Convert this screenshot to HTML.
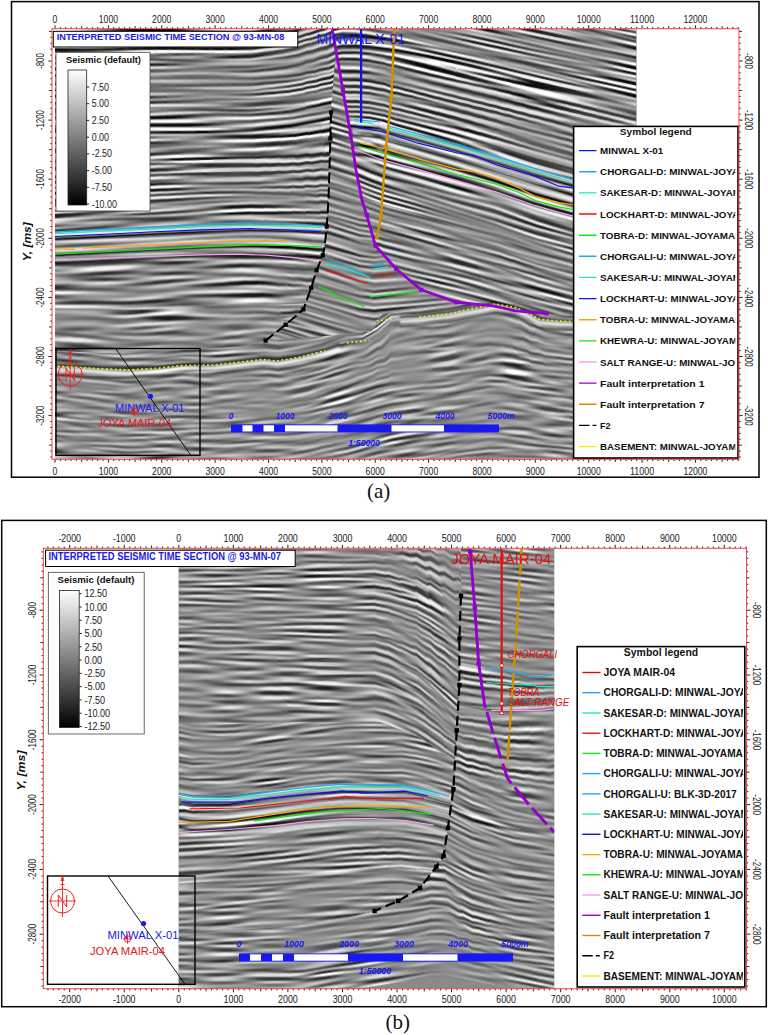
<!DOCTYPE html><html><head><meta charset="utf-8"><title>fig</title><style>html,body{margin:0;padding:0;background:#fff}svg{display:block}text{font-family:"Liberation Sans",sans-serif}</style></head><body><svg width="768" height="1035" viewBox="0 0 768 1035"><defs><filter id="fh" x="-300%" y="-60%" width="700%" height="220%" color-interpolation-filters="sRGB">
<feTurbulence type="fractalNoise" baseFrequency="0.010 0.42" numOctaves="1" seed="11" result="n0"/>
<feColorMatrix in="n0" type="matrix" values="1 0 0 0 0  1 0 0 0 0  1 0 0 0 0  0 0 0 0 1" result="n"/>
<feGaussianBlur in="n" stdDeviation="6 1.0" result="a"/>
<feGaussianBlur in="n" stdDeviation="6 2.5" result="b0"/>
<feColorMatrix in="b0" type="matrix" values="1 0 0 0 0.0588  0 1 0 0 0.0588  0 0 1 0 0.0588  0 0 0 0 1" result="b"/>
<feComposite in="a" in2="b" operator="arithmetic" k1="0" k2="8.5" k3="-8.5" k4="1" result="c"/>
<feTurbulence type="fractalNoise" baseFrequency="0.008 0.02" numOctaves="2" seed="5" result="m0"/>
<feColorMatrix in="m0" type="matrix" values="1.4 0 0 0 0.150  1.4 0 0 0 0.150  1.4 0 0 0 0.150  0 0 0 0 1" result="m"/>
<feComposite in="c" in2="m" operator="arithmetic" k1="1" k2="0" k3="-0.5" k4="0.53" result="e"/>
<feComposite in="e" in2="SourceAlpha" operator="in"/>
</filter><filter id="fm" x="-300%" y="-60%" width="700%" height="220%" color-interpolation-filters="sRGB">
<feTurbulence type="fractalNoise" baseFrequency="0.014 0.40" numOctaves="1" seed="17" result="n0"/>
<feColorMatrix in="n0" type="matrix" values="1 0 0 0 0  1 0 0 0 0  1 0 0 0 0  0 0 0 0 1" result="n"/>
<feGaussianBlur in="n" stdDeviation="4.5 1.0" result="a"/>
<feGaussianBlur in="n" stdDeviation="4.5 2.6" result="b0"/>
<feColorMatrix in="b0" type="matrix" values="1 0 0 0 0.0833  0 1 0 0 0.0833  0 0 1 0 0.0833  0 0 0 0 1" result="b"/>
<feComposite in="a" in2="b" operator="arithmetic" k1="0" k2="6.0" k3="-6.0" k4="1" result="c"/>
<feTurbulence type="fractalNoise" baseFrequency="0.008 0.02" numOctaves="2" seed="5" result="m0"/>
<feColorMatrix in="m0" type="matrix" values="1.4 0 0 0 0.050  1.4 0 0 0 0.050  1.4 0 0 0 0.050  0 0 0 0 1" result="m"/>
<feComposite in="c" in2="m" operator="arithmetic" k1="1" k2="0" k3="-0.5" k4="0.54" result="e"/>
<feComposite in="e" in2="SourceAlpha" operator="in"/>
</filter><filter id="fl" x="-300%" y="-60%" width="700%" height="220%" color-interpolation-filters="sRGB">
<feTurbulence type="fractalNoise" baseFrequency="0.020 0.44" numOctaves="1" seed="29" result="n0"/>
<feColorMatrix in="n0" type="matrix" values="1 0 0 0 0  1 0 0 0 0  1 0 0 0 0  0 0 0 0 1" result="n"/>
<feGaussianBlur in="n" stdDeviation="3.5 1.0" result="a"/>
<feGaussianBlur in="n" stdDeviation="3.5 2.4" result="b0"/>
<feColorMatrix in="b0" type="matrix" values="1 0 0 0 0.0769  0 1 0 0 0.0769  0 0 1 0 0.0769  0 0 0 0 1" result="b"/>
<feComposite in="a" in2="b" operator="arithmetic" k1="0" k2="6.5" k3="-6.5" k4="1" result="c"/>
<feTurbulence type="fractalNoise" baseFrequency="0.012 0.03" numOctaves="2" seed="5" result="m0"/>
<feColorMatrix in="m0" type="matrix" values="1.3 0 0 0 -0.030  1.3 0 0 0 -0.030  1.3 0 0 0 -0.030  0 0 0 0 1" result="m"/>
<feComposite in="c" in2="m" operator="arithmetic" k1="1" k2="0" k3="-0.5" k4="0.55" result="e"/>
<feComposite in="e" in2="SourceAlpha" operator="in"/>
</filter><filter id="fd" x="-300%" y="-60%" width="700%" height="220%" color-interpolation-filters="sRGB">
<feTurbulence type="fractalNoise" baseFrequency="0.028 0.44" numOctaves="1" seed="41" result="n0"/>
<feColorMatrix in="n0" type="matrix" values="1 0 0 0 0  1 0 0 0 0  1 0 0 0 0  0 0 0 0 1" result="n"/>
<feGaussianBlur in="n" stdDeviation="2.6 1.0" result="a"/>
<feGaussianBlur in="n" stdDeviation="2.6 2.4" result="b0"/>
<feColorMatrix in="b0" type="matrix" values="1 0 0 0 0.1000  0 1 0 0 0.1000  0 0 1 0 0.1000  0 0 0 0 1" result="b"/>
<feComposite in="a" in2="b" operator="arithmetic" k1="0" k2="5.0" k3="-5.0" k4="1" result="c"/>
<feTurbulence type="fractalNoise" baseFrequency="0.014 0.03" numOctaves="2" seed="5" result="m0"/>
<feColorMatrix in="m0" type="matrix" values="1.2 0 0 0 0.000  1.2 0 0 0 0.000  1.2 0 0 0 0.000  0 0 0 0 1" result="m"/>
<feComposite in="c" in2="m" operator="arithmetic" k1="1" k2="0" k3="-0.5" k4="0.56" result="e"/>
<feComposite in="e" in2="SourceAlpha" operator="in"/>
</filter><linearGradient id="cb" x1="0" y1="0" x2="0" y2="1"><stop offset="0" stop-color="#fff"/><stop offset="1" stop-color="#000"/></linearGradient><clipPath id="cAL"><polygon points="55.0,29.0 332.2,29.0 336.0,50.0 331.0,112.4 330.4,138.5 328.5,200.0 326.7,226.6 324.6,246.9 322.8,255.2 316.6,270.3 311.2,287.8 303.4,309.4 285.7,324.7 265.6,340.6 245.0,346.0 183.0,350.0 128.0,354.0 55.0,351.0"/></clipPath><clipPath id="cAM"><polygon points="336.0,50.0 342.9,90.3 350.7,134.6 356.0,170.0 361.9,200.0 366.8,215.1 375.4,245.6 396.2,269.0 421.3,289.8 456.2,302.3 420.0,309.0 380.0,314.0 372.0,331.0 347.0,334.0 300.0,338.0 265.6,340.6 285.7,324.7 303.4,309.4 311.2,287.8 316.6,270.3 322.8,255.2 324.6,246.9 326.7,226.6 328.5,200.0 330.4,138.5 331.0,112.4"/></clipPath><clipPath id="cAR"><polygon points="332.2,29.0 342.9,90.3 350.7,134.6 356.0,170.0 361.9,200.0 366.8,215.1 375.4,245.6 396.2,269.0 421.3,289.8 456.2,302.3 491.7,305.7 515.4,310.8 546.6,313.5 590.0,318.0 636.5,322.0 636.5,29.0"/></clipPath><clipPath id="cAD"><polygon points="55.0,351.0 128.0,354.0 183.0,350.0 245.0,346.0 265.6,340.6 300.0,338.0 347.0,334.0 372.0,331.0 380.0,314.0 420.0,309.0 456.2,302.3 491.7,305.7 515.4,310.8 546.6,313.5 590.0,318.0 636.5,322.0 636.5,459.0 55.0,459.0"/></clipPath><clipPath id="cA"><rect x="55" y="29" width="581.5" height="430"/></clipPath><filter id="bl1" x="-5%" y="-50%" width="110%" height="200%"><feGaussianBlur stdDeviation="1.0"/></filter><clipPath id="cLA"><rect x="574" y="127" width="161.3" height="330"/></clipPath><clipPath id="cBL"><polygon points="178.6,549.0 461.0,549.0 461.0,595.8 459.4,638.5 459.4,685.1 456.7,730.4 453.4,789.2 447.9,828.0 443.6,855.9 436.4,866.7 420.0,888.0 398.3,900.9 374.6,911.0 330.0,922.0 250.0,930.0 178.6,934.0"/></clipPath><clipPath id="cBR"><polygon points="461.0,549.0 461.0,595.8 459.4,638.5 459.4,685.1 456.7,730.4 453.4,789.2 447.9,828.0 443.6,855.9 436.4,866.7 420.0,888.0 398.3,900.9 374.6,911.0 330.0,922.0 250.0,930.0 178.6,934.0 178.6,988.5 554.3,988.5 554.3,549.0"/></clipPath><clipPath id="cB"><rect x="178.6" y="549" width="375.7" height="439.5"/></clipPath><clipPath id="cBL1"><polygon points="178.6,540.0 178.6,722.0 230.0,724.0 300.0,722.0 380.0,722.0 420.0,738.0 455.0,762.0 470.0,772.0 470.0,540.0"/></clipPath><clipPath id="cBL2"><polygon points="178.6,722.0 230.0,724.0 300.0,722.0 380.0,722.0 420.0,738.0 455.0,762.0 470.0,772.0 470.0,1000.0 178.6,1000.0"/></clipPath><clipPath id="cLB"><rect x="578" y="647" width="165.1" height="340"/></clipPath></defs><rect x="55" y="29" width="581.5" height="430" fill="#8a8a8a"/><g clip-path="url(#cA)"><g clip-path="url(#cAD)"><polygon points="54.1,324.3 69.7,324.3 69.2,370.2" transform="matrix(1 0.0588 0 1.0200 0 -13.74)" filter="url(#fl)"/><polygon points="54.8,323.9 69.9,369.8 54.3,369.8" transform="matrix(1 0.0588 0 1.0200 0 -13.74)" filter="url(#fl)"/><polygon points="54.1,368.4 69.7,368.4 69.2,417.2" transform="matrix(1 0.0588 0 1.0212 0 -14.18)" filter="url(#fd)"/><polygon points="54.8,368.0 69.9,416.7 54.3,416.8" transform="matrix(1 0.0548 0 1.0224 0 -14.40)" filter="url(#fd)"/><polygon points="54.1,415.4 69.7,415.4 69.2,466.2" transform="matrix(1 0.0548 0 1.0278 0 -16.66)" filter="url(#fd)"/><polygon points="54.8,415.0 69.9,465.8 54.3,465.8" transform="matrix(1 0.0822 0 1.0200 0 -14.91)" filter="url(#fd)"/><polygon points="54.1,464.4 69.7,464.4 69.1,521.1" transform="matrix(1 0.0822 0 1.0200 0 -14.91)" filter="url(#fd)"/><polygon points="54.9,464.0 69.9,520.7 54.3,520.7" transform="matrix(1 0.0822 0 1.0200 0 -14.91)" filter="url(#fd)"/><polygon points="68.1,324.3 83.7,324.3 83.2,370.2" transform="matrix(1 0.0588 0 1.0200 0 -13.74)" filter="url(#fl)"/><polygon points="68.8,323.9 83.9,369.8 68.3,369.8" transform="matrix(1 0.0588 0 1.0200 0 -13.74)" filter="url(#fl)"/><polygon points="68.1,368.4 83.7,368.4 83.2,417.2" transform="matrix(1 0.0588 0 1.0200 0 -13.74)" filter="url(#fd)"/><polygon points="68.8,368.0 83.9,416.7 68.3,416.8" transform="matrix(1 0.0548 0 1.0212 0 -13.90)" filter="url(#fd)"/><polygon points="68.1,415.4 83.7,415.4 83.2,466.2" transform="matrix(1 0.0548 0 1.0356 0 -19.91)" filter="url(#fd)"/><polygon points="68.8,415.0 83.9,465.8 68.3,465.8" transform="matrix(1 0.0822 0 1.0278 0 -18.55)" filter="url(#fd)"/><polygon points="68.1,464.4 83.7,464.4 83.1,521.1" transform="matrix(1 0.0822 0 1.0200 0 -14.91)" filter="url(#fd)"/><polygon points="68.9,464.0 83.9,520.7 68.3,520.7" transform="matrix(1 0.0822 0 1.0200 0 -14.91)" filter="url(#fd)"/><polygon points="82.1,324.3 97.7,324.3 97.2,370.2" transform="matrix(1 0.0545 0 1.0200 0 -13.38)" filter="url(#fl)"/><polygon points="82.8,323.9 97.9,369.8 82.3,369.8" transform="matrix(1 0.0545 0 1.0200 0 -13.38)" filter="url(#fl)"/><polygon points="82.1,368.4 97.7,368.4 97.2,417.2" transform="matrix(1 0.0545 0 1.0201 0 -13.41)" filter="url(#fd)"/><polygon points="82.8,368.0 97.9,416.7 82.3,416.8" transform="matrix(1 0.0548 0 1.0200 0 -13.40)" filter="url(#fd)"/><polygon points="82.1,415.4 97.7,415.4 97.2,466.2" transform="matrix(1 0.0548 0 1.0435 0 -23.17)" filter="url(#fd)"/><polygon points="82.8,415.0 97.9,465.8 82.3,465.8" transform="matrix(1 0.0822 0 1.0356 0 -22.19)" filter="url(#fd)"/><polygon points="82.1,464.4 97.7,464.4 97.1,521.1" transform="matrix(1 0.0822 0 1.0200 0 -14.91)" filter="url(#fd)"/><polygon points="82.9,464.0 97.9,520.7 82.3,520.7" transform="matrix(1 0.0822 0 1.0200 0 -14.91)" filter="url(#fd)"/><polygon points="96.1,324.3 111.7,324.3 111.2,370.2" transform="matrix(1 0.0513 0 1.0200 0 -13.06)" filter="url(#fl)"/><polygon points="96.8,323.9 111.9,369.8 96.3,369.8" transform="matrix(1 0.0513 0 1.0200 0 -13.06)" filter="url(#fl)"/><polygon points="96.1,368.4 111.7,368.4 111.2,417.2" transform="matrix(1 0.0513 0 1.0211 0 -13.48)" filter="url(#fd)"/><polygon points="96.8,368.0 111.9,416.7 96.3,416.8" transform="matrix(1 0.0548 0 1.0201 0 -13.44)" filter="url(#fd)"/><polygon points="96.1,415.4 111.7,415.4 111.2,466.2" transform="matrix(1 0.0548 0 1.0513 0 -26.42)" filter="url(#fd)"/><polygon points="96.8,415.0 111.9,465.8 96.3,465.8" transform="matrix(1 0.0822 0 1.0435 0 -25.83)" filter="url(#fd)"/><polygon points="96.1,464.4 111.7,464.4 111.1,521.1" transform="matrix(1 0.0822 0 1.0200 0 -14.91)" filter="url(#fd)"/><polygon points="96.9,464.0 111.9,520.7 96.3,520.7" transform="matrix(1 0.0822 0 1.0200 0 -14.91)" filter="url(#fd)"/><polygon points="110.1,324.3 125.7,324.3 125.2,370.2" transform="matrix(1 0.0513 0 1.0200 0 -13.06)" filter="url(#fl)"/><polygon points="110.8,323.9 125.9,369.8 110.3,369.8" transform="matrix(1 0.0513 0 1.0200 0 -13.06)" filter="url(#fl)"/><polygon points="110.1,368.4 125.7,368.4 125.2,417.2" transform="matrix(1 0.0513 0 1.0222 0 -13.87)" filter="url(#fd)"/><polygon points="110.8,368.0 125.9,416.7 110.3,416.8" transform="matrix(1 0.0548 0 1.0211 0 -13.87)" filter="url(#fd)"/><polygon points="110.1,415.4 125.7,415.4 125.2,466.2" transform="matrix(1 0.0548 0 1.0591 0 -29.68)" filter="url(#fd)"/><polygon points="110.8,415.0 125.9,465.8 110.3,465.8" transform="matrix(1 0.0822 0 1.0513 0 -29.46)" filter="url(#fd)"/><polygon points="110.1,464.4 125.7,464.4 125.1,521.1" transform="matrix(1 0.0822 0 1.0200 0 -14.91)" filter="url(#fd)"/><polygon points="110.9,464.0 125.9,520.7 110.3,520.7" transform="matrix(1 0.0822 0 1.0200 0 -14.91)" filter="url(#fd)"/><polygon points="124.1,324.3 139.7,324.3 139.2,370.2" transform="matrix(1 -0.0397 0 1.0200 0 -1.69)" filter="url(#fl)"/><polygon points="124.8,323.9 139.9,369.8 124.3,369.8" transform="matrix(1 -0.0397 0 1.0200 0 -1.69)" filter="url(#fl)"/><polygon points="124.1,368.4 139.7,368.4 139.2,417.2" transform="matrix(1 -0.0397 0 1.0293 0 -5.14)" filter="url(#fd)"/><polygon points="124.8,368.0 139.9,416.7 124.3,416.8" transform="matrix(1 -0.0157 0 1.0222 0 -5.50)" filter="url(#fd)"/><polygon points="124.1,415.4 139.7,415.4 139.2,466.2" transform="matrix(1 -0.0157 0 1.0686 0 -24.83)" filter="url(#fd)"/><polygon points="124.8,415.0 139.9,465.8 124.3,465.8" transform="matrix(1 0.0176 0 1.0591 0 -25.03)" filter="url(#fd)"/><polygon points="124.1,464.4 139.7,464.4 139.1,521.1" transform="matrix(1 0.0176 0 1.0200 0 -6.84)" filter="url(#fd)"/><polygon points="124.9,464.0 139.9,520.7 124.3,520.7" transform="matrix(1 0.0176 0 1.0200 0 -6.84)" filter="url(#fd)"/><polygon points="138.1,324.3 153.7,324.3 153.2,370.2" transform="matrix(1 -0.0645 0 1.0200 0 1.76)" filter="url(#fl)"/><polygon points="138.8,323.9 153.9,369.8 138.3,369.8" transform="matrix(1 -0.0645 0 1.0200 0 1.76)" filter="url(#fl)"/><polygon points="138.1,368.4 153.7,368.4 153.2,417.2" transform="matrix(1 -0.0645 0 1.0382 0 -4.95)" filter="url(#fd)"/><polygon points="138.8,368.0 153.9,416.7 138.3,416.8" transform="matrix(1 -0.0349 0 1.0293 0 -5.81)" filter="url(#fd)"/><polygon points="138.1,415.4 153.7,415.4 153.2,466.2" transform="matrix(1 -0.0349 0 1.0786 0 -26.30)" filter="url(#fd)"/><polygon points="138.8,415.0 153.9,465.8 138.3,465.8" transform="matrix(1 0.0000 0 1.0686 0 -27.00)" filter="url(#fd)"/><polygon points="138.1,464.4 153.7,464.4 153.1,521.1" transform="matrix(1 0.0000 0 1.0200 0 -4.39)" filter="url(#fd)"/><polygon points="138.9,464.0 153.9,520.7 138.3,520.7" transform="matrix(1 -0.0000 0 1.0200 0 -4.39)" filter="url(#fd)"/><polygon points="152.1,324.3 167.7,324.3 167.2,370.2" transform="matrix(1 -0.0896 0 1.0200 0 5.59)" filter="url(#fl)"/><polygon points="152.8,323.9 167.9,369.8 152.3,369.8" transform="matrix(1 -0.0896 0 1.0200 0 5.59)" filter="url(#fl)"/><polygon points="152.1,368.4 167.7,368.4 167.2,417.2" transform="matrix(1 -0.0896 0 1.0545 0 -7.14)" filter="url(#fd)"/><polygon points="152.8,368.0 167.9,416.7 152.3,416.8" transform="matrix(1 -0.0349 0 1.0382 0 -9.49)" filter="url(#fd)"/><polygon points="152.1,415.4 167.7,415.4 167.2,466.2" transform="matrix(1 -0.0349 0 1.0886 0 -30.44)" filter="url(#fd)"/><polygon points="152.8,415.0 167.9,465.8 152.3,465.8" transform="matrix(1 -0.0000 0 1.0786 0 -31.64)" filter="url(#fd)"/><polygon points="152.1,464.4 167.7,464.4 167.1,521.1" transform="matrix(1 -0.0000 0 1.0200 0 -4.39)" filter="url(#fd)"/><polygon points="152.9,464.0 167.9,520.7 152.3,520.7" transform="matrix(1 -0.0000 0 1.0200 0 -4.39)" filter="url(#fd)"/><polygon points="166.1,324.3 181.7,324.3 181.2,370.2" transform="matrix(1 -0.1083 0 1.0200 0 8.73)" filter="url(#fl)"/><polygon points="166.8,323.9 181.9,369.8 166.3,369.8" transform="matrix(1 -0.1083 0 1.0200 0 8.72)" filter="url(#fl)"/><polygon points="166.1,368.4 181.7,368.4 181.2,417.2" transform="matrix(1 -0.1083 0 1.0764 0 -12.09)" filter="url(#fd)"/><polygon points="166.8,368.0 181.9,416.7 166.3,416.8" transform="matrix(1 -0.0349 0 1.0545 0 -16.27)" filter="url(#fd)"/><polygon points="166.1,415.4 181.7,415.4 181.2,466.2" transform="matrix(1 -0.0349 0 1.0985 0 -34.59)" filter="url(#fd)"/><polygon points="166.8,415.0 181.9,465.8 166.3,465.8" transform="matrix(1 0.0000 0 1.0886 0 -36.27)" filter="url(#fd)"/><polygon points="166.1,464.4 181.7,464.4 181.1,521.1" transform="matrix(1 0.0000 0 1.0200 0 -4.39)" filter="url(#fd)"/><polygon points="166.9,464.0 181.9,520.7 166.3,520.7" transform="matrix(1 -0.0000 0 1.0200 0 -4.39)" filter="url(#fd)"/><polygon points="180.1,324.3 195.7,324.3 195.2,370.2" transform="matrix(1 -0.0265 0 1.0200 0 -6.08)" filter="url(#fl)"/><polygon points="180.8,323.9 195.9,369.8 180.3,369.8" transform="matrix(1 -0.0265 0 1.0200 0 -6.08)" filter="url(#fl)"/><polygon points="180.1,368.4 195.7,368.4 195.2,417.2" transform="matrix(1 -0.0265 0 1.0739 0 -25.98)" filter="url(#fd)"/><polygon points="180.8,368.0 195.9,416.7 180.3,416.8" transform="matrix(1 -0.0349 0 1.0764 0 -25.38)" filter="url(#fd)"/><polygon points="180.1,415.4 195.7,415.4 195.2,466.2" transform="matrix(1 -0.0349 0 1.1085 0 -38.74)" filter="url(#fd)"/><polygon points="180.8,415.0 195.9,465.8 180.3,465.8" transform="matrix(1 -0.0000 0 1.0985 0 -40.90)" filter="url(#fd)"/><polygon points="180.1,464.4 195.7,464.4 195.1,521.1" transform="matrix(1 -0.0000 0 1.0200 0 -4.39)" filter="url(#fd)"/><polygon points="180.9,464.0 195.9,520.7 180.3,520.7" transform="matrix(1 -0.0000 0 1.0200 0 -4.39)" filter="url(#fd)"/><polygon points="194.1,324.3 209.7,324.3 209.2,370.2" transform="matrix(1 -0.0129 0 1.0200 0 -8.74)" filter="url(#fl)"/><polygon points="194.8,323.9 209.9,369.8 194.3,369.8" transform="matrix(1 -0.0129 0 1.0200 0 -8.74)" filter="url(#fl)"/><polygon points="194.1,368.4 209.7,368.4 209.2,417.2" transform="matrix(1 -0.0129 0 1.0673 0 -26.21)" filter="url(#fd)"/><polygon points="194.8,368.0 209.9,416.7 194.3,416.8" transform="matrix(1 -0.0349 0 1.0739 0 -24.35)" filter="url(#fd)"/><polygon points="194.1,415.4 209.7,415.4 209.2,466.2" transform="matrix(1 -0.0349 0 1.1184 0 -42.88)" filter="url(#fd)"/><polygon points="194.8,415.0 209.9,465.8 194.3,465.8" transform="matrix(1 -0.0000 0 1.1085 0 -45.54)" filter="url(#fd)"/><polygon points="194.1,464.4 209.7,464.4 209.1,521.1" transform="matrix(1 -0.0000 0 1.0200 0 -4.39)" filter="url(#fd)"/><polygon points="194.9,464.0 209.9,520.7 194.3,520.7" transform="matrix(1 0.0000 0 1.0200 0 -4.39)" filter="url(#fd)"/><polygon points="208.1,324.3 223.7,324.3 223.2,370.2" transform="matrix(1 -0.0772 0 1.0200 0 4.70)" filter="url(#fl)"/><polygon points="208.8,323.9 223.9,369.8 208.3,369.8" transform="matrix(1 -0.0772 0 1.0200 0 4.70)" filter="url(#fl)"/><polygon points="208.1,368.4 223.7,368.4 223.2,417.2" transform="matrix(1 -0.0772 0 1.0733 0 -14.97)" filter="url(#fd)"/><polygon points="208.8,368.0 223.9,416.7 208.3,416.8" transform="matrix(1 -0.0573 0 1.0673 0 -16.93)" filter="url(#fd)"/><polygon points="208.1,415.4 223.7,415.4 223.2,466.2" transform="matrix(1 -0.0573 0 1.1263 0 -41.45)" filter="url(#fd)"/><polygon points="208.8,415.0 223.9,465.8 208.3,465.8" transform="matrix(1 -0.0299 0 1.1184 0 -43.92)" filter="url(#fd)"/><polygon points="208.1,464.4 223.7,464.4 223.1,521.1" transform="matrix(1 -0.0299 0 1.0200 0 1.86)" filter="url(#fd)"/><polygon points="208.9,464.0 223.9,520.7 208.3,520.7" transform="matrix(1 -0.0299 0 1.0200 0 1.86)" filter="url(#fd)"/><polygon points="222.1,324.3 237.7,324.3 237.2,370.2" transform="matrix(1 -0.1129 0 1.0200 0 12.66)" filter="url(#fl)"/><polygon points="222.8,323.9 237.9,369.8 222.3,369.8" transform="matrix(1 -0.1129 0 1.0200 0 12.66)" filter="url(#fl)"/><polygon points="222.1,368.4 237.7,368.4 237.2,417.2" transform="matrix(1 -0.1129 0 1.0861 0 -11.75)" filter="url(#fd)"/><polygon points="222.8,368.0 237.9,416.7 222.3,416.8" transform="matrix(1 -0.0698 0 1.0733 0 -16.62)" filter="url(#fd)"/><polygon points="222.1,415.4 237.7,415.4 237.2,466.2" transform="matrix(1 -0.0698 0 1.1329 0 -41.44)" filter="url(#fd)"/><polygon points="222.8,415.0 237.9,465.8 222.3,465.8" transform="matrix(1 -0.0465 0 1.1263 0 -43.86)" filter="url(#fd)"/><polygon points="222.1,464.4 237.7,464.4 237.1,521.1" transform="matrix(1 -0.0465 0 1.0200 0 5.57)" filter="url(#fd)"/><polygon points="222.9,464.0 237.9,520.7 222.3,520.7" transform="matrix(1 -0.0465 0 1.0200 0 5.57)" filter="url(#fd)"/><polygon points="236.1,324.3 251.7,324.3 251.2,370.2" transform="matrix(1 -0.1121 0 1.0200 0 12.48)" filter="url(#fl)"/><polygon points="236.8,323.9 251.9,369.8 236.3,369.8" transform="matrix(1 -0.1121 0 1.0200 0 12.48)" filter="url(#fl)"/><polygon points="236.1,368.4 251.7,368.4 251.2,417.2" transform="matrix(1 -0.1121 0 1.0988 0 -16.60)" filter="url(#fd)"/><polygon points="236.8,368.0 251.9,416.7 236.3,416.8" transform="matrix(1 -0.0698 0 1.0861 0 -21.97)" filter="url(#fd)"/><polygon points="236.1,415.4 251.7,415.4 251.2,466.2" transform="matrix(1 -0.0698 0 1.1396 0 -44.20)" filter="url(#fd)"/><polygon points="236.8,415.0 251.9,465.8 236.3,465.8" transform="matrix(1 -0.0465 0 1.1329 0 -46.95)" filter="url(#fd)"/><polygon points="236.1,464.4 251.7,464.4 251.1,521.1" transform="matrix(1 -0.0465 0 1.0200 0 5.57)" filter="url(#fd)"/><polygon points="236.9,464.0 251.9,520.7 236.3,520.7" transform="matrix(1 -0.0465 0 1.0200 0 5.57)" filter="url(#fd)"/><polygon points="250.1,324.3 265.7,324.3 265.2,370.2" transform="matrix(1 -0.0799 0 1.0200 0 4.40)" filter="url(#fl)"/><polygon points="250.8,323.9 265.9,369.8 250.3,369.8" transform="matrix(1 -0.0799 0 1.0200 0 4.40)" filter="url(#fl)"/><polygon points="250.1,368.4 265.7,368.4 265.2,417.2" transform="matrix(1 -0.0799 0 1.1018 0 -25.80)" filter="url(#fd)"/><polygon points="250.8,368.0 265.9,416.7 250.3,416.8" transform="matrix(1 -0.0698 0 1.0988 0 -27.23)" filter="url(#fd)"/><polygon points="250.1,415.4 265.7,415.4 265.2,466.2" transform="matrix(1 -0.0698 0 1.1462 0 -46.96)" filter="url(#fd)"/><polygon points="250.8,415.0 265.9,465.8 250.3,465.8" transform="matrix(1 -0.0465 0 1.1396 0 -50.04)" filter="url(#fd)"/><polygon points="250.1,464.4 265.7,464.4 265.1,521.1" transform="matrix(1 -0.0465 0 1.0200 0 5.57)" filter="url(#fd)"/><polygon points="250.9,464.0 265.9,520.7 250.3,520.7" transform="matrix(1 -0.0465 0 1.0200 0 5.57)" filter="url(#fd)"/><polygon points="264.1,324.3 279.7,324.3 279.2,370.2" transform="matrix(1 0.0670 0 1.0200 0 -34.54)" filter="url(#fl)"/><polygon points="264.8,323.9 279.9,369.8 264.3,369.8" transform="matrix(1 0.0670 0 1.0200 0 -34.54)" filter="url(#fl)"/><polygon points="264.1,368.4 279.7,368.4 279.2,417.2" transform="matrix(1 0.0670 0 1.0610 0 -49.68)" filter="url(#fd)"/><polygon points="264.8,368.0 279.9,416.7 264.3,416.8" transform="matrix(1 -0.0698 0 1.1018 0 -28.49)" filter="url(#fd)"/><polygon points="264.1,415.4 279.7,415.4 279.2,466.2" transform="matrix(1 -0.0698 0 1.1528 0 -49.73)" filter="url(#fd)"/><polygon points="264.8,415.0 279.9,465.8 264.3,465.8" transform="matrix(1 -0.0465 0 1.1462 0 -53.13)" filter="url(#fd)"/><polygon points="264.1,464.4 279.7,464.4 279.1,521.1" transform="matrix(1 -0.0465 0 1.0200 0 5.57)" filter="url(#fd)"/><polygon points="264.9,464.0 279.9,520.7 264.3,520.7" transform="matrix(1 -0.0465 0 1.0200 0 5.57)" filter="url(#fd)"/><polygon points="278.1,324.3 293.7,324.3 293.2,370.2" transform="matrix(1 -0.1739 0 1.0200 0 32.67)" filter="url(#fl)"/><polygon points="278.8,323.9 293.9,369.8 278.3,369.8" transform="matrix(1 -0.1739 0 1.0200 0 32.67)" filter="url(#fl)"/><polygon points="278.1,368.4 293.7,368.4 293.2,417.2" transform="matrix(1 -0.1739 0 1.0921 0 6.07)" filter="url(#fd)"/><polygon points="278.8,368.0 293.9,416.7 278.3,416.8" transform="matrix(1 -0.0698 0 1.0610 0 -11.52)" filter="url(#fd)"/><polygon points="278.1,415.4 293.7,415.4 293.2,466.2" transform="matrix(1 -0.0698 0 1.1595 0 -52.49)" filter="url(#fd)"/><polygon points="278.8,415.0 293.9,465.8 278.3,465.8" transform="matrix(1 -0.0465 0 1.1528 0 -56.21)" filter="url(#fd)"/><polygon points="278.1,464.4 293.7,464.4 293.1,521.1" transform="matrix(1 -0.0465 0 1.0200 0 5.57)" filter="url(#fd)"/><polygon points="278.9,464.0 293.9,520.7 278.3,520.7" transform="matrix(1 -0.0465 0 1.0200 0 5.57)" filter="url(#fd)"/><polygon points="292.1,324.3 307.7,324.3 307.2,370.2" transform="matrix(1 -0.2170 0 1.0200 0 45.29)" filter="url(#fl)"/><polygon points="292.8,323.9 307.9,369.8 292.3,369.8" transform="matrix(1 -0.2170 0 1.0200 0 45.29)" filter="url(#fl)"/><polygon points="292.1,368.4 307.7,368.4 307.2,417.2" transform="matrix(1 -0.2170 0 1.1051 0 13.86)" filter="url(#fd)"/><polygon points="292.8,368.0 307.9,416.7 292.3,416.8" transform="matrix(1 -0.1732 0 1.0921 0 5.86)" filter="url(#fd)"/><polygon points="292.1,415.4 307.7,415.4 307.2,466.2" transform="matrix(1 -0.1732 0 1.1780 0 -29.89)" filter="url(#fd)"/><polygon points="292.8,415.0 307.9,465.8 292.3,465.8" transform="matrix(1 -0.1084 0 1.1595 0 -41.18)" filter="url(#fd)"/><polygon points="292.1,464.4 307.7,464.4 307.1,521.1" transform="matrix(1 -0.1084 0 1.0200 0 23.69)" filter="url(#fd)"/><polygon points="292.9,464.0 307.9,520.7 292.3,520.7" transform="matrix(1 -0.1084 0 1.0200 0 23.69)" filter="url(#fd)"/><polygon points="306.1,324.3 321.7,324.3 321.2,370.2" transform="matrix(1 -0.2600 0 1.0200 0 58.50)" filter="url(#fl)"/><polygon points="306.8,323.9 321.9,369.8 306.3,369.8" transform="matrix(1 -0.2600 0 1.0200 0 58.50)" filter="url(#fl)"/><polygon points="306.1,368.4 321.7,368.4 321.2,417.2" transform="matrix(1 -0.2600 0 1.1002 0 28.90)" filter="url(#fd)"/><polygon points="306.8,368.0 321.9,416.7 306.3,416.8" transform="matrix(1 -0.2766 0 1.1051 0 32.17)" filter="url(#fd)"/><polygon points="306.1,415.4 321.7,415.4 321.2,466.2" transform="matrix(1 -0.2766 0 1.2084 0 -10.78)" filter="url(#fd)"/><polygon points="306.8,415.0 321.9,465.8 306.3,465.8" transform="matrix(1 -0.1702 0 1.1780 0 -30.80)" filter="url(#fd)"/><polygon points="306.1,464.4 321.7,464.4 321.1,521.1" transform="matrix(1 -0.1702 0 1.0200 0 42.68)" filter="url(#fd)"/><polygon points="306.9,464.0 321.9,520.7 306.3,520.7" transform="matrix(1 -0.1702 0 1.0200 0 42.68)" filter="url(#fd)"/><polygon points="320.1,324.3 335.7,324.3 335.2,370.2" transform="matrix(1 -0.3275 0 1.0200 0 80.18)" filter="url(#fl)"/><polygon points="320.8,323.9 335.9,369.8 320.3,369.8" transform="matrix(1 -0.3275 0 1.0200 0 80.18)" filter="url(#fl)"/><polygon points="320.1,368.4 335.7,368.4 335.2,417.2" transform="matrix(1 -0.3275 0 1.1154 0 44.98)" filter="url(#fd)"/><polygon points="320.8,368.0 335.9,416.7 320.3,416.8" transform="matrix(1 -0.2766 0 1.1002 0 34.23)" filter="url(#fd)"/><polygon points="320.1,415.4 335.7,415.4 335.2,466.2" transform="matrix(1 -0.2766 0 1.2388 0 -23.43)" filter="url(#fd)"/><polygon points="320.8,415.0 335.9,465.8 320.3,465.8" transform="matrix(1 -0.1702 0 1.2084 0 -44.93)" filter="url(#fd)"/><polygon points="320.1,464.4 335.7,464.4 335.1,521.1" transform="matrix(1 -0.1702 0 1.0200 0 42.68)" filter="url(#fd)"/><polygon points="320.9,464.0 335.9,520.7 320.3,520.7" transform="matrix(1 -0.1702 0 1.0200 0 42.68)" filter="url(#fd)"/><polygon points="334.1,324.3 349.7,324.3 349.2,370.2" transform="matrix(1 -0.3269 0 1.0200 0 79.96)" filter="url(#fl)"/><polygon points="334.8,323.9 349.9,369.8 334.3,369.8" transform="matrix(1 -0.3269 0 1.0200 0 79.96)" filter="url(#fl)"/><polygon points="334.1,368.4 349.7,368.4 349.2,417.2" transform="matrix(1 -0.3269 0 1.1287 0 39.84)" filter="url(#fd)"/><polygon points="334.8,368.0 349.9,416.7 334.3,416.8" transform="matrix(1 -0.2822 0 1.1154 0 29.79)" filter="url(#fd)"/><polygon points="334.1,415.4 349.7,415.4 349.2,466.2" transform="matrix(1 -0.2822 0 1.2669 0 -33.28)" filter="url(#fd)"/><polygon points="334.8,415.0 349.9,465.8 334.3,465.8" transform="matrix(1 -0.1835 0 1.2388 0 -54.62)" filter="url(#fd)"/><polygon points="334.1,464.4 349.7,464.4 349.1,521.1" transform="matrix(1 -0.1835 0 1.0200 0 47.12)" filter="url(#fd)"/><polygon points="334.9,464.0 349.9,520.7 334.3,520.7" transform="matrix(1 -0.1835 0 1.0200 0 47.12)" filter="url(#fd)"/><polygon points="348.1,324.3 363.7,324.3 363.2,370.2" transform="matrix(1 -0.1609 0 1.0200 0 22.02)" filter="url(#fl)"/><polygon points="348.8,323.9 363.9,369.8 348.3,369.8" transform="matrix(1 -0.1609 0 1.0200 0 22.02)" filter="url(#fl)"/><polygon points="348.1,368.4 363.7,368.4 363.2,417.2" transform="matrix(1 -0.1609 0 1.0825 0 -1.05)" filter="url(#fd)"/><polygon points="348.8,368.0 363.9,416.7 348.3,416.8" transform="matrix(1 -0.3158 0 1.1287 0 35.97)" filter="url(#fd)"/><polygon points="348.1,415.4 363.7,415.4 363.2,466.2" transform="matrix(1 -0.3158 0 1.2820 0 -27.81)" filter="url(#fd)"/><polygon points="348.8,415.0 363.9,465.8 348.3,465.8" transform="matrix(1 -0.2632 0 1.2669 0 -39.92)" filter="url(#fd)"/><polygon points="348.1,464.4 363.7,464.4 363.1,521.1" transform="matrix(1 -0.2632 0 1.0200 0 74.93)" filter="url(#fd)"/><polygon points="348.9,464.0 363.9,520.7 348.3,520.7" transform="matrix(1 -0.2632 0 1.0200 0 74.93)" filter="url(#fd)"/><polygon points="362.1,324.3 377.7,324.3 377.2,370.2" transform="matrix(1 -0.5804 0 1.0200 0 174.32)" filter="url(#fl)"/><polygon points="362.8,323.9 377.9,369.8 362.3,369.8" transform="matrix(1 -0.5804 0 1.0200 0 174.32)" filter="url(#fl)"/><polygon points="362.1,368.4 377.7,368.4 377.2,417.2" transform="matrix(1 -0.5804 0 1.1614 0 122.13)" filter="url(#fd)"/><polygon points="362.8,368.0 377.9,416.7 362.3,416.8" transform="matrix(1 -0.3158 0 1.0825 0 55.19)" filter="url(#fd)"/><polygon points="362.1,415.4 377.7,415.4 377.2,466.2" transform="matrix(1 -0.3158 0 1.2970 0 -34.06)" filter="url(#fd)"/><polygon points="362.8,415.0 377.9,465.8 362.3,465.8" transform="matrix(1 -0.2632 0 1.2820 0 -46.91)" filter="url(#fd)"/><polygon points="362.1,464.4 377.7,464.4 377.1,521.1" transform="matrix(1 -0.2632 0 1.0200 0 74.93)" filter="url(#fd)"/><polygon points="362.9,464.0 377.9,520.7 362.3,520.7" transform="matrix(1 -0.2632 0 1.0200 0 74.93)" filter="url(#fd)"/><polygon points="376.1,324.3 391.7,324.3 391.2,370.2" transform="matrix(1 -0.8333 0 1.0200 0 269.67)" filter="url(#fl)"/><polygon points="376.8,323.9 391.9,369.8 376.3,369.8" transform="matrix(1 -0.8333 0 1.0200 0 269.67)" filter="url(#fl)"/><polygon points="376.1,368.4 391.7,368.4 391.2,417.2" transform="matrix(1 -0.8333 0 1.3399 0 151.60)" filter="url(#fd)"/><polygon points="376.8,368.0 391.9,416.7 376.3,416.8" transform="matrix(1 -0.2349 0 1.1614 0 -8.15)" filter="url(#fd)"/><polygon points="376.1,415.4 391.7,415.4 391.2,466.2" transform="matrix(1 -0.2349 0 1.3017 0 -66.53)" filter="url(#fd)"/><polygon points="376.8,415.0 391.9,465.8 376.3,465.8" transform="matrix(1 -0.2184 0 1.2970 0 -70.78)" filter="url(#fd)"/><polygon points="376.1,464.4 391.7,464.4 391.1,521.1" transform="matrix(1 -0.2184 0 1.0200 0 58.06)" filter="url(#fd)"/><polygon points="376.9,464.0 391.9,520.7 376.3,520.7" transform="matrix(1 -0.2184 0 1.0200 0 58.06)" filter="url(#fd)"/><polygon points="390.1,324.3 405.7,324.3 405.2,370.2" transform="matrix(1 -0.1718 0 1.0200 0 11.01)" filter="url(#fl)"/><polygon points="390.8,323.9 405.9,369.8 390.3,369.8" transform="matrix(1 -0.1718 0 1.0200 0 11.01)" filter="url(#fl)"/><polygon points="390.1,368.4 405.7,368.4 405.2,417.2" transform="matrix(1 -0.1718 0 1.3532 0 -111.99)" filter="url(#fd)"/><polygon points="390.8,368.0 405.9,416.7 390.3,416.8" transform="matrix(1 -0.1270 0 1.3399 0 -124.59)" filter="url(#fd)"/><polygon points="390.1,415.4 405.7,415.4 405.2,466.2" transform="matrix(1 -0.1270 0 1.2926 0 -104.94)" filter="url(#fd)"/><polygon points="390.8,415.0 405.9,465.8 390.3,465.8" transform="matrix(1 -0.1587 0 1.3017 0 -96.30)" filter="url(#fd)"/><polygon points="390.1,464.4 405.7,464.4 405.1,521.1" transform="matrix(1 -0.1587 0 1.0200 0 34.72)" filter="url(#fd)"/><polygon points="390.9,464.0 405.9,520.7 390.3,520.7" transform="matrix(1 -0.1587 0 1.0200 0 34.72)" filter="url(#fd)"/><polygon points="404.1,324.3 419.7,324.3 419.2,370.2" transform="matrix(1 -0.0520 0 1.0200 0 -37.51)" filter="url(#fl)"/><polygon points="404.8,323.9 419.9,369.8 404.3,369.8" transform="matrix(1 -0.0520 0 1.0200 0 -37.51)" filter="url(#fl)"/><polygon points="404.1,368.4 419.7,368.4 419.2,417.2" transform="matrix(1 -0.0520 0 1.3309 0 -152.26)" filter="url(#fd)"/><polygon points="404.8,368.0 419.9,416.7 404.3,416.8" transform="matrix(1 -0.1270 0 1.3532 0 -130.15)" filter="url(#fd)"/><polygon points="404.1,415.4 419.7,415.4 419.2,466.2" transform="matrix(1 -0.1270 0 1.2836 0 -101.17)" filter="url(#fd)"/><polygon points="404.8,415.0 419.9,465.8 404.3,465.8" transform="matrix(1 -0.1587 0 1.2926 0 -92.08)" filter="url(#fd)"/><polygon points="404.1,464.4 419.7,464.4 419.1,521.1" transform="matrix(1 -0.1587 0 1.0200 0 34.72)" filter="url(#fd)"/><polygon points="404.9,464.0 419.9,520.7 404.3,520.7" transform="matrix(1 -0.1587 0 1.0200 0 34.72)" filter="url(#fd)"/><polygon points="418.1,324.3 433.7,324.3 433.2,370.2" transform="matrix(1 -0.1172 0 1.0200 0 -10.18)" filter="url(#fl)"/><polygon points="418.8,323.9 433.9,369.8 418.3,369.8" transform="matrix(1 -0.1172 0 1.0200 0 -10.18)" filter="url(#fl)"/><polygon points="418.1,368.4 433.7,368.4 433.2,417.2" transform="matrix(1 -0.1172 0 1.3280 0 -123.86)" filter="url(#fd)"/><polygon points="418.8,368.0 433.9,416.7 418.3,416.8" transform="matrix(1 -0.1270 0 1.3309 0 -120.85)" filter="url(#fd)"/><polygon points="418.1,415.4 433.7,415.4 433.2,466.2" transform="matrix(1 -0.1270 0 1.2745 0 -97.39)" filter="url(#fd)"/><polygon points="418.8,415.0 433.9,465.8 418.3,465.8" transform="matrix(1 -0.1587 0 1.2836 0 -87.86)" filter="url(#fd)"/><polygon points="418.1,464.4 433.7,464.4 433.1,521.1" transform="matrix(1 -0.1587 0 1.0200 0 34.72)" filter="url(#fd)"/><polygon points="418.9,464.0 433.9,520.7 418.3,520.7" transform="matrix(1 -0.1587 0 1.0200 0 34.72)" filter="url(#fd)"/><polygon points="432.1,324.3 447.7,324.3 447.2,370.2" transform="matrix(1 -0.1172 0 1.0200 0 -10.18)" filter="url(#fl)"/><polygon points="432.8,323.9 447.9,369.8 432.3,369.8" transform="matrix(1 -0.1172 0 1.0200 0 -10.18)" filter="url(#fl)"/><polygon points="432.1,368.4 447.7,368.4 447.2,417.2" transform="matrix(1 -0.1172 0 1.3251 0 -122.78)" filter="url(#fd)"/><polygon points="432.8,368.0 447.9,416.7 432.3,416.8" transform="matrix(1 -0.1270 0 1.3280 0 -119.64)" filter="url(#fd)"/><polygon points="432.1,415.4 447.7,415.4 447.2,466.2" transform="matrix(1 -0.1270 0 1.2654 0 -93.62)" filter="url(#fd)"/><polygon points="432.8,415.0 447.9,465.8 432.3,465.8" transform="matrix(1 -0.1587 0 1.2745 0 -83.65)" filter="url(#fd)"/><polygon points="432.1,464.4 447.7,464.4 447.1,521.1" transform="matrix(1 -0.1587 0 1.0200 0 34.72)" filter="url(#fd)"/><polygon points="432.9,464.0 447.9,520.7 432.3,520.7" transform="matrix(1 -0.1587 0 1.0200 0 34.72)" filter="url(#fd)"/><polygon points="446.1,324.3 461.7,324.3 461.2,370.2" transform="matrix(1 -0.2078 0 1.0200 0 30.32)" filter="url(#fl)"/><polygon points="446.8,323.9 461.9,369.8 446.3,369.8" transform="matrix(1 -0.2078 0 1.0200 0 30.32)" filter="url(#fl)"/><polygon points="446.1,368.4 461.7,368.4 461.2,417.2" transform="matrix(1 -0.2078 0 1.3372 0 -86.77)" filter="url(#fd)"/><polygon points="446.8,368.0 461.9,416.7 446.3,416.8" transform="matrix(1 -0.1671 0 1.3251 0 -100.49)" filter="url(#fd)"/><polygon points="446.1,415.4 461.7,415.4 461.2,466.2" transform="matrix(1 -0.1671 0 1.2761 0 -80.10)" filter="url(#fd)"/><polygon points="446.8,415.0 461.9,465.8 446.3,465.8" transform="matrix(1 -0.1299 0 1.2654 0 -92.33)" filter="url(#fd)"/><polygon points="446.1,464.4 461.7,464.4 461.1,521.1" transform="matrix(1 -0.1299 0 1.0200 0 21.83)" filter="url(#fd)"/><polygon points="446.9,464.0 461.9,520.7 446.3,520.7" transform="matrix(1 -0.1299 0 1.0200 0 21.83)" filter="url(#fd)"/><polygon points="460.1,324.3 475.7,324.3 475.2,370.2" transform="matrix(1 -0.2148 0 1.0200 0 33.54)" filter="url(#fl)"/><polygon points="460.8,323.9 475.9,369.8 460.3,369.8" transform="matrix(1 -0.2148 0 1.0200 0 33.54)" filter="url(#fl)"/><polygon points="460.1,368.4 475.7,368.4 475.2,417.2" transform="matrix(1 -0.2148 0 1.3505 0 -88.46)" filter="url(#fd)"/><polygon points="460.8,368.0 475.9,416.7 460.3,416.8" transform="matrix(1 -0.1702 0 1.3372 0 -104.11)" filter="url(#fd)"/><polygon points="460.1,415.4 475.7,415.4 475.2,466.2" transform="matrix(1 -0.1702 0 1.2882 0 -83.74)" filter="url(#fd)"/><polygon points="460.8,415.0 475.9,465.8 460.3,465.8" transform="matrix(1 -0.1277 0 1.2761 0 -98.30)" filter="url(#fd)"/><polygon points="460.1,464.4 475.7,464.4 475.1,521.1" transform="matrix(1 -0.1277 0 1.0200 0 20.80)" filter="url(#fd)"/><polygon points="460.9,464.0 475.9,520.7 460.3,520.7" transform="matrix(1 -0.1277 0 1.0200 0 20.80)" filter="url(#fd)"/><polygon points="474.1,324.3 489.7,324.3 489.2,370.2" transform="matrix(1 -0.2000 0 1.0200 0 26.50)" filter="url(#fl)"/><polygon points="474.8,323.9 489.9,369.8 474.3,369.8" transform="matrix(1 -0.2000 0 1.0200 0 26.50)" filter="url(#fl)"/><polygon points="474.1,368.4 489.7,368.4 489.2,417.2" transform="matrix(1 -0.2000 0 1.3594 0 -98.78)" filter="url(#fd)"/><polygon points="474.8,368.0 489.9,416.7 474.3,416.8" transform="matrix(1 -0.1702 0 1.3505 0 -109.65)" filter="url(#fd)"/><polygon points="474.1,415.4 489.7,415.4 489.2,466.2" transform="matrix(1 -0.1702 0 1.3004 0 -88.79)" filter="url(#fd)"/><polygon points="474.8,415.0 489.9,465.8 474.3,465.8" transform="matrix(1 -0.1277 0 1.2882 0 -103.95)" filter="url(#fd)"/><polygon points="474.1,464.4 489.7,464.4 489.1,521.1" transform="matrix(1 -0.1277 0 1.0200 0 20.80)" filter="url(#fd)"/><polygon points="474.9,464.0 489.9,520.7 474.3,520.7" transform="matrix(1 -0.1277 0 1.0200 0 20.80)" filter="url(#fd)"/><polygon points="488.1,324.3 503.7,324.3 503.2,370.2" transform="matrix(1 0.0114 0 1.0200 0 -76.89)" filter="url(#fl)"/><polygon points="488.8,323.9 503.9,369.8 488.3,369.8" transform="matrix(1 0.0114 0 1.0200 0 -76.89)" filter="url(#fl)"/><polygon points="488.1,368.4 503.7,368.4 503.2,417.2" transform="matrix(1 0.0114 0 1.3543 0 -200.28)" filter="url(#fd)"/><polygon points="488.8,368.0 503.9,416.7 488.3,416.8" transform="matrix(1 -0.0057 0 1.3594 0 -193.78)" filter="url(#fd)"/><polygon points="488.1,415.4 503.7,415.4 503.2,466.2" transform="matrix(1 -0.0057 0 1.2960 0 -167.40)" filter="url(#fd)"/><polygon points="488.8,415.0 503.9,465.8 488.3,465.8" transform="matrix(1 -0.0211 0 1.3004 0 -161.71)" filter="url(#fd)"/><polygon points="488.1,464.4 503.7,464.4 503.1,521.1" transform="matrix(1 -0.0211 0 1.0200 0 -31.30)" filter="url(#fd)"/><polygon points="488.9,464.0 503.9,520.7 488.3,520.7" transform="matrix(1 -0.0211 0 1.0200 0 -31.30)" filter="url(#fd)"/><polygon points="502.1,324.3 517.7,324.3 517.2,370.2" transform="matrix(1 0.2080 0 1.0200 0 -175.74)" filter="url(#fl)"/><polygon points="502.8,323.9 517.9,369.8 502.3,369.8" transform="matrix(1 0.2080 0 1.0200 0 -175.74)" filter="url(#fl)"/><polygon points="502.1,368.4 517.7,368.4 517.2,417.2" transform="matrix(1 0.2080 0 1.3274 0 -289.19)" filter="url(#fd)"/><polygon points="502.8,368.0 517.9,416.7 502.3,416.8" transform="matrix(1 0.1176 0 1.3543 0 -253.71)" filter="url(#fd)"/><polygon points="502.1,415.4 517.7,415.4 517.2,466.2" transform="matrix(1 0.1176 0 1.2792 0 -222.47)" filter="url(#fd)"/><polygon points="502.8,415.0 517.9,465.8 502.3,465.8" transform="matrix(1 0.0588 0 1.2960 0 -199.87)" filter="url(#fd)"/><polygon points="502.1,464.4 517.7,464.4 517.1,521.1" transform="matrix(1 0.0588 0 1.0200 0 -71.50)" filter="url(#fd)"/><polygon points="502.9,464.0 517.9,520.7 502.3,520.7" transform="matrix(1 0.0588 0 1.0200 0 -71.50)" filter="url(#fd)"/><polygon points="516.1,324.3 531.7,324.3 531.2,370.2" transform="matrix(1 0.4549 0 1.0200 0 -303.41)" filter="url(#fl)"/><polygon points="516.8,323.9 531.9,369.8 516.3,369.8" transform="matrix(1 0.4549 0 1.0200 0 -303.41)" filter="url(#fl)"/><polygon points="516.1,368.4 531.7,368.4 531.2,417.2" transform="matrix(1 0.4549 0 1.2277 0 -380.08)" filter="url(#fd)"/><polygon points="516.8,368.0 531.9,416.7 516.3,416.8" transform="matrix(1 0.1208 0 1.3274 0 -244.12)" filter="url(#fd)"/><polygon points="516.1,415.4 531.7,415.4 531.2,466.2" transform="matrix(1 0.1208 0 1.2629 0 -217.30)" filter="url(#fd)"/><polygon points="516.8,415.0 531.9,465.8 516.3,465.8" transform="matrix(1 0.0637 0 1.2792 0 -194.58)" filter="url(#fd)"/><polygon points="516.1,464.4 531.7,464.4 531.1,521.1" transform="matrix(1 0.0637 0 1.0200 0 -74.03)" filter="url(#fd)"/><polygon points="516.9,464.0 531.9,520.7 516.3,520.7" transform="matrix(1 0.0637 0 1.0200 0 -74.03)" filter="url(#fd)"/><polygon points="530.1,324.3 545.7,324.3 545.2,370.2" transform="matrix(1 0.3711 0 1.0200 0 -258.91)" filter="url(#fl)"/><polygon points="530.8,323.9 545.9,369.8 530.3,369.8" transform="matrix(1 0.3711 0 1.0200 0 -258.91)" filter="url(#fl)"/><polygon points="530.1,368.4 545.7,368.4 545.2,417.2" transform="matrix(1 0.3711 0 1.1587 0 -310.09)" filter="url(#fd)"/><polygon points="530.8,368.0 545.9,416.7 530.3,416.8" transform="matrix(1 0.1395 0 1.2277 0 -212.62)" filter="url(#fd)"/><polygon points="530.1,415.4 545.7,415.4 545.2,466.2" transform="matrix(1 0.1395 0 1.2496 0 -221.74)" filter="url(#fd)"/><polygon points="530.8,415.0 545.9,465.8 530.3,465.8" transform="matrix(1 0.0930 0 1.2629 0 -202.57)" filter="url(#fd)"/><polygon points="530.1,464.4 545.7,464.4 545.1,521.1" transform="matrix(1 0.0930 0 1.0200 0 -89.60)" filter="url(#fd)"/><polygon points="530.9,464.0 545.9,520.7 530.3,520.7" transform="matrix(1 0.0930 0 1.0200 0 -89.60)" filter="url(#fd)"/><polygon points="544.1,324.3 559.7,324.3 559.2,370.2" transform="matrix(1 0.0912 0 1.0200 0 -106.38)" filter="url(#fl)"/><polygon points="544.8,323.9 559.9,369.8 544.3,369.8" transform="matrix(1 0.0912 0 1.0200 0 -106.38)" filter="url(#fl)"/><polygon points="544.1,368.4 559.7,368.4 559.2,417.2" transform="matrix(1 0.0912 0 1.1731 0 -162.89)" filter="url(#fd)"/><polygon points="544.8,368.0 559.9,416.7 544.3,416.8" transform="matrix(1 0.1395 0 1.1587 0 -183.89)" filter="url(#fd)"/><polygon points="544.1,415.4 559.7,415.4 559.2,466.2" transform="matrix(1 0.1395 0 1.2363 0 -216.21)" filter="url(#fd)"/><polygon points="544.8,415.0 559.9,465.8 544.3,465.8" transform="matrix(1 0.0930 0 1.2496 0 -196.39)" filter="url(#fd)"/><polygon points="544.1,464.4 559.7,464.4 559.1,521.1" transform="matrix(1 0.0930 0 1.0200 0 -89.60)" filter="url(#fd)"/><polygon points="544.9,464.0 559.9,520.7 544.3,520.7" transform="matrix(1 0.0930 0 1.0200 0 -89.60)" filter="url(#fd)"/><polygon points="558.1,324.3 573.7,324.3 573.2,370.2" transform="matrix(1 0.0386 0 1.0200 0 -76.96)" filter="url(#fl)"/><polygon points="558.8,323.9 573.9,369.8 558.3,369.8" transform="matrix(1 0.0386 0 1.0200 0 -76.96)" filter="url(#fl)"/><polygon points="558.1,368.4 573.7,368.4 573.2,417.2" transform="matrix(1 0.0386 0 1.2015 0 -143.96)" filter="url(#fd)"/><polygon points="558.8,368.0 573.9,416.7 558.3,416.8" transform="matrix(1 0.1340 0 1.1731 0 -186.79)" filter="url(#fd)"/><polygon points="558.1,415.4 573.7,415.4 573.2,466.2" transform="matrix(1 0.1340 0 1.2234 0 -207.72)" filter="url(#fd)"/><polygon points="558.8,415.0 573.9,465.8 558.3,465.8" transform="matrix(1 0.0886 0 1.2363 0 -187.73)" filter="url(#fd)"/><polygon points="558.1,464.4 573.7,464.4 573.1,521.1" transform="matrix(1 0.0886 0 1.0200 0 -87.12)" filter="url(#fd)"/><polygon points="558.9,464.0 573.9,520.7 558.3,520.7" transform="matrix(1 0.0886 0 1.0200 0 -87.12)" filter="url(#fd)"/><polygon points="572.1,324.3 587.7,324.3 587.2,370.2" transform="matrix(1 0.0527 0 1.0200 0 -85.05)" filter="url(#fl)"/><polygon points="572.8,323.9 587.9,369.8 572.3,369.8" transform="matrix(1 0.0527 0 1.0200 0 -85.05)" filter="url(#fl)"/><polygon points="572.1,368.4 587.7,368.4 587.2,417.2" transform="matrix(1 0.0527 0 1.2043 0 -153.08)" filter="url(#fd)"/><polygon points="572.8,368.0 587.9,416.7 572.3,416.8" transform="matrix(1 0.0620 0 1.2015 0 -157.38)" filter="url(#fd)"/><polygon points="572.1,415.4 587.7,415.4 587.2,466.2" transform="matrix(1 0.0620 0 1.2145 0 -162.79)" filter="url(#fd)"/><polygon points="572.8,415.0 587.9,465.8 572.3,465.8" transform="matrix(1 0.0310 0 1.2234 0 -148.71)" filter="url(#fd)"/><polygon points="572.1,464.4 587.7,464.4 587.1,521.1" transform="matrix(1 0.0310 0 1.0200 0 -54.12)" filter="url(#fd)"/><polygon points="572.9,464.0 587.9,520.7 572.3,520.7" transform="matrix(1 0.0310 0 1.0200 0 -54.12)" filter="url(#fd)"/><polygon points="586.1,324.3 601.7,324.3 601.2,370.2" transform="matrix(1 0.0527 0 1.0200 0 -85.05)" filter="url(#fl)"/><polygon points="586.8,323.9 601.9,369.8 586.3,369.8" transform="matrix(1 0.0527 0 1.0200 0 -85.05)" filter="url(#fl)"/><polygon points="586.1,368.4 601.7,368.4 601.2,417.2" transform="matrix(1 0.0527 0 1.2071 0 -154.10)" filter="url(#fd)"/><polygon points="586.8,368.0 601.9,416.7 586.3,416.8" transform="matrix(1 0.0620 0 1.2043 0 -158.54)" filter="url(#fd)"/><polygon points="586.1,415.4 601.7,415.4 601.2,466.2" transform="matrix(1 0.0620 0 1.2057 0 -159.11)" filter="url(#fd)"/><polygon points="586.8,415.0 601.9,465.8 586.3,465.8" transform="matrix(1 0.0310 0 1.2145 0 -144.59)" filter="url(#fd)"/><polygon points="586.1,464.4 601.7,464.4 601.1,521.1" transform="matrix(1 0.0310 0 1.0200 0 -54.12)" filter="url(#fd)"/><polygon points="586.9,464.0 601.9,520.7 586.3,520.7" transform="matrix(1 0.0310 0 1.0200 0 -54.12)" filter="url(#fd)"/><polygon points="600.1,324.3 615.7,324.3 615.2,370.2" transform="matrix(1 0.0527 0 1.0200 0 -85.05)" filter="url(#fl)"/><polygon points="600.8,323.9 615.9,369.8 600.3,369.8" transform="matrix(1 0.0527 0 1.0200 0 -85.05)" filter="url(#fl)"/><polygon points="600.1,368.4 615.7,368.4 615.2,417.2" transform="matrix(1 0.0527 0 1.2098 0 -155.13)" filter="url(#fd)"/><polygon points="600.8,368.0 615.9,416.7 600.3,416.8" transform="matrix(1 0.0620 0 1.2071 0 -159.69)" filter="url(#fd)"/><polygon points="600.1,415.4 615.7,415.4 615.2,466.2" transform="matrix(1 0.0620 0 1.1968 0 -155.42)" filter="url(#fd)"/><polygon points="600.8,415.0 615.9,465.8 600.3,465.8" transform="matrix(1 0.0310 0 1.2057 0 -140.47)" filter="url(#fd)"/><polygon points="600.1,464.4 615.7,464.4 615.1,521.1" transform="matrix(1 0.0310 0 1.0200 0 -54.12)" filter="url(#fd)"/><polygon points="600.9,464.0 615.9,520.7 600.3,520.7" transform="matrix(1 0.0310 0 1.0200 0 -54.12)" filter="url(#fd)"/><polygon points="614.1,324.3 629.7,324.3 629.2,370.2" transform="matrix(1 0.0527 0 1.0200 0 -85.05)" filter="url(#fl)"/><polygon points="614.8,323.9 629.9,369.8 614.3,369.8" transform="matrix(1 0.0527 0 1.0200 0 -85.05)" filter="url(#fl)"/><polygon points="614.1,368.4 629.7,368.4 629.2,417.2" transform="matrix(1 0.0527 0 1.2126 0 -156.15)" filter="url(#fd)"/><polygon points="614.8,368.0 629.9,416.7 614.3,416.8" transform="matrix(1 0.0620 0 1.2098 0 -160.85)" filter="url(#fd)"/><polygon points="614.1,415.4 629.7,415.4 629.2,466.2" transform="matrix(1 0.0620 0 1.1879 0 -151.74)" filter="url(#fd)"/><polygon points="614.8,415.0 629.9,465.8 614.3,465.8" transform="matrix(1 0.0310 0 1.1968 0 -136.35)" filter="url(#fd)"/><polygon points="614.1,464.4 629.7,464.4 629.1,521.1" transform="matrix(1 0.0310 0 1.0200 0 -54.12)" filter="url(#fd)"/><polygon points="614.9,464.0 629.9,520.7 614.3,520.7" transform="matrix(1 0.0310 0 1.0200 0 -54.12)" filter="url(#fd)"/><polygon points="628.2,324.3 637.2,324.3 636.6,370.2" transform="matrix(1 0.0527 0 1.0200 0 -85.05)" filter="url(#fl)"/><polygon points="628.9,323.9 637.3,369.8 628.3,369.8" transform="matrix(1 0.0527 0 1.0200 0 -85.05)" filter="url(#fl)"/><polygon points="628.2,368.4 637.2,368.4 636.6,417.2" transform="matrix(1 0.0527 0 1.2141 0 -156.70)" filter="url(#fd)"/><polygon points="628.9,368.0 637.3,416.8 628.3,416.8" transform="matrix(1 0.0620 0 1.2126 0 -162.00)" filter="url(#fd)"/><polygon points="628.2,415.4 637.2,415.4 636.6,466.2" transform="matrix(1 0.0620 0 1.1832 0 -149.76)" filter="url(#fd)"/><polygon points="628.9,414.9 637.3,465.8 628.3,465.8" transform="matrix(1 0.0310 0 1.1879 0 -132.23)" filter="url(#fd)"/><polygon points="628.2,464.4 637.2,464.4 636.6,521.1" transform="matrix(1 0.0310 0 1.0200 0 -54.12)" filter="url(#fd)"/><polygon points="628.9,464.0 637.3,520.7 628.3,520.7" transform="matrix(1 0.0310 0 1.0200 0 -54.12)" filter="url(#fd)"/></g><g clip-path="url(#cAL)"><polygon points="54.2,19.3 69.7,19.3 69.1,128.0" transform="matrix(1 -0.0000 0 1.0369 0 -0.74)" filter="url(#fh)"/><polygon points="54.9,18.9 69.8,127.6 54.3,127.6" transform="matrix(1 -0.0105 0 1.0382 0 -0.19)" filter="url(#fh)"/><polygon points="54.2,126.2 69.7,126.2 69.1,220.3" transform="matrix(1 -0.0105 0 1.0880 0 -6.50)" filter="url(#fh)"/><polygon points="54.9,125.8 69.8,219.9 54.3,219.9" transform="matrix(1 -0.0556 0 1.0948 0 -4.89)" filter="url(#fh)"/><polygon points="54.0,218.6 69.7,218.5 69.3,248.1" transform="matrix(1 -0.0556 0 1.0267 0 10.04)" filter="url(#fh)"/><polygon points="54.7,218.1 70.0,247.6 54.3,247.7" transform="matrix(1 -0.0422 0 1.0200 0 10.77)" filter="url(#fh)"/><polygon points="54.1,246.4 69.7,246.3 69.2,284.5" transform="matrix(1 -0.0422 0 1.3817 0 -78.57)" filter="url(#fm)"/><polygon points="54.8,245.9 69.9,284.0 54.3,284.1" transform="matrix(1 0.0053 0 1.3634 0 -76.67)" filter="url(#fm)"/><polygon points="54.1,282.8 69.7,282.7 69.2,325.6" transform="matrix(1 0.0053 0 1.3817 0 -81.85)" filter="url(#fl)"/><polygon points="54.8,282.3 69.9,325.1 54.3,325.2" transform="matrix(1 0.0588 0 1.3634 0 -79.62)" filter="url(#fl)"/><polygon points="68.2,19.3 83.7,19.3 83.1,128.0" transform="matrix(1 -0.0000 0 1.0355 0 -0.71)" filter="url(#fh)"/><polygon points="68.9,18.9 83.8,127.6 68.3,127.6" transform="matrix(1 -0.0105 0 1.0369 0 -0.01)" filter="url(#fh)"/><polygon points="68.2,126.2 83.7,126.2 83.1,220.3" transform="matrix(1 -0.0105 0 1.0811 0 -5.63)" filter="url(#fh)"/><polygon points="68.9,125.8 83.8,219.9 68.3,219.9" transform="matrix(1 -0.0556 0 1.0880 0 -3.39)" filter="url(#fh)"/><polygon points="68.0,218.6 83.7,218.5 83.3,248.1" transform="matrix(1 -0.0556 0 1.0334 0 8.57)" filter="url(#fh)"/><polygon points="68.7,218.1 84.0,247.6 68.3,247.7" transform="matrix(1 -0.0422 0 1.0267 0 9.12)" filter="url(#fh)"/><polygon points="68.1,246.4 83.7,246.3 83.2,284.5" transform="matrix(1 -0.0422 0 1.4000 0 -83.08)" filter="url(#fm)"/><polygon points="68.8,245.9 83.9,284.0 68.3,284.1" transform="matrix(1 0.0053 0 1.3817 0 -81.85)" filter="url(#fm)"/><polygon points="68.1,282.8 83.7,282.7 83.2,325.6" transform="matrix(1 0.0053 0 1.4000 0 -87.03)" filter="url(#fl)"/><polygon points="68.8,282.3 83.9,325.1 68.3,325.2" transform="matrix(1 0.0588 0 1.3817 0 -85.55)" filter="url(#fl)"/><polygon points="82.2,19.3 97.7,19.3 97.1,128.0" transform="matrix(1 -0.0000 0 1.0341 0 -0.68)" filter="url(#fh)"/><polygon points="82.9,18.9 97.8,127.6 82.3,127.6" transform="matrix(1 -0.0105 0 1.0355 0 0.16)" filter="url(#fh)"/><polygon points="82.2,126.2 97.7,126.2 97.1,220.3" transform="matrix(1 -0.0105 0 1.0743 0 -4.76)" filter="url(#fh)"/><polygon points="82.9,125.8 97.8,219.9 82.3,219.9" transform="matrix(1 -0.0556 0 1.0811 0 -1.89)" filter="url(#fh)"/><polygon points="82.0,218.6 97.7,218.5 97.3,248.1" transform="matrix(1 -0.0556 0 1.0401 0 7.10)" filter="url(#fh)"/><polygon points="82.7,218.1 98.0,247.6 82.3,247.7" transform="matrix(1 -0.0422 0 1.0334 0 7.46)" filter="url(#fh)"/><polygon points="82.1,246.4 97.7,246.3 97.2,284.5" transform="matrix(1 -0.0422 0 1.4176 0 -87.45)" filter="url(#fm)"/><polygon points="82.8,245.9 97.9,284.0 82.3,284.1" transform="matrix(1 0.0037 0 1.4000 0 -86.90)" filter="url(#fm)"/><polygon points="82.1,282.8 97.7,282.7 97.2,325.6" transform="matrix(1 0.0037 0 1.4173 0 -91.81)" filter="url(#fl)"/><polygon points="82.8,282.3 97.9,325.1 82.3,325.2" transform="matrix(1 0.0545 0 1.4000 0 -91.11)" filter="url(#fl)"/><polygon points="96.2,19.3 111.7,19.3 111.1,128.0" transform="matrix(1 -0.0000 0 1.0327 0 -0.65)" filter="url(#fh)"/><polygon points="96.9,18.9 111.8,127.6 96.3,127.6" transform="matrix(1 -0.0105 0 1.0341 0 0.34)" filter="url(#fh)"/><polygon points="96.2,126.2 111.7,126.2 111.1,220.3" transform="matrix(1 -0.0105 0 1.0681 0 -3.98)" filter="url(#fh)"/><polygon points="96.9,125.8 111.8,219.9 96.3,219.9" transform="matrix(1 -0.0512 0 1.0743 0 -0.82)" filter="url(#fh)"/><polygon points="96.0,218.6 111.7,218.5 111.3,248.1" transform="matrix(1 -0.0512 0 1.0455 0 5.49)" filter="url(#fh)"/><polygon points="96.7,218.1 112.0,247.6 96.3,247.7" transform="matrix(1 -0.0405 0 1.0401 0 5.63)" filter="url(#fh)"/><polygon points="96.1,246.4 111.7,246.3 111.2,284.5" transform="matrix(1 -0.0405 0 1.4342 0 -91.71)" filter="url(#fm)"/><polygon points="96.8,245.9 111.9,284.0 96.3,284.1" transform="matrix(1 0.0026 0 1.4176 0 -91.79)" filter="url(#fm)"/><polygon points="96.1,282.8 111.7,282.7 111.2,325.6" transform="matrix(1 0.0026 0 1.4339 0 -96.40)" filter="url(#fl)"/><polygon points="96.8,282.3 111.9,325.1 96.3,325.2" transform="matrix(1 0.0513 0 1.4173 0 -96.42)" filter="url(#fl)"/><polygon points="110.2,19.3 125.7,19.3 125.1,128.0" transform="matrix(1 -0.0000 0 1.0313 0 -0.63)" filter="url(#fh)"/><polygon points="110.9,18.9 125.8,127.6 110.3,127.6" transform="matrix(1 -0.0105 0 1.0327 0 0.51)" filter="url(#fh)"/><polygon points="110.2,126.2 125.7,126.2 125.1,220.3" transform="matrix(1 -0.0105 0 1.0621 0 -3.22)" filter="url(#fh)"/><polygon points="110.9,125.8 125.8,219.9 110.3,219.9" transform="matrix(1 -0.0500 0 1.0681 0 0.40)" filter="url(#fh)"/><polygon points="110.0,218.6 125.7,218.5 125.3,248.1" transform="matrix(1 -0.0500 0 1.0505 0 4.26)" filter="url(#fh)"/><polygon points="110.7,218.1 126.0,247.6 110.3,247.7" transform="matrix(1 -0.0400 0 1.0455 0 4.25)" filter="url(#fh)"/><polygon points="110.1,246.4 125.7,246.3 125.2,284.5" transform="matrix(1 -0.0400 0 1.4506 0 -95.81)" filter="url(#fm)"/><polygon points="110.8,245.9 125.9,284.0 110.3,284.1" transform="matrix(1 0.0026 0 1.4342 0 -96.49)" filter="url(#fm)"/><polygon points="110.1,282.8 125.7,282.7 125.2,325.6" transform="matrix(1 0.0026 0 1.4505 0 -101.11)" filter="url(#fl)"/><polygon points="110.8,282.3 125.9,325.1 110.3,325.2" transform="matrix(1 0.0513 0 1.4339 0 -101.81)" filter="url(#fl)"/><polygon points="124.2,19.3 139.7,19.3 139.1,128.0" transform="matrix(1 -0.0000 0 1.0300 0 -0.60)" filter="url(#fh)"/><polygon points="124.9,18.9 139.8,127.6 124.3,127.6" transform="matrix(1 -0.0105 0 1.0313 0 0.69)" filter="url(#fh)"/><polygon points="124.2,126.2 139.7,126.2 139.1,220.3" transform="matrix(1 -0.0105 0 1.0561 0 -2.46)" filter="url(#fh)"/><polygon points="124.9,125.8 139.8,219.9 124.3,219.9" transform="matrix(1 -0.0500 0 1.0621 0 1.72)" filter="url(#fh)"/><polygon points="124.0,218.6 139.7,218.5 139.3,248.1" transform="matrix(1 -0.0500 0 1.0556 0 3.16)" filter="url(#fh)"/><polygon points="124.7,218.1 140.0,247.6 124.3,247.7" transform="matrix(1 -0.0400 0 1.0505 0 3.01)" filter="url(#fh)"/><polygon points="124.1,246.4 139.7,246.3 139.2,284.5" transform="matrix(1 -0.0400 0 1.4509 0 -95.88)" filter="url(#fm)"/><polygon points="124.8,245.9 139.9,284.0 124.3,284.1" transform="matrix(1 -0.0392 0 1.4506 0 -95.90)" filter="url(#fm)"/><polygon points="124.1,282.8 139.7,282.7 139.2,325.6" transform="matrix(1 -0.0392 0 1.4504 0 -95.84)" filter="url(#fl)"/><polygon points="124.8,282.3 139.9,325.1 124.3,325.2" transform="matrix(1 -0.0397 0 1.4505 0 -95.83)" filter="url(#fl)"/><polygon points="138.2,19.3 153.7,19.3 153.1,128.0" transform="matrix(1 0.0000 0 1.0286 0 -0.57)" filter="url(#fh)"/><polygon points="138.9,18.9 153.8,127.6 138.3,127.6" transform="matrix(1 -0.0104 0 1.0300 0 0.85)" filter="url(#fh)"/><polygon points="138.2,126.2 153.7,126.2 153.1,220.3" transform="matrix(1 -0.0104 0 1.0501 0 -1.71)" filter="url(#fh)"/><polygon points="138.9,125.8 153.8,219.9 138.3,219.9" transform="matrix(1 -0.0500 0 1.0561 0 3.03)" filter="url(#fh)"/><polygon points="138.0,218.6 153.7,218.5 153.3,248.1" transform="matrix(1 -0.0500 0 1.0612 0 1.91)" filter="url(#fh)"/><polygon points="138.7,218.1 154.0,247.6 138.3,247.7" transform="matrix(1 -0.0387 0 1.0556 0 1.59)" filter="url(#fh)"/><polygon points="138.1,246.4 153.7,246.3 153.2,284.5" transform="matrix(1 -0.0387 0 1.4463 0 -94.93)" filter="url(#fm)"/><polygon points="138.8,245.9 153.9,284.0 138.3,284.1" transform="matrix(1 -0.0506 0 1.4509 0 -94.41)" filter="url(#fm)"/><polygon points="138.1,282.8 153.7,282.7 153.2,325.6" transform="matrix(1 -0.0506 0 1.4456 0 -92.91)" filter="url(#fl)"/><polygon points="138.8,282.3 153.9,325.1 138.3,325.2" transform="matrix(1 -0.0645 0 1.4504 0 -92.32)" filter="url(#fl)"/><polygon points="152.2,19.3 167.7,19.3 167.1,128.0" transform="matrix(1 -0.0000 0 1.0273 0 -0.55)" filter="url(#fh)"/><polygon points="152.9,18.9 167.8,127.6 152.3,127.6" transform="matrix(1 -0.0100 0 1.0286 0 0.96)" filter="url(#fh)"/><polygon points="152.2,126.2 167.7,126.2 167.1,220.3" transform="matrix(1 -0.0100 0 1.0441 0 -1.00)" filter="url(#fh)"/><polygon points="152.9,125.8 167.8,219.9 152.3,219.9" transform="matrix(1 -0.0500 0 1.0501 0 4.35)" filter="url(#fh)"/><polygon points="152.0,218.6 167.7,218.5 167.3,248.1" transform="matrix(1 -0.0500 0 1.0693 0 0.15)" filter="url(#fh)"/><polygon points="152.7,218.1 168.0,247.6 152.3,247.7" transform="matrix(1 -0.0340 0 1.0612 0 -0.53)" filter="url(#fh)"/><polygon points="152.1,246.4 167.7,246.3 167.2,284.5" transform="matrix(1 -0.0340 0 1.4359 0 -93.08)" filter="url(#fm)"/><polygon points="152.8,245.9 167.9,284.0 152.3,284.1" transform="matrix(1 -0.0611 0 1.4463 0 -91.51)" filter="url(#fm)"/><polygon points="152.1,282.8 167.7,282.7 167.2,325.6" transform="matrix(1 -0.0611 0 1.4359 0 -88.56)" filter="url(#fl)"/><polygon points="152.8,282.3 167.9,325.1 152.3,325.2" transform="matrix(1 -0.0896 0 1.4456 0 -86.95)" filter="url(#fl)"/><polygon points="166.2,19.3 181.7,19.3 181.1,128.0" transform="matrix(1 -0.0000 0 1.0260 0 -0.52)" filter="url(#fh)"/><polygon points="166.9,18.9 181.8,127.6 166.3,127.6" transform="matrix(1 -0.0100 0 1.0273 0 1.12)" filter="url(#fh)"/><polygon points="166.2,126.2 181.7,126.2 181.1,220.3" transform="matrix(1 -0.0100 0 1.0380 0 -0.23)" filter="url(#fh)"/><polygon points="166.9,125.8 181.8,219.9 166.3,219.9" transform="matrix(1 -0.0500 0 1.0441 0 5.68)" filter="url(#fh)"/><polygon points="166.0,218.6 181.7,218.5 181.3,248.1" transform="matrix(1 -0.0500 0 1.0773 0 -1.61)" filter="url(#fh)"/><polygon points="166.7,218.1 182.0,247.6 166.3,247.7" transform="matrix(1 -0.0340 0 1.0693 0 -2.52)" filter="url(#fh)"/><polygon points="166.1,246.4 181.7,246.3 181.2,284.5" transform="matrix(1 -0.0340 0 1.4225 0 -89.76)" filter="url(#fm)"/><polygon points="166.8,245.9 181.9,284.0 166.3,284.1" transform="matrix(1 -0.0689 0 1.4359 0 -87.25)" filter="url(#fm)"/><polygon points="166.1,282.8 181.7,282.7 181.2,325.6" transform="matrix(1 -0.0689 0 1.4225 0 -83.44)" filter="url(#fl)"/><polygon points="166.8,282.3 181.9,325.1 166.3,325.2" transform="matrix(1 -0.1083 0 1.4359 0 -80.67)" filter="url(#fl)"/><polygon points="180.2,19.3 195.7,19.3 195.1,128.0" transform="matrix(1 -0.0000 0 1.0247 0 -0.49)" filter="url(#fh)"/><polygon points="180.9,18.9 195.8,127.6 180.3,127.6" transform="matrix(1 -0.0100 0 1.0260 0 1.29)" filter="url(#fh)"/><polygon points="180.2,126.2 195.7,126.2 195.1,220.3" transform="matrix(1 -0.0100 0 1.0319 0 0.54)" filter="url(#fh)"/><polygon points="180.9,125.8 195.8,219.9 180.3,219.9" transform="matrix(1 -0.0500 0 1.0380 0 7.01)" filter="url(#fh)"/><polygon points="180.0,218.6 195.7,218.5 195.3,248.1" transform="matrix(1 -0.0500 0 1.0854 0 -3.38)" filter="url(#fh)"/><polygon points="180.7,218.1 196.0,247.6 180.3,247.7" transform="matrix(1 -0.0340 0 1.0773 0 -4.51)" filter="url(#fh)"/><polygon points="180.1,246.4 195.7,246.3 195.2,284.5" transform="matrix(1 -0.0340 0 1.4253 0 -90.46)" filter="url(#fm)"/><polygon points="180.8,245.9 195.9,284.0 180.3,284.1" transform="matrix(1 -0.0266 0 1.4225 0 -91.10)" filter="url(#fm)"/><polygon points="180.1,282.8 195.7,282.7 195.2,325.6" transform="matrix(1 -0.0266 0 1.4225 0 -91.11)" filter="url(#fl)"/><polygon points="180.8,282.3 195.9,325.1 180.3,325.2" transform="matrix(1 -0.0265 0 1.4225 0 -91.11)" filter="url(#fl)"/><polygon points="194.2,19.3 209.7,19.3 209.1,128.0" transform="matrix(1 -0.0000 0 1.0234 0 -0.47)" filter="url(#fh)"/><polygon points="194.9,18.9 209.8,127.6 194.3,127.6" transform="matrix(1 -0.0100 0 1.0247 0 1.46)" filter="url(#fh)"/><polygon points="194.2,126.2 209.7,126.2 209.1,220.3" transform="matrix(1 -0.0100 0 1.0278 0 1.06)" filter="url(#fh)"/><polygon points="194.9,125.8 209.8,219.9 194.3,219.9" transform="matrix(1 -0.0371 0 1.0319 0 5.83)" filter="url(#fh)"/><polygon points="194.0,218.6 209.7,218.5 209.3,248.1" transform="matrix(1 -0.0371 0 1.0931 0 -7.58)" filter="url(#fh)"/><polygon points="194.7,218.1 210.0,247.6 194.3,247.7" transform="matrix(1 -0.0218 0 1.0854 0 -8.88)" filter="url(#fh)"/><polygon points="194.1,246.4 209.7,246.3 209.2,284.5" transform="matrix(1 -0.0218 0 1.4262 0 -93.06)" filter="url(#fm)"/><polygon points="194.8,245.9 209.9,284.0 194.3,284.1" transform="matrix(1 -0.0195 0 1.4253 0 -93.28)" filter="url(#fm)"/><polygon points="194.1,282.8 209.7,282.7 209.2,325.6" transform="matrix(1 -0.0195 0 1.4247 0 -93.12)" filter="url(#fl)"/><polygon points="194.8,282.3 209.9,325.1 194.3,325.2" transform="matrix(1 -0.0129 0 1.4225 0 -93.78)" filter="url(#fl)"/><polygon points="208.2,19.3 223.7,19.3 223.1,128.0" transform="matrix(1 -0.0000 0 1.0221 0 -0.44)" filter="url(#fh)"/><polygon points="208.9,18.9 223.8,127.6 208.3,127.6" transform="matrix(1 -0.0100 0 1.0234 0 1.62)" filter="url(#fh)"/><polygon points="208.2,126.2 223.7,126.2 223.1,220.3" transform="matrix(1 -0.0100 0 1.0248 0 1.44)" filter="url(#fh)"/><polygon points="208.9,125.8 223.8,219.9 208.3,219.9" transform="matrix(1 -0.0300 0 1.0278 0 5.24)" filter="url(#fh)"/><polygon points="208.0,218.6 223.7,218.5 223.3,248.1" transform="matrix(1 -0.0300 0 1.1006 0 -10.72)" filter="url(#fh)"/><polygon points="208.7,218.1 224.0,247.6 208.3,247.7" transform="matrix(1 -0.0150 0 1.0931 0 -12.20)" filter="url(#fh)"/><polygon points="208.1,246.4 223.7,246.3 223.2,284.5" transform="matrix(1 -0.0150 0 1.4153 0 -91.79)" filter="url(#fm)"/><polygon points="208.8,245.9 223.9,284.0 208.3,284.1" transform="matrix(1 -0.0433 0 1.4262 0 -88.57)" filter="url(#fm)"/><polygon points="208.1,282.8 223.7,282.7 223.2,325.6" transform="matrix(1 -0.0433 0 1.4132 0 -84.89)" filter="url(#fl)"/><polygon points="208.8,282.3 223.9,325.1 208.3,325.2" transform="matrix(1 -0.0772 0 1.4247 0 -81.07)" filter="url(#fl)"/><polygon points="222.2,19.3 237.7,19.3 237.1,128.0" transform="matrix(1 0.0000 0 1.0207 0 -0.41)" filter="url(#fh)"/><polygon points="222.9,18.9 237.8,127.6 222.3,127.6" transform="matrix(1 -0.0100 0 1.0221 0 1.79)" filter="url(#fh)"/><polygon points="222.2,126.2 237.7,126.2 237.1,220.3" transform="matrix(1 -0.0100 0 1.0217 0 1.83)" filter="url(#fh)"/><polygon points="222.9,125.8 237.8,219.9 222.3,219.9" transform="matrix(1 -0.0300 0 1.0248 0 5.90)" filter="url(#fh)"/><polygon points="222.0,218.6 237.7,218.5 237.3,248.1" transform="matrix(1 -0.0300 0 1.1082 0 -12.37)" filter="url(#fh)"/><polygon points="222.7,218.1 238.0,247.6 222.3,247.7" transform="matrix(1 -0.0150 0 1.1006 0 -14.07)" filter="url(#fh)"/><polygon points="222.1,246.4 237.7,246.3 237.2,284.5" transform="matrix(1 -0.0150 0 1.3994 0 -87.86)" filter="url(#fm)"/><polygon points="222.8,245.9 237.9,284.0 222.3,284.1" transform="matrix(1 -0.0564 0 1.4153 0 -82.55)" filter="url(#fm)"/><polygon points="222.1,282.8 237.7,282.7 237.2,325.6" transform="matrix(1 -0.0564 0 1.3939 0 -76.49)" filter="url(#fl)"/><polygon points="222.8,282.3 237.9,325.1 222.3,325.2" transform="matrix(1 -0.1129 0 1.4132 0 -69.36)" filter="url(#fl)"/><polygon points="236.2,19.3 251.7,19.3 251.1,128.0" transform="matrix(1 -0.0089 0 1.0200 0 1.72)" filter="url(#fh)"/><polygon points="236.9,18.9 251.8,127.6 236.3,127.6" transform="matrix(1 -0.0146 0 1.0207 0 3.06)" filter="url(#fh)"/><polygon points="236.2,126.2 251.7,126.2 251.1,220.3" transform="matrix(1 -0.0146 0 1.0200 0 3.15)" filter="url(#fh)"/><polygon points="236.9,125.8 251.8,219.9 236.3,219.9" transform="matrix(1 -0.0261 0 1.0217 0 5.64)" filter="url(#fh)"/><polygon points="236.0,218.6 251.7,218.5 251.3,248.1" transform="matrix(1 -0.0261 0 1.1349 0 -19.15)" filter="url(#fh)"/><polygon points="236.7,218.1 252.0,247.6 236.3,247.7" transform="matrix(1 0.0270 0 1.1082 0 -25.88)" filter="url(#fh)"/><polygon points="236.1,246.4 251.7,246.3 251.2,284.5" transform="matrix(1 0.0270 0 1.3713 0 -90.89)" filter="url(#fm)"/><polygon points="236.8,245.9 251.9,284.0 236.3,284.1" transform="matrix(1 -0.0459 0 1.3994 0 -80.53)" filter="url(#fm)"/><polygon points="236.1,282.8 251.7,282.7 251.2,325.6" transform="matrix(1 -0.0459 0 1.3713 0 -72.59)" filter="url(#fl)"/><polygon points="236.8,282.3 251.9,325.1 236.3,325.2" transform="matrix(1 -0.1121 0 1.3939 0 -63.29)" filter="url(#fl)"/><polygon points="250.2,19.3 265.7,19.3 265.1,128.0" transform="matrix(1 -0.1250 0 1.0265 0 30.72)" filter="url(#fh)"/><polygon points="250.9,18.9 265.8,127.6 250.3,127.6" transform="matrix(1 -0.0750 0 1.0200 0 18.30)" filter="url(#fh)"/><polygon points="250.2,126.2 265.7,126.2 265.1,220.3" transform="matrix(1 -0.0750 0 1.0352 0 16.37)" filter="url(#fh)"/><polygon points="250.9,125.8 265.8,219.9 250.3,219.9" transform="matrix(1 0.0250 0 1.0200 0 -6.80)" filter="url(#fh)"/><polygon points="250.0,218.6 265.7,218.5 265.3,248.1" transform="matrix(1 0.0250 0 1.1416 0 -33.46)" filter="url(#fh)"/><polygon points="250.7,218.1 266.0,247.6 250.3,247.7" transform="matrix(1 0.0385 0 1.1349 0 -35.35)" filter="url(#fh)"/><polygon points="250.1,246.4 265.7,246.3 265.2,284.5" transform="matrix(1 0.0385 0 1.3509 0 -88.71)" filter="url(#fm)"/><polygon points="250.8,245.9 265.9,284.0 250.3,284.1" transform="matrix(1 -0.0147 0 1.3713 0 -80.43)" filter="url(#fm)"/><polygon points="250.1,282.8 265.7,282.7 265.2,325.6" transform="matrix(1 -0.0147 0 1.3491 0 -74.12)" filter="url(#fl)"/><polygon points="250.8,282.3 265.9,325.1 250.3,325.2" transform="matrix(1 -0.0799 0 1.3713 0 -64.04)" filter="url(#fl)"/><polygon points="264.2,19.3 279.7,19.3 279.1,128.0" transform="matrix(1 -0.1250 0 1.0331 0 30.59)" filter="url(#fh)"/><polygon points="264.9,18.9 279.8,127.6 264.3,127.6" transform="matrix(1 -0.0750 0 1.0265 0 17.47)" filter="url(#fh)"/><polygon points="264.2,126.2 279.7,126.2 279.1,220.3" transform="matrix(1 -0.0750 0 1.0504 0 14.45)" filter="url(#fh)"/><polygon points="264.9,125.8 279.8,219.9 264.3,219.9" transform="matrix(1 0.0250 0 1.0352 0 -10.13)" filter="url(#fh)"/><polygon points="264.0,218.6 279.7,218.5 279.3,248.1" transform="matrix(1 0.0250 0 1.1682 0 -39.27)" filter="url(#fh)"/><polygon points="264.7,218.1 280.0,247.6 264.3,247.7" transform="matrix(1 0.0777 0 1.1416 0 -47.44)" filter="url(#fh)"/><polygon points="264.1,246.4 279.7,246.3 279.2,284.5" transform="matrix(1 0.0777 0 1.3484 0 -98.51)" filter="url(#fm)"/><polygon points="264.8,245.9 279.9,284.0 264.3,284.1" transform="matrix(1 0.0713 0 1.3509 0 -97.41)" filter="url(#fm)"/><polygon points="264.1,282.8 279.7,282.7 279.2,325.6" transform="matrix(1 0.0713 0 1.3476 0 -96.48)" filter="url(#fl)"/><polygon points="264.8,282.3 279.9,325.1 264.3,325.2" transform="matrix(1 0.0670 0 1.3491 0 -95.76)" filter="url(#fl)"/><polygon points="278.2,19.3 293.7,19.3 293.1,128.0" transform="matrix(1 -0.1696 0 1.0429 0 42.85)" filter="url(#fh)"/><polygon points="278.9,18.9 293.8,127.6 278.3,127.6" transform="matrix(1 -0.0946 0 1.0331 0 22.12)" filter="url(#fh)"/><polygon points="278.2,126.2 293.7,126.2 293.1,220.3" transform="matrix(1 -0.0946 0 1.0697 0 17.48)" filter="url(#fh)"/><polygon points="278.9,125.8 293.8,219.9 278.3,219.9" transform="matrix(1 0.0326 0 1.0504 0 -15.58)" filter="url(#fh)"/><polygon points="278.0,218.6 293.7,218.5 293.3,248.1" transform="matrix(1 0.0326 0 1.1939 0 -47.03)" filter="url(#fh)"/><polygon points="278.7,218.1 294.0,247.6 278.3,247.7" transform="matrix(1 0.0838 0 1.1682 0 -55.67)" filter="url(#fh)"/><polygon points="278.1,246.4 293.7,246.3 293.2,284.5" transform="matrix(1 0.0838 0 1.3042 0 -89.27)" filter="url(#fm)"/><polygon points="278.8,245.9 293.9,284.0 278.3,284.1" transform="matrix(1 -0.0312 0 1.3484 0 -68.11)" filter="url(#fm)"/><polygon points="278.1,282.8 293.7,282.7 293.2,325.6" transform="matrix(1 -0.0312 0 1.2989 0 -54.09)" filter="url(#fl)"/><polygon points="278.8,282.3 293.9,325.1 278.3,325.2" transform="matrix(1 -0.1739 0 1.3476 0 -28.07)" filter="url(#fl)"/><polygon points="292.2,19.3 307.7,19.3 307.1,128.0" transform="matrix(1 -0.3333 0 1.0647 0 90.37)" filter="url(#fh)"/><polygon points="292.9,18.9 307.8,127.6 292.3,127.6" transform="matrix(1 -0.1667 0 1.0429 0 41.98)" filter="url(#fh)"/><polygon points="292.2,126.2 307.7,126.2 307.1,220.3" transform="matrix(1 -0.1667 0 1.1042 0 34.20)" filter="url(#fh)"/><polygon points="292.9,125.8 307.8,219.9 292.3,219.9" transform="matrix(1 0.0606 0 1.0697 0 -28.01)" filter="url(#fh)"/><polygon points="292.0,218.6 307.7,218.5 307.3,248.1" transform="matrix(1 0.0606 0 1.2251 0 -62.08)" filter="url(#fh)"/><polygon points="292.7,218.1 308.0,247.6 292.3,247.7" transform="matrix(1 0.1227 0 1.1939 0 -73.43)" filter="url(#fh)"/><polygon points="292.1,246.4 307.7,246.3 307.2,284.5" transform="matrix(1 0.1227 0 1.2417 0 -85.26)" filter="url(#fm)"/><polygon points="292.8,245.9 307.9,284.0 292.3,284.1" transform="matrix(1 -0.0397 0 1.3042 0 -53.10)" filter="url(#fm)"/><polygon points="292.1,282.8 307.7,282.7 307.2,325.6" transform="matrix(1 -0.0397 0 1.2385 0 -34.47)" filter="url(#fl)"/><polygon points="292.8,282.3 307.9,325.1 292.3,325.2" transform="matrix(1 -0.2170 0 1.2989 0 0.34)" filter="url(#fl)"/><polygon points="306.2,19.3 321.7,19.3 321.1,128.0" transform="matrix(1 -0.3410 0 1.0873 0 92.26)" filter="url(#fh)"/><polygon points="306.9,18.9 321.8,127.6 306.3,127.6" transform="matrix(1 -0.1690 0 1.0647 0 39.94)" filter="url(#fh)"/><polygon points="306.2,126.2 321.7,126.2 321.1,220.3" transform="matrix(1 -0.1690 0 1.1390 0 30.51)" filter="url(#fh)"/><polygon points="306.9,125.8 321.8,219.9 306.3,219.9" transform="matrix(1 0.0606 0 1.1042 0 -35.57)" filter="url(#fh)"/><polygon points="306.0,218.6 321.7,218.5 321.3,248.1" transform="matrix(1 0.0606 0 1.2660 0 -71.05)" filter="url(#fh)"/><polygon points="306.7,218.1 322.0,247.6 306.3,247.7" transform="matrix(1 0.1420 0 1.2251 0 -87.07)" filter="url(#fh)"/><polygon points="306.1,246.4 321.7,246.3 321.2,284.5" transform="matrix(1 0.1420 0 1.1686 0 -73.11)" filter="url(#fm)"/><polygon points="306.8,245.9 321.9,284.0 306.3,284.1" transform="matrix(1 -0.0482 0 1.2417 0 -32.79)" filter="url(#fm)"/><polygon points="306.1,282.8 321.7,282.7 321.2,325.6" transform="matrix(1 -0.0482 0 1.1662 0 -11.39)" filter="url(#fl)"/><polygon points="306.8,282.3 321.9,325.1 306.3,325.2" transform="matrix(1 -0.2600 0 1.2385 0 33.17)" filter="url(#fl)"/><polygon points="320.2,19.3 335.7,19.3 335.1,128.0" transform="matrix(1 -0.4400 0 1.1187 0 123.43)" filter="url(#fh)"/><polygon points="320.9,18.9 335.8,127.6 320.3,127.6" transform="matrix(1 -0.2000 0 1.0873 0 47.01)" filter="url(#fh)"/><polygon points="320.2,126.2 335.7,126.2 335.1,220.3" transform="matrix(1 -0.2000 0 1.1766 0 35.68)" filter="url(#fh)"/><polygon points="320.9,125.8 335.8,219.9 320.3,219.9" transform="matrix(1 0.0476 0 1.1390 0 -39.04)" filter="url(#fh)"/><polygon points="320.0,218.6 335.7,218.5 335.3,248.1" transform="matrix(1 0.0476 0 1.3232 0 -79.41)" filter="url(#fh)"/><polygon points="320.7,218.1 336.0,247.6 320.3,247.7" transform="matrix(1 0.1613 0 1.2660 0 -103.37)" filter="url(#fh)"/><polygon points="320.1,246.4 335.7,246.3 335.2,284.5" transform="matrix(1 0.1613 0 1.0828 0 -58.10)" filter="url(#fm)"/><polygon points="320.8,245.9 335.9,284.0 320.3,284.1" transform="matrix(1 -0.0618 0 1.1686 0 -7.68)" filter="url(#fm)"/><polygon points="320.1,282.8 335.7,282.7 335.2,325.6" transform="matrix(1 -0.0618 0 1.0828 0 16.63)" filter="url(#fl)"/><polygon points="320.8,282.3 335.9,325.1 320.3,325.2" transform="matrix(1 -0.3064 0 1.1662 0 71.51)" filter="url(#fl)"/><polygon points="334.2,19.3 345.7,19.3 345.1,128.0" transform="matrix(1 -0.4400 0 1.1411 0 122.98)" filter="url(#fh)"/><polygon points="334.9,18.9 345.8,127.6 334.3,127.6" transform="matrix(1 -0.2000 0 1.1187 0 43.03)" filter="url(#fh)"/><polygon points="334.2,126.2 345.7,126.2 345.1,220.3" transform="matrix(1 -0.2000 0 1.2032 0 32.30)" filter="url(#fh)"/><polygon points="334.9,125.8 345.8,219.9 334.3,219.9" transform="matrix(1 0.0455 0 1.1766 0 -46.55)" filter="url(#fh)"/><polygon points="334.1,218.5 345.7,218.5 345.2,248.1" transform="matrix(1 0.0455 0 1.3648 0 -87.80)" filter="url(#fh)"/><polygon points="334.8,218.1 345.9,247.7 334.3,247.7" transform="matrix(1 0.1613 0 1.3232 0 -117.49)" filter="url(#fh)"/><polygon points="334.1,246.3 345.7,246.3 345.1,284.5" transform="matrix(1 0.1613 0 1.0200 0 -42.60)" filter="url(#fm)"/><polygon points="334.9,245.9 345.9,284.1 334.3,284.1" transform="matrix(1 -0.0673 0 1.0828 0 18.46)" filter="url(#fm)"/><polygon points="334.1,282.7 345.7,282.7 345.1,325.6" transform="matrix(1 -0.0673 0 1.0200 0 36.26)" filter="url(#fl)"/><polygon points="334.9,282.3 345.9,325.2 334.3,325.2" transform="matrix(1 -0.3250 0 1.0828 0 104.80)" filter="url(#fl)"/></g><g clip-path="url(#cAM)"><polygon points="261.2,29.3 276.7,29.3 276.1,139.0" transform="matrix(1 0.3000 0 1.0200 0 -97.80)" filter="url(#fm)"/><polygon points="261.9,28.9 276.8,138.5 261.3,138.5" transform="matrix(1 0.3000 0 1.0200 0 -97.80)" filter="url(#fm)"/><polygon points="261.2,137.1 276.7,137.1 276.1,257.6" transform="matrix(1 0.3000 0 1.0200 0 -97.80)" filter="url(#fm)"/><polygon points="261.9,136.7 276.8,257.2 261.3,257.2" transform="matrix(1 0.3000 0 1.0200 0 -97.80)" filter="url(#fm)"/><polygon points="261.0,255.9 276.7,255.8 276.3,283.0" transform="matrix(1 0.3000 0 1.0200 0 -97.80)" filter="url(#fm)"/><polygon points="261.7,255.4 277.0,282.5 261.3,282.7" transform="matrix(1 0.3000 0 1.0200 0 -97.80)" filter="url(#fm)"/><polygon points="261.1,281.3 276.7,281.3 276.1,339.9" transform="matrix(1 0.3000 0 1.0200 0 -97.80)" filter="url(#fm)"/><polygon points="261.9,280.8 276.9,339.5 261.3,339.5" transform="matrix(1 0.3000 0 1.0200 0 -97.80)" filter="url(#fm)"/><polygon points="261.2,338.1 276.7,338.1 276.1,423.3" transform="matrix(1 0.3000 0 1.0200 0 -97.80)" filter="url(#fl)"/><polygon points="261.9,337.7 276.8,422.9 261.3,422.9" transform="matrix(1 0.3000 0 1.0200 0 -97.80)" filter="url(#fl)"/><polygon points="275.2,29.3 290.7,29.3 290.1,139.0" transform="matrix(1 0.3000 0 1.0200 0 -97.80)" filter="url(#fm)"/><polygon points="275.9,28.9 290.8,138.5 275.3,138.5" transform="matrix(1 0.3000 0 1.0200 0 -97.80)" filter="url(#fm)"/><polygon points="275.2,137.1 290.7,137.1 290.1,257.6" transform="matrix(1 0.3000 0 1.0200 0 -97.80)" filter="url(#fm)"/><polygon points="275.9,136.7 290.8,257.2 275.3,257.2" transform="matrix(1 0.3000 0 1.0200 0 -97.80)" filter="url(#fm)"/><polygon points="275.0,255.9 290.7,255.8 290.3,283.0" transform="matrix(1 0.3000 0 1.0200 0 -97.80)" filter="url(#fm)"/><polygon points="275.7,255.4 291.0,282.5 275.3,282.7" transform="matrix(1 0.3000 0 1.0200 0 -97.80)" filter="url(#fm)"/><polygon points="275.1,281.3 290.7,281.3 290.1,339.9" transform="matrix(1 0.3000 0 1.0200 0 -97.80)" filter="url(#fm)"/><polygon points="275.9,280.8 290.9,339.5 275.3,339.5" transform="matrix(1 0.3000 0 1.0200 0 -97.80)" filter="url(#fm)"/><polygon points="275.2,338.1 290.7,338.1 290.1,423.3" transform="matrix(1 0.3000 0 1.0200 0 -97.80)" filter="url(#fl)"/><polygon points="275.9,337.7 290.8,422.9 275.3,422.9" transform="matrix(1 0.3000 0 1.0200 0 -97.80)" filter="url(#fl)"/><polygon points="289.2,29.3 304.7,29.3 304.1,139.0" transform="matrix(1 0.3000 0 1.0200 0 -97.80)" filter="url(#fm)"/><polygon points="289.9,28.9 304.8,138.5 289.3,138.5" transform="matrix(1 0.3000 0 1.0200 0 -97.80)" filter="url(#fm)"/><polygon points="289.2,137.1 304.7,137.1 304.1,257.6" transform="matrix(1 0.3000 0 1.0200 0 -97.80)" filter="url(#fm)"/><polygon points="289.9,136.7 304.8,257.2 289.3,257.2" transform="matrix(1 0.3000 0 1.0200 0 -97.80)" filter="url(#fm)"/><polygon points="289.0,255.9 304.7,255.8 304.3,283.0" transform="matrix(1 0.3000 0 1.0200 0 -97.80)" filter="url(#fm)"/><polygon points="289.7,255.4 305.0,282.5 289.3,282.7" transform="matrix(1 0.3000 0 1.0200 0 -97.80)" filter="url(#fm)"/><polygon points="289.1,281.3 304.7,281.3 304.1,339.9" transform="matrix(1 0.3000 0 1.0200 0 -97.80)" filter="url(#fm)"/><polygon points="289.9,280.8 304.9,339.5 289.3,339.5" transform="matrix(1 0.3000 0 1.0200 0 -97.80)" filter="url(#fm)"/><polygon points="289.2,338.1 304.7,338.1 304.1,423.3" transform="matrix(1 0.3000 0 1.0200 0 -97.80)" filter="url(#fl)"/><polygon points="289.9,337.7 304.8,422.9 289.3,422.9" transform="matrix(1 0.3000 0 1.0200 0 -97.80)" filter="url(#fl)"/><polygon points="303.2,29.3 318.7,29.3 318.1,139.0" transform="matrix(1 0.3000 0 1.0200 0 -97.80)" filter="url(#fm)"/><polygon points="303.9,28.9 318.8,138.5 303.3,138.5" transform="matrix(1 0.3000 0 1.0200 0 -97.80)" filter="url(#fm)"/><polygon points="303.2,137.1 318.7,137.1 318.1,257.6" transform="matrix(1 0.3000 0 1.0200 0 -97.80)" filter="url(#fm)"/><polygon points="303.9,136.7 318.8,257.2 303.3,257.2" transform="matrix(1 0.3000 0 1.0200 0 -97.80)" filter="url(#fm)"/><polygon points="303.0,255.9 318.7,255.8 318.3,283.0" transform="matrix(1 0.3000 0 1.0200 0 -97.80)" filter="url(#fm)"/><polygon points="303.7,255.4 319.0,282.5 303.3,282.7" transform="matrix(1 0.3000 0 1.0200 0 -97.80)" filter="url(#fm)"/><polygon points="303.1,281.3 318.7,281.3 318.1,339.9" transform="matrix(1 0.3000 0 1.0200 0 -97.80)" filter="url(#fm)"/><polygon points="303.9,280.8 318.9,339.5 303.3,339.5" transform="matrix(1 0.3000 0 1.0200 0 -97.80)" filter="url(#fm)"/><polygon points="303.2,338.1 318.7,338.1 318.1,423.3" transform="matrix(1 0.3000 0 1.0200 0 -97.80)" filter="url(#fl)"/><polygon points="303.9,337.7 318.8,422.9 303.3,422.9" transform="matrix(1 0.3000 0 1.0200 0 -97.80)" filter="url(#fl)"/><polygon points="317.2,29.3 332.7,29.3 332.1,139.0" transform="matrix(1 0.3000 0 1.0200 0 -97.80)" filter="url(#fm)"/><polygon points="317.9,28.9 332.8,138.5 317.3,138.5" transform="matrix(1 0.3000 0 1.0200 0 -97.80)" filter="url(#fm)"/><polygon points="317.2,137.1 332.7,137.1 332.1,257.6" transform="matrix(1 0.3000 0 1.0200 0 -97.80)" filter="url(#fm)"/><polygon points="317.9,136.7 332.8,257.2 317.3,257.2" transform="matrix(1 0.3000 0 1.0200 0 -97.80)" filter="url(#fm)"/><polygon points="317.0,255.9 332.7,255.8 332.3,283.0" transform="matrix(1 0.3000 0 1.0200 0 -97.80)" filter="url(#fm)"/><polygon points="317.7,255.4 333.0,282.5 317.3,282.7" transform="matrix(1 0.3000 0 1.0200 0 -97.80)" filter="url(#fm)"/><polygon points="317.1,281.3 332.7,281.3 332.1,339.9" transform="matrix(1 0.3000 0 1.0200 0 -97.80)" filter="url(#fm)"/><polygon points="317.9,280.8 332.9,339.5 317.3,339.5" transform="matrix(1 0.3000 0 1.0200 0 -97.80)" filter="url(#fm)"/><polygon points="317.2,338.1 332.7,338.1 332.1,423.3" transform="matrix(1 0.3000 0 1.0200 0 -97.80)" filter="url(#fl)"/><polygon points="317.9,337.7 332.8,422.9 317.3,422.9" transform="matrix(1 0.3000 0 1.0200 0 -97.80)" filter="url(#fl)"/><polygon points="331.2,29.3 346.7,29.3 346.1,139.0" transform="matrix(1 0.3000 0 1.0200 0 -97.80)" filter="url(#fm)"/><polygon points="331.9,28.9 346.8,138.5 331.3,138.5" transform="matrix(1 0.3000 0 1.0200 0 -97.80)" filter="url(#fm)"/><polygon points="331.2,137.1 346.7,137.1 346.1,257.6" transform="matrix(1 0.3000 0 1.0200 0 -97.80)" filter="url(#fm)"/><polygon points="331.9,136.7 346.8,257.2 331.3,257.2" transform="matrix(1 0.3000 0 1.0200 0 -97.80)" filter="url(#fm)"/><polygon points="331.0,255.9 346.7,255.8 346.3,283.0" transform="matrix(1 0.3000 0 1.0200 0 -97.80)" filter="url(#fm)"/><polygon points="331.7,255.4 347.0,282.5 331.3,282.7" transform="matrix(1 0.3000 0 1.0200 0 -97.80)" filter="url(#fm)"/><polygon points="331.1,281.3 346.7,281.3 346.1,339.9" transform="matrix(1 0.3000 0 1.0200 0 -97.80)" filter="url(#fm)"/><polygon points="331.9,280.8 346.9,339.5 331.3,339.5" transform="matrix(1 0.3000 0 1.0200 0 -97.80)" filter="url(#fm)"/><polygon points="331.2,338.1 346.7,338.1 346.1,423.3" transform="matrix(1 0.3000 0 1.0200 0 -97.80)" filter="url(#fl)"/><polygon points="331.9,337.7 346.8,422.9 331.3,422.9" transform="matrix(1 0.3000 0 1.0200 0 -97.80)" filter="url(#fl)"/><polygon points="345.2,29.3 360.7,29.3 360.1,139.0" transform="matrix(1 0.3000 0 1.0200 0 -97.80)" filter="url(#fm)"/><polygon points="345.9,28.9 360.8,138.5 345.3,138.5" transform="matrix(1 0.3000 0 1.0200 0 -97.80)" filter="url(#fm)"/><polygon points="345.2,137.1 360.7,137.1 360.1,257.6" transform="matrix(1 0.3000 0 1.0200 0 -97.80)" filter="url(#fm)"/><polygon points="345.9,136.7 360.8,257.2 345.3,257.2" transform="matrix(1 0.3000 0 1.0200 0 -97.80)" filter="url(#fm)"/><polygon points="345.0,255.9 360.7,255.8 360.3,283.0" transform="matrix(1 0.3000 0 1.0200 0 -97.80)" filter="url(#fm)"/><polygon points="345.7,255.4 361.0,282.5 345.3,282.7" transform="matrix(1 0.3000 0 1.0200 0 -97.80)" filter="url(#fm)"/><polygon points="345.1,281.3 360.7,281.3 360.1,339.9" transform="matrix(1 0.3000 0 1.0200 0 -97.80)" filter="url(#fm)"/><polygon points="345.9,280.8 360.9,339.5 345.3,339.5" transform="matrix(1 0.3000 0 1.0200 0 -97.80)" filter="url(#fm)"/><polygon points="345.2,338.1 360.7,338.1 360.1,423.3" transform="matrix(1 0.3000 0 1.0200 0 -97.80)" filter="url(#fl)"/><polygon points="345.9,337.7 360.8,422.9 345.3,422.9" transform="matrix(1 0.3000 0 1.0200 0 -97.80)" filter="url(#fl)"/><polygon points="359.2,29.3 374.7,29.3 374.1,139.0" transform="matrix(1 0.1286 0 1.0200 0 -36.09)" filter="url(#fm)"/><polygon points="359.9,28.9 374.8,138.5 359.3,138.5" transform="matrix(1 0.1286 0 1.0200 0 -36.09)" filter="url(#fm)"/><polygon points="359.2,137.1 374.7,137.1 374.1,257.6" transform="matrix(1 0.1286 0 1.0200 0 -36.09)" filter="url(#fm)"/><polygon points="359.9,136.7 374.8,257.2 359.3,257.2" transform="matrix(1 0.1286 0 1.0200 0 -36.09)" filter="url(#fm)"/><polygon points="359.0,255.9 374.7,255.8 374.3,283.0" transform="matrix(1 0.1286 0 1.0200 0 -36.09)" filter="url(#fm)"/><polygon points="359.7,255.4 375.0,282.5 359.3,282.7" transform="matrix(1 0.1286 0 1.0200 0 -36.09)" filter="url(#fm)"/><polygon points="359.1,281.3 374.7,281.3 374.1,339.9" transform="matrix(1 0.1286 0 1.0200 0 -36.09)" filter="url(#fm)"/><polygon points="359.9,280.8 374.9,339.5 359.3,339.5" transform="matrix(1 0.1286 0 1.0200 0 -36.09)" filter="url(#fm)"/><polygon points="359.2,338.1 374.7,338.1 374.1,423.3" transform="matrix(1 0.1286 0 1.0200 0 -36.09)" filter="url(#fl)"/><polygon points="359.9,337.7 374.8,422.9 359.3,422.9" transform="matrix(1 0.1286 0 1.0200 0 -36.09)" filter="url(#fl)"/><polygon points="373.2,29.3 388.7,29.3 388.1,139.0" transform="matrix(1 -0.1000 0 1.0200 0 49.40)" filter="url(#fm)"/><polygon points="373.9,28.9 388.8,138.5 373.3,138.5" transform="matrix(1 -0.1000 0 1.0200 0 49.40)" filter="url(#fm)"/><polygon points="373.2,137.1 388.7,137.1 388.1,257.6" transform="matrix(1 -0.1000 0 1.0200 0 49.40)" filter="url(#fm)"/><polygon points="373.9,136.7 388.8,257.2 373.3,257.2" transform="matrix(1 -0.1000 0 1.0200 0 49.40)" filter="url(#fm)"/><polygon points="373.0,255.9 388.7,255.8 388.3,283.0" transform="matrix(1 -0.1000 0 1.0200 0 49.40)" filter="url(#fm)"/><polygon points="373.7,255.4 389.0,282.5 373.3,282.7" transform="matrix(1 -0.1000 0 1.0200 0 49.40)" filter="url(#fm)"/><polygon points="373.1,281.3 388.7,281.3 388.1,339.9" transform="matrix(1 -0.1000 0 1.0200 0 49.40)" filter="url(#fm)"/><polygon points="373.9,280.8 388.9,339.5 373.3,339.5" transform="matrix(1 -0.1000 0 1.0200 0 49.40)" filter="url(#fm)"/><polygon points="373.2,338.1 388.7,338.1 388.1,423.3" transform="matrix(1 -0.1000 0 1.0200 0 49.40)" filter="url(#fl)"/><polygon points="373.9,337.7 388.8,422.9 373.3,422.9" transform="matrix(1 -0.1000 0 1.0200 0 49.40)" filter="url(#fl)"/><polygon points="387.2,29.3 402.7,29.3 402.1,139.0" transform="matrix(1 -0.1000 0 1.0200 0 49.40)" filter="url(#fm)"/><polygon points="387.9,28.9 402.8,138.5 387.3,138.5" transform="matrix(1 -0.1000 0 1.0200 0 49.40)" filter="url(#fm)"/><polygon points="387.2,137.1 402.7,137.1 402.1,257.6" transform="matrix(1 -0.1000 0 1.0200 0 49.40)" filter="url(#fm)"/><polygon points="387.9,136.7 402.8,257.2 387.3,257.2" transform="matrix(1 -0.1000 0 1.0200 0 49.40)" filter="url(#fm)"/><polygon points="387.0,255.9 402.7,255.8 402.3,283.0" transform="matrix(1 -0.1000 0 1.0200 0 49.40)" filter="url(#fm)"/><polygon points="387.7,255.4 403.0,282.5 387.3,282.7" transform="matrix(1 -0.1000 0 1.0200 0 49.40)" filter="url(#fm)"/><polygon points="387.1,281.3 402.7,281.3 402.1,339.9" transform="matrix(1 -0.1000 0 1.0200 0 49.40)" filter="url(#fm)"/><polygon points="387.9,280.8 402.9,339.5 387.3,339.5" transform="matrix(1 -0.1000 0 1.0200 0 49.40)" filter="url(#fm)"/><polygon points="387.2,338.1 402.7,338.1 402.1,423.3" transform="matrix(1 -0.1000 0 1.0200 0 49.40)" filter="url(#fl)"/><polygon points="387.9,337.7 402.8,422.9 387.3,422.9" transform="matrix(1 -0.1000 0 1.0200 0 49.40)" filter="url(#fl)"/><polygon points="401.2,29.3 416.7,29.3 416.1,139.0" transform="matrix(1 -0.1000 0 1.0200 0 49.40)" filter="url(#fm)"/><polygon points="401.9,28.9 416.8,138.5 401.3,138.5" transform="matrix(1 -0.1000 0 1.0200 0 49.40)" filter="url(#fm)"/><polygon points="401.2,137.1 416.7,137.1 416.1,257.6" transform="matrix(1 -0.1000 0 1.0200 0 49.40)" filter="url(#fm)"/><polygon points="401.9,136.7 416.8,257.2 401.3,257.2" transform="matrix(1 -0.1000 0 1.0200 0 49.40)" filter="url(#fm)"/><polygon points="401.0,255.9 416.7,255.8 416.3,283.0" transform="matrix(1 -0.1000 0 1.0200 0 49.40)" filter="url(#fm)"/><polygon points="401.7,255.4 417.0,282.5 401.3,282.7" transform="matrix(1 -0.1000 0 1.0200 0 49.40)" filter="url(#fm)"/><polygon points="401.1,281.3 416.7,281.3 416.1,339.9" transform="matrix(1 -0.1000 0 1.0200 0 49.40)" filter="url(#fm)"/><polygon points="401.9,280.8 416.9,339.5 401.3,339.5" transform="matrix(1 -0.1000 0 1.0200 0 49.40)" filter="url(#fm)"/><polygon points="401.2,338.1 416.7,338.1 416.1,423.3" transform="matrix(1 -0.1000 0 1.0200 0 49.40)" filter="url(#fl)"/><polygon points="401.9,337.7 416.8,422.9 401.3,422.9" transform="matrix(1 -0.1000 0 1.0200 0 49.40)" filter="url(#fl)"/><polygon points="415.2,29.3 430.7,29.3 430.1,139.0" transform="matrix(1 -0.1000 0 1.0200 0 49.40)" filter="url(#fm)"/><polygon points="415.9,28.9 430.8,138.5 415.3,138.5" transform="matrix(1 -0.1000 0 1.0200 0 49.40)" filter="url(#fm)"/><polygon points="415.2,137.1 430.7,137.1 430.1,257.6" transform="matrix(1 -0.1000 0 1.0200 0 49.40)" filter="url(#fm)"/><polygon points="415.9,136.7 430.8,257.2 415.3,257.2" transform="matrix(1 -0.1000 0 1.0200 0 49.40)" filter="url(#fm)"/><polygon points="415.0,255.9 430.7,255.8 430.3,283.0" transform="matrix(1 -0.1000 0 1.0200 0 49.40)" filter="url(#fm)"/><polygon points="415.7,255.4 431.0,282.5 415.3,282.7" transform="matrix(1 -0.1000 0 1.0200 0 49.40)" filter="url(#fm)"/><polygon points="415.1,281.3 430.7,281.3 430.1,339.9" transform="matrix(1 -0.1000 0 1.0200 0 49.40)" filter="url(#fm)"/><polygon points="415.9,280.8 430.9,339.5 415.3,339.5" transform="matrix(1 -0.1000 0 1.0200 0 49.40)" filter="url(#fm)"/><polygon points="415.2,338.1 430.7,338.1 430.1,423.3" transform="matrix(1 -0.1000 0 1.0200 0 49.40)" filter="url(#fl)"/><polygon points="415.9,337.7 430.8,422.9 415.3,422.9" transform="matrix(1 -0.1000 0 1.0200 0 49.40)" filter="url(#fl)"/><polygon points="429.2,29.3 444.7,29.3 444.1,139.0" transform="matrix(1 -0.1000 0 1.0200 0 49.40)" filter="url(#fm)"/><polygon points="429.9,28.9 444.8,138.5 429.3,138.5" transform="matrix(1 -0.1000 0 1.0200 0 49.40)" filter="url(#fm)"/><polygon points="429.2,137.1 444.7,137.1 444.1,257.6" transform="matrix(1 -0.1000 0 1.0200 0 49.40)" filter="url(#fm)"/><polygon points="429.9,136.7 444.8,257.2 429.3,257.2" transform="matrix(1 -0.1000 0 1.0200 0 49.40)" filter="url(#fm)"/><polygon points="429.0,255.9 444.7,255.8 444.3,283.0" transform="matrix(1 -0.1000 0 1.0200 0 49.40)" filter="url(#fm)"/><polygon points="429.7,255.4 445.0,282.5 429.3,282.7" transform="matrix(1 -0.1000 0 1.0200 0 49.40)" filter="url(#fm)"/><polygon points="429.1,281.3 444.7,281.3 444.1,339.9" transform="matrix(1 -0.1000 0 1.0200 0 49.40)" filter="url(#fm)"/><polygon points="429.9,280.8 444.9,339.5 429.3,339.5" transform="matrix(1 -0.1000 0 1.0200 0 49.40)" filter="url(#fm)"/><polygon points="429.2,338.1 444.7,338.1 444.1,423.3" transform="matrix(1 -0.1000 0 1.0200 0 49.40)" filter="url(#fl)"/><polygon points="429.9,337.7 444.8,422.9 429.3,422.9" transform="matrix(1 -0.1000 0 1.0200 0 49.40)" filter="url(#fl)"/><polygon points="443.2,29.3 458.7,29.3 458.1,139.0" transform="matrix(1 -0.1000 0 1.0200 0 49.40)" filter="url(#fm)"/><polygon points="443.9,28.9 458.8,138.5 443.3,138.5" transform="matrix(1 -0.1000 0 1.0200 0 49.40)" filter="url(#fm)"/><polygon points="443.2,137.1 458.7,137.1 458.1,257.6" transform="matrix(1 -0.1000 0 1.0200 0 49.40)" filter="url(#fm)"/><polygon points="443.9,136.7 458.8,257.2 443.3,257.2" transform="matrix(1 -0.1000 0 1.0200 0 49.40)" filter="url(#fm)"/><polygon points="443.0,255.9 458.7,255.8 458.3,283.0" transform="matrix(1 -0.1000 0 1.0200 0 49.40)" filter="url(#fm)"/><polygon points="443.7,255.4 459.0,282.5 443.3,282.7" transform="matrix(1 -0.1000 0 1.0200 0 49.40)" filter="url(#fm)"/><polygon points="443.1,281.3 458.7,281.3 458.1,339.9" transform="matrix(1 -0.1000 0 1.0200 0 49.40)" filter="url(#fm)"/><polygon points="443.9,280.8 458.9,339.5 443.3,339.5" transform="matrix(1 -0.1000 0 1.0200 0 49.40)" filter="url(#fm)"/><polygon points="443.2,338.1 458.7,338.1 458.1,423.3" transform="matrix(1 -0.1000 0 1.0200 0 49.40)" filter="url(#fl)"/><polygon points="443.9,337.7 458.8,422.9 443.3,422.9" transform="matrix(1 -0.1000 0 1.0200 0 49.40)" filter="url(#fl)"/><polygon points="457.3,29.3 464.7,29.3 464.0,139.0" transform="matrix(1 -0.1000 0 1.0200 0 49.40)" filter="url(#fm)"/><polygon points="458.0,28.9 464.7,138.5 457.3,138.5" transform="matrix(1 -0.1000 0 1.0200 0 49.40)" filter="url(#fm)"/><polygon points="457.3,137.1 464.7,137.1 464.0,257.6" transform="matrix(1 -0.1000 0 1.0200 0 49.40)" filter="url(#fm)"/><polygon points="458.0,136.7 464.7,257.2 457.3,257.2" transform="matrix(1 -0.1000 0 1.0200 0 49.40)" filter="url(#fm)"/><polygon points="457.1,255.8 464.7,255.8 464.1,283.1" transform="matrix(1 -0.1000 0 1.0200 0 49.40)" filter="url(#fm)"/><polygon points="457.9,255.4 464.9,282.7 457.3,282.7" transform="matrix(1 -0.1000 0 1.0200 0 49.40)" filter="url(#fm)"/><polygon points="457.2,281.3 464.7,281.3 464.1,339.9" transform="matrix(1 -0.1000 0 1.0200 0 49.40)" filter="url(#fm)"/><polygon points="457.9,280.8 464.8,339.5 457.3,339.5" transform="matrix(1 -0.1000 0 1.0200 0 49.40)" filter="url(#fm)"/><polygon points="457.2,338.1 464.7,338.1 464.0,423.3" transform="matrix(1 -0.1000 0 1.0200 0 49.40)" filter="url(#fl)"/><polygon points="458.0,337.7 464.8,422.9 457.3,422.9" transform="matrix(1 -0.1000 0 1.0200 0 49.40)" filter="url(#fl)"/></g><g clip-path="url(#cAR)"><polygon points="327.2,-70.7 342.7,-70.7 342.1,35.1" transform="matrix(1 -0.2353 0 1.0387 0 87.88)" filter="url(#fh)"/><polygon points="327.9,-71.1 342.8,34.7 327.3,34.7" transform="matrix(1 -0.2353 0 1.0387 0 87.88)" filter="url(#fh)"/><polygon points="327.2,33.3 342.7,33.3 342.1,107.2" transform="matrix(1 -0.2353 0 1.0657 0 86.97)" filter="url(#fh)"/><polygon points="327.9,32.9 342.8,106.7 327.3,106.7" transform="matrix(1 0.0000 0 1.0200 0 11.34)" filter="url(#fh)"/><polygon points="327.0,105.5 342.7,105.3 342.3,133.6" transform="matrix(1 0.0000 0 1.0657 0 6.50)" filter="url(#fh)"/><polygon points="327.7,104.9 343.0,133.1 327.3,133.2" transform="matrix(1 0.0864 0 1.0200 0 -17.00)" filter="url(#fh)"/><polygon points="327.1,131.8 342.7,131.8 342.2,178.7" transform="matrix(1 0.0864 0 1.0200 0 -17.00)" filter="url(#fh)"/><polygon points="327.8,131.4 342.9,178.3 327.3,178.3" transform="matrix(1 0.0864 0 1.0200 0 -17.00)" filter="url(#fh)"/><polygon points="327.1,176.9 342.7,176.9 342.2,223.8" transform="matrix(1 0.0864 0 1.2563 0 -58.96)" filter="url(#fm)"/><polygon points="327.8,176.5 342.9,223.4 327.3,223.4" transform="matrix(1 0.2403 0 1.2085 0 -100.95)" filter="url(#fm)"/><polygon points="327.1,222.0 342.7,222.0 342.1,276.8" transform="matrix(1 0.2403 0 1.0935 0 -75.35)" filter="url(#fm)"/><polygon points="327.9,221.6 342.9,276.3 327.3,276.3" transform="matrix(1 0.2326 0 1.0956 0 -73.26)" filter="url(#fm)"/><polygon points="341.2,-70.7 356.7,-70.7 356.1,35.1" transform="matrix(1 0.0282 0 1.0334 0 -2.58)" filter="url(#fh)"/><polygon points="341.9,-71.1 356.8,34.7 341.3,34.7" transform="matrix(1 -0.0111 0 1.0387 0 11.22)" filter="url(#fh)"/><polygon points="341.2,33.3 356.7,33.3 356.1,107.2" transform="matrix(1 -0.0111 0 1.0733 0 10.04)" filter="url(#fh)"/><polygon points="341.9,32.9 356.8,106.7 341.3,106.7" transform="matrix(1 0.0282 0 1.0657 0 -3.13)" filter="url(#fh)"/><polygon points="341.0,105.5 356.7,105.3 356.3,133.6" transform="matrix(1 0.0282 0 1.1179 0 -8.67)" filter="url(#fh)"/><polygon points="341.7,104.9 357.0,133.1 341.3,133.2" transform="matrix(1 0.1269 0 1.0657 0 -36.89)" filter="url(#fh)"/><polygon points="341.1,131.8 356.7,131.8 356.2,178.7" transform="matrix(1 0.1269 0 1.0200 0 -30.84)" filter="url(#fh)"/><polygon points="341.8,131.4 356.9,178.3 341.3,178.3" transform="matrix(1 0.1269 0 1.0200 0 -30.84)" filter="url(#fh)"/><polygon points="341.1,176.9 356.7,176.9 356.2,223.8" transform="matrix(1 0.1269 0 1.2915 0 -79.05)" filter="url(#fm)"/><polygon points="341.8,176.5 356.9,223.4 341.3,223.4" transform="matrix(1 0.2403 0 1.2563 0 -111.59)" filter="url(#fm)"/><polygon points="341.1,222.0 356.7,222.0 356.1,276.8" transform="matrix(1 0.2403 0 1.0915 0 -74.89)" filter="url(#fm)"/><polygon points="341.9,221.6 356.9,276.3 341.3,276.3" transform="matrix(1 0.2326 0 1.0935 0 -72.70)" filter="url(#fm)"/><polygon points="355.2,-70.7 370.7,-70.7 370.1,35.1" transform="matrix(1 0.1255 0 1.0277 0 -37.64)" filter="url(#fh)"/><polygon points="355.9,-71.1 370.8,34.7 355.3,34.7" transform="matrix(1 0.0832 0 1.0334 0 -22.17)" filter="url(#fh)"/><polygon points="355.2,33.3 370.7,33.3 370.1,107.2" transform="matrix(1 0.0832 0 1.0724 0 -23.50)" filter="url(#fh)"/><polygon points="355.9,32.9 370.8,106.7 355.3,106.7" transform="matrix(1 0.0785 0 1.0733 0 -21.87)" filter="url(#fh)"/><polygon points="355.0,105.5 370.7,105.3 370.3,133.6" transform="matrix(1 0.0785 0 1.2906 0 -44.90)" filter="url(#fh)"/><polygon points="355.7,104.9 371.0,133.1 355.3,133.2" transform="matrix(1 0.4050 0 1.1179 0 -142.81)" filter="url(#fh)"/><polygon points="355.1,131.8 370.7,131.8 370.2,178.7" transform="matrix(1 0.4050 0 1.0200 0 -129.84)" filter="url(#fh)"/><polygon points="355.8,131.4 370.9,178.3 355.3,178.3" transform="matrix(1 0.4050 0 1.0200 0 -129.84)" filter="url(#fh)"/><polygon points="355.1,176.9 370.7,176.9 370.2,223.8" transform="matrix(1 0.4050 0 1.2404 0 -168.97)" filter="url(#fm)"/><polygon points="355.8,176.5 370.9,223.4 355.3,223.4" transform="matrix(1 0.2403 0 1.2915 0 -119.44)" filter="url(#fm)"/><polygon points="355.1,222.0 370.7,222.0 370.1,276.8" transform="matrix(1 0.2403 0 1.0894 0 -74.44)" filter="url(#fm)"/><polygon points="355.9,221.6 370.9,276.3 355.3,276.3" transform="matrix(1 0.2326 0 1.0915 0 -72.13)" filter="url(#fm)"/><polygon points="369.2,-70.7 384.7,-70.7 384.1,35.1" transform="matrix(1 0.1714 0 1.0238 0 -54.90)" filter="url(#fh)"/><polygon points="369.9,-71.1 384.8,34.7 369.3,34.7" transform="matrix(1 0.1429 0 1.0277 0 -44.06)" filter="url(#fh)"/><polygon points="369.2,33.3 384.7,33.3 384.1,107.2" transform="matrix(1 0.1429 0 1.0841 0 -45.98)" filter="url(#fh)"/><polygon points="369.9,32.9 384.8,106.7 369.3,106.7" transform="matrix(1 0.2031 0 1.0724 0 -67.86)" filter="url(#fh)"/><polygon points="369.0,105.5 384.7,105.3 384.3,133.6" transform="matrix(1 0.2031 0 1.3722 0 -99.64)" filter="url(#fh)"/><polygon points="369.7,104.9 385.0,133.1 369.3,133.2" transform="matrix(1 0.3574 0 1.2906 0 -148.09)" filter="url(#fh)"/><polygon points="369.1,131.8 384.7,131.8 384.2,178.7" transform="matrix(1 0.3574 0 1.0200 0 -112.24)" filter="url(#fh)"/><polygon points="369.8,131.4 384.9,178.3 369.3,178.3" transform="matrix(1 0.3574 0 1.0200 0 -112.24)" filter="url(#fh)"/><polygon points="369.1,176.9 384.7,176.9 384.2,223.8" transform="matrix(1 0.3574 0 1.2040 0 -144.92)" filter="url(#fm)"/><polygon points="369.8,176.5 384.9,223.4 369.3,223.4" transform="matrix(1 0.2403 0 1.2404 0 -108.05)" filter="url(#fm)"/><polygon points="369.1,222.0 384.7,222.0 384.1,276.8" transform="matrix(1 0.2403 0 1.0874 0 -73.98)" filter="url(#fm)"/><polygon points="369.9,221.6 384.9,276.3 369.3,276.3" transform="matrix(1 0.2326 0 1.0894 0 -71.57)" filter="url(#fm)"/><polygon points="383.2,-70.7 398.7,-70.7 398.1,35.1" transform="matrix(1 0.1714 0 1.0200 0 -55.17)" filter="url(#fh)"/><polygon points="383.9,-71.1 398.8,34.7 383.3,34.7" transform="matrix(1 0.1429 0 1.0238 0 -43.93)" filter="url(#fh)"/><polygon points="383.2,33.3 398.7,33.3 398.1,107.2" transform="matrix(1 0.1429 0 1.1217 0 -47.26)" filter="url(#fh)"/><polygon points="383.9,32.9 398.8,106.7 383.3,106.7" transform="matrix(1 0.3362 0 1.0841 0 -120.21)" filter="url(#fh)"/><polygon points="383.0,105.5 398.7,105.3 398.3,133.6" transform="matrix(1 0.3362 0 1.3381 0 -147.15)" filter="url(#fh)"/><polygon points="383.7,104.9 399.0,133.1 383.3,133.2" transform="matrix(1 0.2718 0 1.3722 0 -126.03)" filter="url(#fh)"/><polygon points="383.1,131.8 398.7,131.8 398.2,178.7" transform="matrix(1 0.2718 0 1.0200 0 -79.37)" filter="url(#fh)"/><polygon points="383.8,131.4 398.9,178.3 383.3,178.3" transform="matrix(1 0.2718 0 1.0200 0 -79.37)" filter="url(#fh)"/><polygon points="383.1,176.9 398.7,176.9 398.2,223.8" transform="matrix(1 0.2718 0 1.1942 0 -110.31)" filter="url(#fm)"/><polygon points="383.8,176.5 398.9,223.4 383.3,223.4" transform="matrix(1 0.2403 0 1.2040 0 -99.96)" filter="url(#fm)"/><polygon points="383.1,222.0 398.7,222.0 398.1,276.8" transform="matrix(1 0.2403 0 1.0853 0 -73.52)" filter="url(#fm)"/><polygon points="383.9,221.6 398.9,276.3 383.3,276.3" transform="matrix(1 0.2326 0 1.0874 0 -71.00)" filter="url(#fm)"/><polygon points="397.2,-70.7 412.7,-70.7 412.1,35.1" transform="matrix(1 0.1959 0 1.0218 0 -64.80)" filter="url(#fh)"/><polygon points="397.9,-71.1 412.8,34.7 397.3,34.7" transform="matrix(1 0.2090 0 1.0200 0 -70.12)" filter="url(#fh)"/><polygon points="397.2,33.3 412.7,33.3 412.1,107.2" transform="matrix(1 0.2090 0 1.1331 0 -73.96)" filter="url(#fh)"/><polygon points="397.9,32.9 412.8,106.7 397.3,106.7" transform="matrix(1 0.2679 0 1.1217 0 -97.01)" filter="url(#fh)"/><polygon points="397.0,105.5 412.7,105.3 412.3,133.6" transform="matrix(1 0.2679 0 1.3402 0 -120.18)" filter="url(#fh)"/><polygon points="397.7,104.9 413.0,133.1 397.3,133.2" transform="matrix(1 0.2718 0 1.3381 0 -121.52)" filter="url(#fh)"/><polygon points="397.1,131.8 412.7,131.8 412.2,178.7" transform="matrix(1 0.2718 0 1.0200 0 -79.37)" filter="url(#fh)"/><polygon points="397.8,131.4 412.9,178.3 397.3,178.3" transform="matrix(1 0.2718 0 1.0200 0 -79.37)" filter="url(#fh)"/><polygon points="397.1,176.9 412.7,176.9 412.2,223.8" transform="matrix(1 0.2718 0 1.1845 0 -108.58)" filter="url(#fm)"/><polygon points="397.8,176.5 412.9,223.4 397.3,223.4" transform="matrix(1 0.2403 0 1.1942 0 -97.78)" filter="url(#fm)"/><polygon points="397.1,222.0 412.7,222.0 412.1,276.8" transform="matrix(1 0.2403 0 1.0833 0 -73.07)" filter="url(#fm)"/><polygon points="397.9,221.6 412.9,276.3 397.3,276.3" transform="matrix(1 0.2326 0 1.0853 0 -70.44)" filter="url(#fm)"/><polygon points="411.2,-70.7 426.7,-70.7 426.1,35.1" transform="matrix(1 0.2000 0 1.0245 0 -66.29)" filter="url(#fh)"/><polygon points="411.9,-71.1 426.8,34.7 411.3,34.7" transform="matrix(1 0.2200 0 1.0218 0 -74.72)" filter="url(#fh)"/><polygon points="411.2,33.3 426.7,33.3 426.1,107.2" transform="matrix(1 0.2200 0 1.1424 0 -78.82)" filter="url(#fh)"/><polygon points="411.9,32.9 426.8,106.7 411.3,106.7" transform="matrix(1 0.2679 0 1.1331 0 -98.22)" filter="url(#fh)"/><polygon points="411.0,105.5 426.7,105.3 426.3,133.6" transform="matrix(1 0.2679 0 1.3504 0 -121.25)" filter="url(#fh)"/><polygon points="411.7,104.9 427.0,133.1 411.3,133.2" transform="matrix(1 0.2870 0 1.3402 0 -128.08)" filter="url(#fh)"/><polygon points="411.1,131.8 426.7,131.8 426.2,178.7" transform="matrix(1 0.2870 0 1.0200 0 -85.65)" filter="url(#fh)"/><polygon points="411.8,131.4 426.9,178.3 411.3,178.3" transform="matrix(1 0.2870 0 1.0200 0 -85.65)" filter="url(#fh)"/><polygon points="411.1,176.9 426.7,176.9 426.2,223.8" transform="matrix(1 0.2870 0 1.1700 0 -112.28)" filter="url(#fm)"/><polygon points="411.8,176.5 426.9,223.4 411.3,223.4" transform="matrix(1 0.2403 0 1.1845 0 -95.60)" filter="url(#fm)"/><polygon points="411.1,222.0 426.7,222.0 426.1,276.8" transform="matrix(1 0.2403 0 1.0812 0 -72.61)" filter="url(#fm)"/><polygon points="411.9,221.6 426.9,276.3 411.3,276.3" transform="matrix(1 0.2326 0 1.0833 0 -69.87)" filter="url(#fm)"/><polygon points="425.2,-70.7 440.7,-70.7 440.1,35.1" transform="matrix(1 0.2000 0 1.0271 0 -66.10)" filter="url(#fh)"/><polygon points="425.9,-71.1 440.8,34.7 425.3,34.7" transform="matrix(1 0.2200 0 1.0245 0 -74.81)" filter="url(#fh)"/><polygon points="425.2,33.3 440.7,33.3 440.1,107.2" transform="matrix(1 0.2200 0 1.1517 0 -79.13)" filter="url(#fh)"/><polygon points="425.9,32.9 440.8,106.7 425.3,106.7" transform="matrix(1 0.2679 0 1.1424 0 -99.20)" filter="url(#fh)"/><polygon points="425.0,105.5 440.7,105.3 440.3,133.6" transform="matrix(1 0.2679 0 1.3666 0 -122.97)" filter="url(#fh)"/><polygon points="425.7,104.9 441.0,133.1 425.3,133.2" transform="matrix(1 0.2985 0 1.3504 0 -134.29)" filter="url(#fh)"/><polygon points="425.1,131.8 440.7,131.8 440.2,178.7" transform="matrix(1 0.2985 0 1.0200 0 -90.52)" filter="url(#fh)"/><polygon points="425.8,131.4 440.9,178.3 425.3,178.3" transform="matrix(1 0.2985 0 1.0200 0 -90.52)" filter="url(#fh)"/><polygon points="425.1,176.9 440.7,176.9 440.2,223.8" transform="matrix(1 0.2985 0 1.1519 0 -113.94)" filter="url(#fm)"/><polygon points="425.8,176.5 440.9,223.4 425.3,223.4" transform="matrix(1 0.2403 0 1.1700 0 -92.37)" filter="url(#fm)"/><polygon points="425.1,222.0 440.7,222.0 440.1,276.8" transform="matrix(1 0.2403 0 1.0792 0 -72.15)" filter="url(#fm)"/><polygon points="425.9,221.6 440.9,276.3 425.3,276.3" transform="matrix(1 0.2326 0 1.0812 0 -69.31)" filter="url(#fm)"/><polygon points="439.2,-70.7 454.7,-70.7 454.1,35.1" transform="matrix(1 0.2000 0 1.0298 0 -65.91)" filter="url(#fh)"/><polygon points="439.9,-71.1 454.8,34.7 439.3,34.7" transform="matrix(1 0.2200 0 1.0271 0 -74.90)" filter="url(#fh)"/><polygon points="439.2,33.3 454.7,33.3 454.1,107.2" transform="matrix(1 0.2200 0 1.1610 0 -79.45)" filter="url(#fh)"/><polygon points="439.9,32.9 454.8,106.7 439.3,106.7" transform="matrix(1 0.2679 0 1.1517 0 -100.19)" filter="url(#fh)"/><polygon points="439.0,105.5 454.7,105.3 454.3,133.6" transform="matrix(1 0.2679 0 1.3827 0 -124.69)" filter="url(#fh)"/><polygon points="439.7,104.9 455.0,133.1 439.3,133.2" transform="matrix(1 0.2985 0 1.3666 0 -136.44)" filter="url(#fh)"/><polygon points="439.1,131.8 454.7,131.8 454.2,178.7" transform="matrix(1 0.2985 0 1.0200 0 -90.52)" filter="url(#fh)"/><polygon points="439.8,131.4 454.9,178.3 439.3,178.3" transform="matrix(1 0.2985 0 1.0200 0 -90.52)" filter="url(#fh)"/><polygon points="439.1,176.9 454.7,176.9 454.2,223.8" transform="matrix(1 0.2985 0 1.1338 0 -110.74)" filter="url(#fm)"/><polygon points="439.8,176.5 454.9,223.4 439.3,223.4" transform="matrix(1 0.2403 0 1.1519 0 -88.35)" filter="url(#fm)"/><polygon points="439.1,222.0 454.7,222.0 454.1,276.8" transform="matrix(1 0.2403 0 1.0771 0 -71.70)" filter="url(#fm)"/><polygon points="439.9,221.6 454.9,276.3 439.3,276.3" transform="matrix(1 0.2326 0 1.0792 0 -68.74)" filter="url(#fm)"/><polygon points="453.2,-70.7 468.7,-70.7 468.1,35.1" transform="matrix(1 0.2000 0 1.0325 0 -65.72)" filter="url(#fh)"/><polygon points="453.9,-71.1 468.8,34.7 453.3,34.7" transform="matrix(1 0.2200 0 1.0298 0 -74.99)" filter="url(#fh)"/><polygon points="453.2,33.3 468.7,33.3 468.1,107.2" transform="matrix(1 0.2200 0 1.1751 0 -79.93)" filter="url(#fh)"/><polygon points="453.9,32.9 468.8,106.7 453.3,106.7" transform="matrix(1 0.2924 0 1.1610 0 -112.30)" filter="url(#fh)"/><polygon points="453.0,105.5 468.7,105.3 468.3,133.6" transform="matrix(1 0.2924 0 1.3781 0 -135.31)" filter="url(#fh)"/><polygon points="453.7,104.9 469.0,133.1 453.3,133.2" transform="matrix(1 0.2835 0 1.3827 0 -131.81)" filter="url(#fh)"/><polygon points="453.1,131.8 468.7,131.8 468.2,178.7" transform="matrix(1 0.2835 0 1.0200 0 -83.74)" filter="url(#fh)"/><polygon points="453.8,131.4 468.9,178.3 453.3,178.3" transform="matrix(1 0.2835 0 1.0200 0 -83.74)" filter="url(#fh)"/><polygon points="453.1,176.9 468.7,176.9 468.2,223.8" transform="matrix(1 0.2835 0 1.1270 0 -102.75)" filter="url(#fm)"/><polygon points="453.8,176.5 468.9,223.4 453.3,223.4" transform="matrix(1 0.2616 0 1.1338 0 -94.00)" filter="url(#fm)"/><polygon points="453.1,222.0 468.7,222.0 468.1,276.8" transform="matrix(1 0.2616 0 1.0732 0 -80.49)" filter="url(#fm)"/><polygon points="453.9,221.6 468.9,276.3 453.3,276.3" transform="matrix(1 0.2468 0 1.0771 0 -74.65)" filter="url(#fm)"/><polygon points="467.2,-70.7 482.7,-70.7 482.1,35.1" transform="matrix(1 0.2000 0 1.0352 0 -65.53)" filter="url(#fh)"/><polygon points="467.9,-71.1 482.8,34.7 467.3,34.7" transform="matrix(1 0.2200 0 1.0325 0 -75.08)" filter="url(#fh)"/><polygon points="467.2,33.3 482.7,33.3 482.1,107.2" transform="matrix(1 0.2200 0 1.1906 0 -80.45)" filter="url(#fh)"/><polygon points="467.9,32.9 482.8,106.7 467.3,106.7" transform="matrix(1 0.2996 0 1.1751 0 -117.19)" filter="url(#fh)"/><polygon points="467.0,105.5 482.7,105.3 482.3,133.6" transform="matrix(1 0.2996 0 1.3673 0 -137.56)" filter="url(#fh)"/><polygon points="467.7,104.9 483.0,133.1 467.3,133.2" transform="matrix(1 0.2791 0 1.3781 0 -129.12)" filter="url(#fh)"/><polygon points="467.1,131.8 482.7,131.8 482.2,178.7" transform="matrix(1 0.2791 0 1.0200 0 -81.68)" filter="url(#fh)"/><polygon points="467.8,131.4 482.9,178.3 467.3,178.3" transform="matrix(1 0.2791 0 1.0200 0 -81.68)" filter="url(#fh)"/><polygon points="467.1,176.9 482.7,176.9 482.2,223.8" transform="matrix(1 0.2791 0 1.1234 0 -100.04)" filter="url(#fm)"/><polygon points="467.8,176.5 482.9,223.4 467.3,223.4" transform="matrix(1 0.2674 0 1.1270 0 -95.20)" filter="url(#fm)"/><polygon points="467.1,222.0 482.7,222.0 482.1,276.8" transform="matrix(1 0.2674 0 1.0688 0 -82.23)" filter="url(#fm)"/><polygon points="467.9,221.6 482.9,276.3 467.3,276.3" transform="matrix(1 0.2507 0 1.0732 0 -75.39)" filter="url(#fm)"/><polygon points="481.2,-70.7 496.7,-70.7 496.1,35.1" transform="matrix(1 0.2000 0 1.0379 0 -65.35)" filter="url(#fh)"/><polygon points="481.9,-71.1 496.8,34.7 481.3,34.7" transform="matrix(1 0.2200 0 1.0352 0 -75.17)" filter="url(#fh)"/><polygon points="481.2,33.3 496.7,33.3 496.1,107.2" transform="matrix(1 0.2200 0 1.2060 0 -80.98)" filter="url(#fh)"/><polygon points="481.9,32.9 496.8,106.7 481.3,106.7" transform="matrix(1 0.2996 0 1.1906 0 -118.83)" filter="url(#fh)"/><polygon points="481.0,105.5 496.7,105.3 496.3,133.6" transform="matrix(1 0.2996 0 1.3564 0 -136.41)" filter="url(#fh)"/><polygon points="481.7,104.9 497.0,133.1 481.3,133.2" transform="matrix(1 0.2791 0 1.3673 0 -127.69)" filter="url(#fh)"/><polygon points="481.1,131.8 496.7,131.8 496.2,178.7" transform="matrix(1 0.2791 0 1.0200 0 -81.68)" filter="url(#fh)"/><polygon points="481.8,131.4 496.9,178.3 481.3,178.3" transform="matrix(1 0.2791 0 1.0200 0 -81.68)" filter="url(#fh)"/><polygon points="481.1,176.9 496.7,176.9 496.2,223.8" transform="matrix(1 0.2791 0 1.1198 0 -99.39)" filter="url(#fm)"/><polygon points="481.8,176.5 496.9,223.4 481.3,223.4" transform="matrix(1 0.2674 0 1.1234 0 -94.39)" filter="url(#fm)"/><polygon points="481.1,222.0 496.7,222.0 496.1,276.8" transform="matrix(1 0.2674 0 1.0644 0 -81.24)" filter="url(#fm)"/><polygon points="481.9,221.6 496.9,276.3 481.3,276.3" transform="matrix(1 0.2507 0 1.0688 0 -74.17)" filter="url(#fm)"/><polygon points="495.2,-70.7 510.7,-70.7 510.1,35.1" transform="matrix(1 0.2141 0 1.0387 0 -72.30)" filter="url(#fh)"/><polygon points="495.9,-71.1 510.8,34.7 495.3,34.7" transform="matrix(1 0.2198 0 1.0379 0 -75.19)" filter="url(#fh)"/><polygon points="495.2,33.3 510.7,33.3 510.1,107.2" transform="matrix(1 0.2198 0 1.2254 0 -81.56)" filter="url(#fh)"/><polygon points="495.9,32.9 510.8,106.7 495.3,106.7" transform="matrix(1 0.3197 0 1.2060 0 -130.45)" filter="url(#fh)"/><polygon points="495.0,105.5 510.7,105.3 510.3,133.6" transform="matrix(1 0.3197 0 1.3722 0 -148.07)" filter="url(#fh)"/><polygon points="495.7,104.9 511.0,133.1 495.3,133.2" transform="matrix(1 0.3496 0 1.3564 0 -161.18)" filter="url(#fh)"/><polygon points="495.1,131.8 510.7,131.8 510.2,178.7" transform="matrix(1 0.3496 0 1.0200 0 -116.60)" filter="url(#fh)"/><polygon points="495.8,131.4 510.9,178.3 495.3,178.3" transform="matrix(1 0.3496 0 1.0200 0 -116.60)" filter="url(#fh)"/><polygon points="495.1,176.9 510.7,176.9 510.2,223.8" transform="matrix(1 0.3496 0 1.0943 0 -129.79)" filter="url(#fm)"/><polygon points="495.8,176.5 510.9,223.4 495.3,223.4" transform="matrix(1 0.2674 0 1.1198 0 -93.58)" filter="url(#fm)"/><polygon points="495.1,222.0 510.7,222.0 510.1,276.8" transform="matrix(1 0.2674 0 1.0599 0 -80.26)" filter="url(#fm)"/><polygon points="495.9,221.6 510.9,276.3 495.3,276.3" transform="matrix(1 0.2507 0 1.0644 0 -72.95)" filter="url(#fm)"/><polygon points="509.2,-70.7 524.7,-70.7 524.1,35.1" transform="matrix(1 0.2198 0 1.0387 0 -75.18)" filter="url(#fh)"/><polygon points="509.9,-71.1 524.8,34.7 509.3,34.7" transform="matrix(1 0.2198 0 1.0387 0 -75.18)" filter="url(#fh)"/><polygon points="509.2,33.3 524.7,33.3 524.1,107.2" transform="matrix(1 0.2198 0 1.2449 0 -82.19)" filter="url(#fh)"/><polygon points="509.9,32.9 524.8,106.7 509.3,106.7" transform="matrix(1 0.3201 0 1.2254 0 -132.69)" filter="url(#fh)"/><polygon points="509.0,105.5 524.7,105.3 524.3,133.6" transform="matrix(1 0.3201 0 1.3884 0 -149.98)" filter="url(#fh)"/><polygon points="509.7,104.9 525.0,133.1 509.3,133.2" transform="matrix(1 0.3508 0 1.3722 0 -163.92)" filter="url(#fh)"/><polygon points="509.1,131.8 524.7,131.8 524.2,178.7" transform="matrix(1 0.3508 0 1.0200 0 -117.26)" filter="url(#fh)"/><polygon points="509.8,131.4 524.9,178.3 509.3,178.3" transform="matrix(1 0.3508 0 1.0200 0 -117.26)" filter="url(#fh)"/><polygon points="509.1,176.9 524.7,176.9 524.2,223.8" transform="matrix(1 0.3508 0 1.0684 0 -125.85)" filter="url(#fm)"/><polygon points="509.8,176.5 524.9,223.4 509.3,223.4" transform="matrix(1 0.2674 0 1.0943 0 -87.90)" filter="url(#fm)"/><polygon points="509.1,222.0 524.7,222.0 524.1,276.8" transform="matrix(1 0.2674 0 1.0555 0 -79.27)" filter="url(#fm)"/><polygon points="509.9,221.6 524.9,276.3 509.3,276.3" transform="matrix(1 0.2507 0 1.0599 0 -71.73)" filter="url(#fm)"/><polygon points="523.2,-70.7 538.7,-70.7 538.1,35.1" transform="matrix(1 0.2198 0 1.0387 0 -75.18)" filter="url(#fh)"/><polygon points="523.9,-71.1 538.8,34.7 523.3,34.7" transform="matrix(1 0.2198 0 1.0387 0 -75.18)" filter="url(#fh)"/><polygon points="523.2,33.3 538.7,33.3 538.1,107.2" transform="matrix(1 0.2198 0 1.2631 0 -82.81)" filter="url(#fh)"/><polygon points="523.9,32.9 538.8,106.7 523.3,106.7" transform="matrix(1 0.3133 0 1.2449 0 -131.17)" filter="url(#fh)"/><polygon points="523.0,105.5 538.7,105.3 538.3,133.6" transform="matrix(1 0.3133 0 1.4012 0 -147.74)" filter="url(#fh)"/><polygon points="523.7,104.9 539.0,133.1 523.3,133.2" transform="matrix(1 0.3375 0 1.3884 0 -159.07)" filter="url(#fh)"/><polygon points="523.1,131.8 538.7,131.8 538.2,178.7" transform="matrix(1 0.3375 0 1.0200 0 -110.25)" filter="url(#fh)"/><polygon points="523.8,131.4 538.9,178.3 523.3,178.3" transform="matrix(1 0.3375 0 1.0200 0 -110.25)" filter="url(#fh)"/><polygon points="523.1,176.9 538.7,176.9 538.2,223.8" transform="matrix(1 0.3375 0 1.0466 0 -114.97)" filter="url(#fm)"/><polygon points="523.8,176.5 538.9,223.4 523.3,223.4" transform="matrix(1 0.2674 0 1.0684 0 -82.13)" filter="url(#fm)"/><polygon points="523.1,222.0 538.7,222.0 538.1,276.8" transform="matrix(1 0.2674 0 1.0511 0 -78.29)" filter="url(#fm)"/><polygon points="523.9,221.6 538.9,276.3 523.3,276.3" transform="matrix(1 0.2507 0 1.0555 0 -70.51)" filter="url(#fm)"/><polygon points="537.2,-70.7 552.7,-70.7 552.1,35.1" transform="matrix(1 0.2198 0 1.0387 0 -75.18)" filter="url(#fh)"/><polygon points="537.9,-71.1 552.8,34.7 537.3,34.7" transform="matrix(1 0.2198 0 1.0387 0 -75.18)" filter="url(#fh)"/><polygon points="537.2,33.3 552.7,33.3 552.1,107.2" transform="matrix(1 0.2198 0 1.2757 0 -83.23)" filter="url(#fh)"/><polygon points="537.9,32.9 552.8,106.7 537.3,106.7" transform="matrix(1 0.2846 0 1.2631 0 -117.68)" filter="url(#fh)"/><polygon points="537.0,105.5 552.7,105.3 552.3,133.6" transform="matrix(1 0.2846 0 1.3996 0 -132.15)" filter="url(#fh)"/><polygon points="537.7,104.9 553.0,133.1 537.3,133.2" transform="matrix(1 0.2814 0 1.4012 0 -130.63)" filter="url(#fh)"/><polygon points="537.1,131.8 552.7,131.8 552.2,178.7" transform="matrix(1 0.2814 0 1.0200 0 -80.12)" filter="url(#fh)"/><polygon points="537.8,131.4 552.9,178.3 537.3,178.3" transform="matrix(1 0.2814 0 1.0200 0 -80.12)" filter="url(#fh)"/><polygon points="537.1,176.9 552.7,176.9 552.2,223.8" transform="matrix(1 0.2814 0 1.0423 0 -84.07)" filter="url(#fm)"/><polygon points="537.8,176.5 552.9,223.4 537.3,223.4" transform="matrix(1 0.2674 0 1.0466 0 -77.29)" filter="url(#fm)"/><polygon points="537.1,222.0 552.7,222.0 552.1,276.8" transform="matrix(1 0.2674 0 1.0467 0 -77.30)" filter="url(#fm)"/><polygon points="537.9,221.6 552.9,276.3 537.3,276.3" transform="matrix(1 0.2507 0 1.0511 0 -69.30)" filter="url(#fm)"/><polygon points="551.2,-70.7 566.7,-70.7 566.1,35.1" transform="matrix(1 0.2198 0 1.0387 0 -75.18)" filter="url(#fh)"/><polygon points="551.9,-71.1 566.8,34.7 551.3,34.7" transform="matrix(1 0.2198 0 1.0387 0 -75.18)" filter="url(#fh)"/><polygon points="551.2,33.3 566.7,33.3 566.1,107.2" transform="matrix(1 0.2198 0 1.2883 0 -83.66)" filter="url(#fh)"/><polygon points="551.9,32.9 566.8,106.7 551.3,106.7" transform="matrix(1 0.2846 0 1.2757 0 -119.01)" filter="url(#fh)"/><polygon points="551.0,105.5 566.7,105.3 566.3,133.6" transform="matrix(1 0.2846 0 1.3937 0 -131.52)" filter="url(#fh)"/><polygon points="551.7,104.9 567.0,133.1 551.3,133.2" transform="matrix(1 0.2734 0 1.3996 0 -125.99)" filter="url(#fh)"/><polygon points="551.1,131.8 566.7,131.8 566.2,178.7" transform="matrix(1 0.2734 0 1.0200 0 -75.70)" filter="url(#fh)"/><polygon points="551.8,131.4 566.9,178.3 551.3,178.3" transform="matrix(1 0.2734 0 1.0200 0 -75.70)" filter="url(#fh)"/><polygon points="551.1,176.9 566.7,176.9 566.2,223.8" transform="matrix(1 0.2734 0 1.0404 0 -79.32)" filter="url(#fm)"/><polygon points="551.8,176.5 566.9,223.4 551.3,223.4" transform="matrix(1 0.2674 0 1.0423 0 -76.32)" filter="url(#fm)"/><polygon points="551.1,222.0 566.7,222.0 566.1,276.8" transform="matrix(1 0.2674 0 1.0423 0 -76.32)" filter="url(#fm)"/><polygon points="551.9,221.6 566.9,276.3 551.3,276.3" transform="matrix(1 0.2507 0 1.0467 0 -68.08)" filter="url(#fm)"/><polygon points="565.2,-70.7 580.7,-70.7 580.1,35.1" transform="matrix(1 0.2198 0 1.0387 0 -75.18)" filter="url(#fh)"/><polygon points="565.9,-71.1 580.8,34.7 565.3,34.7" transform="matrix(1 0.2198 0 1.0387 0 -75.18)" filter="url(#fh)"/><polygon points="565.2,33.3 580.7,33.3 580.1,107.2" transform="matrix(1 0.2198 0 1.3017 0 -84.12)" filter="url(#fh)"/><polygon points="565.9,32.9 580.8,106.7 565.3,106.7" transform="matrix(1 0.2889 0 1.2883 0 -122.81)" filter="url(#fh)"/><polygon points="565.0,105.5 580.7,105.3 580.3,133.6" transform="matrix(1 0.2889 0 1.3855 0 -133.12)" filter="url(#fh)"/><polygon points="565.7,104.9 581.0,133.1 565.3,133.2" transform="matrix(1 0.2734 0 1.3937 0 -125.19)" filter="url(#fh)"/><polygon points="565.1,131.8 580.7,131.8 580.2,178.7" transform="matrix(1 0.2734 0 1.0200 0 -75.67)" filter="url(#fh)"/><polygon points="565.8,131.4 580.9,178.3 565.3,178.3" transform="matrix(1 0.2734 0 1.0200 0 -75.67)" filter="url(#fh)"/><polygon points="565.1,176.9 580.7,176.9 580.2,223.8" transform="matrix(1 0.2734 0 1.0385 0 -78.96)" filter="url(#fm)"/><polygon points="565.8,176.5 580.9,223.4 565.3,223.4" transform="matrix(1 0.2674 0 1.0404 0 -75.90)" filter="url(#fm)"/><polygon points="565.1,222.0 580.7,222.0 580.1,276.8" transform="matrix(1 0.2674 0 1.0378 0 -75.34)" filter="url(#fm)"/><polygon points="565.9,221.6 580.9,276.3 565.3,276.3" transform="matrix(1 0.2507 0 1.0423 0 -66.86)" filter="url(#fm)"/><polygon points="579.2,-70.7 594.7,-70.7 594.1,35.1" transform="matrix(1 0.2198 0 1.0387 0 -75.18)" filter="url(#fh)"/><polygon points="579.9,-71.1 594.8,34.7 579.3,34.7" transform="matrix(1 0.2198 0 1.0387 0 -75.18)" filter="url(#fh)"/><polygon points="579.2,33.3 594.7,33.3 594.1,107.2" transform="matrix(1 0.2198 0 1.3162 0 -84.61)" filter="url(#fh)"/><polygon points="579.9,32.9 594.8,106.7 579.3,106.7" transform="matrix(1 0.2941 0 1.3017 0 -127.23)" filter="url(#fh)"/><polygon points="579.0,105.5 594.7,105.3 594.3,133.6" transform="matrix(1 0.2941 0 1.3791 0 -135.45)" filter="url(#fh)"/><polygon points="579.7,104.9 595.0,133.1 579.3,133.2" transform="matrix(1 0.2822 0 1.3855 0 -129.20)" filter="url(#fh)"/><polygon points="579.1,131.8 594.7,131.8 594.2,178.7" transform="matrix(1 0.2822 0 1.0200 0 -80.77)" filter="url(#fh)"/><polygon points="579.8,131.4 594.9,178.3 579.3,178.3" transform="matrix(1 0.2822 0 1.0200 0 -80.77)" filter="url(#fh)"/><polygon points="579.1,176.9 594.7,176.9 594.2,223.8" transform="matrix(1 0.2822 0 1.0339 0 -83.25)" filter="url(#fm)"/><polygon points="579.8,176.5 594.9,223.4 579.3,223.4" transform="matrix(1 0.2674 0 1.0385 0 -75.49)" filter="url(#fm)"/><polygon points="579.1,222.0 594.7,222.0 594.1,276.8" transform="matrix(1 0.2674 0 1.0334 0 -74.35)" filter="url(#fm)"/><polygon points="579.9,221.6 594.9,276.3 579.3,276.3" transform="matrix(1 0.2507 0 1.0378 0 -65.64)" filter="url(#fm)"/><polygon points="593.2,-70.7 608.7,-70.7 608.1,35.1" transform="matrix(1 0.2198 0 1.0387 0 -75.18)" filter="url(#fh)"/><polygon points="593.9,-71.1 608.8,34.7 593.3,34.7" transform="matrix(1 0.2198 0 1.0387 0 -75.18)" filter="url(#fh)"/><polygon points="593.2,33.3 608.7,33.3 608.1,107.2" transform="matrix(1 0.2198 0 1.3306 0 -85.10)" filter="url(#fh)"/><polygon points="593.9,32.9 608.8,106.7 593.3,106.7" transform="matrix(1 0.2941 0 1.3162 0 -128.77)" filter="url(#fh)"/><polygon points="593.0,105.5 608.7,105.3 608.3,133.6" transform="matrix(1 0.2941 0 1.3728 0 -134.78)" filter="url(#fh)"/><polygon points="593.7,104.9 609.0,133.1 593.3,133.2" transform="matrix(1 0.2822 0 1.3791 0 -128.36)" filter="url(#fh)"/><polygon points="593.1,131.8 608.7,131.8 608.2,178.7" transform="matrix(1 0.2822 0 1.0200 0 -80.77)" filter="url(#fh)"/><polygon points="593.8,131.4 608.9,178.3 593.3,178.3" transform="matrix(1 0.2822 0 1.0200 0 -80.77)" filter="url(#fh)"/><polygon points="593.1,176.9 608.7,176.9 608.2,223.8" transform="matrix(1 0.2822 0 1.0293 0 -82.43)" filter="url(#fm)"/><polygon points="593.8,176.5 608.9,223.4 593.3,223.4" transform="matrix(1 0.2674 0 1.0339 0 -74.47)" filter="url(#fm)"/><polygon points="593.1,222.0 608.7,222.0 608.1,276.8" transform="matrix(1 0.2674 0 1.0290 0 -73.37)" filter="url(#fm)"/><polygon points="593.9,221.6 608.9,276.3 593.3,276.3" transform="matrix(1 0.2507 0 1.0334 0 -64.42)" filter="url(#fm)"/><polygon points="607.2,-70.7 622.7,-70.7 622.1,35.1" transform="matrix(1 0.2198 0 1.0387 0 -75.18)" filter="url(#fh)"/><polygon points="607.9,-71.1 622.8,34.7 607.3,34.7" transform="matrix(1 0.2198 0 1.0387 0 -75.18)" filter="url(#fh)"/><polygon points="607.2,33.3 622.7,33.3 622.1,107.2" transform="matrix(1 0.2198 0 1.3450 0 -85.59)" filter="url(#fh)"/><polygon points="607.9,32.9 622.8,106.7 607.3,106.7" transform="matrix(1 0.2941 0 1.3306 0 -130.30)" filter="url(#fh)"/><polygon points="607.0,105.5 622.7,105.3 622.3,133.6" transform="matrix(1 0.2941 0 1.3665 0 -134.11)" filter="url(#fh)"/><polygon points="607.7,104.9 623.0,133.1 607.3,133.2" transform="matrix(1 0.2822 0 1.3728 0 -127.53)" filter="url(#fh)"/><polygon points="607.1,131.8 622.7,131.8 622.2,178.7" transform="matrix(1 0.2822 0 1.0200 0 -80.77)" filter="url(#fh)"/><polygon points="607.8,131.4 622.9,178.3 607.3,178.3" transform="matrix(1 0.2822 0 1.0200 0 -80.77)" filter="url(#fh)"/><polygon points="607.1,176.9 622.7,176.9 622.2,223.8" transform="matrix(1 0.2822 0 1.0248 0 -81.62)" filter="url(#fm)"/><polygon points="607.8,176.5 622.9,223.4 607.3,223.4" transform="matrix(1 0.2674 0 1.0293 0 -73.44)" filter="url(#fm)"/><polygon points="607.1,222.0 622.7,222.0 622.1,276.8" transform="matrix(1 0.2674 0 1.0246 0 -72.38)" filter="url(#fm)"/><polygon points="607.9,221.6 622.9,276.3 607.3,276.3" transform="matrix(1 0.2507 0 1.0290 0 -63.21)" filter="url(#fm)"/><polygon points="621.2,-70.7 637.2,-70.7 636.6,35.1" transform="matrix(1 0.2198 0 1.0387 0 -75.18)" filter="url(#fh)"/><polygon points="621.9,-71.1 637.3,34.7 621.3,34.7" transform="matrix(1 0.2198 0 1.0387 0 -75.18)" filter="url(#fh)"/><polygon points="621.1,33.3 637.2,33.3 636.6,107.2" transform="matrix(1 0.2198 0 1.3600 0 -86.10)" filter="url(#fh)"/><polygon points="621.9,32.9 637.4,106.7 621.3,106.7" transform="matrix(1 0.2941 0 1.3450 0 -131.83)" filter="url(#fh)"/><polygon points="621.0,105.5 637.2,105.3 636.8,133.6" transform="matrix(1 0.2941 0 1.3600 0 -133.42)" filter="url(#fh)"/><polygon points="621.7,105.0 637.5,133.1 621.3,133.2" transform="matrix(1 0.2822 0 1.3665 0 -126.69)" filter="url(#fh)"/><polygon points="621.1,131.8 637.2,131.8 636.7,178.7" transform="matrix(1 0.2822 0 1.0200 0 -80.77)" filter="url(#fh)"/><polygon points="621.8,131.4 637.4,178.3 621.3,178.3" transform="matrix(1 0.2822 0 1.0200 0 -80.77)" filter="url(#fh)"/><polygon points="621.1,176.9 637.2,176.9 636.7,223.8" transform="matrix(1 0.2822 0 1.0200 0 -80.77)" filter="url(#fm)"/><polygon points="621.8,176.5 637.4,223.4 621.3,223.4" transform="matrix(1 0.2674 0 1.0248 0 -72.42)" filter="url(#fm)"/><polygon points="621.1,222.0 637.2,222.0 636.6,276.8" transform="matrix(1 0.2674 0 1.0200 0 -71.36)" filter="url(#fm)"/><polygon points="621.9,221.6 637.4,276.3 621.3,276.3" transform="matrix(1 0.2507 0 1.0246 0 -61.99)" filter="url(#fm)"/></g></g><g clip-path="url(#cA)"><g clip-path="url(#cAL)"><g filter="url(#bl1)" fill="none" stroke-linejoin="round"><polyline points="55.0,235.0 100.0,232.5 150.0,230.0 200.0,227.5 250.0,226.0 290.0,227.0 323.0,229.0 330.0,229.3" stroke="#fff" stroke-width="3" stroke-opacity="0.85"/><polyline points="55.0,239.0 100.0,236.5 150.0,234.0 200.0,231.5 250.0,230.0 290.0,231.0 323.0,233.0 330.0,233.3" stroke="#000" stroke-width="3.2" stroke-opacity="0.85"/><polyline points="55.0,243.5 100.0,241.0 150.0,238.5 200.0,236.0 250.0,234.5 290.0,235.5 323.0,237.5 330.0,237.8" stroke="#fff" stroke-width="2.6" stroke-opacity="0.6"/><polyline points="55.0,247.0 100.0,244.5 150.0,242.0 200.0,239.5 250.0,238.0 290.0,239.0 323.0,241.0 330.0,241.3" stroke="#000" stroke-width="2.2" stroke-opacity="0.5"/><polyline points="55.0,250.5 100.0,248.0 150.0,245.5 200.0,243.0 250.0,241.5 290.0,242.5 323.0,244.5 330.0,244.8" stroke="#fff" stroke-width="3" stroke-opacity="0.8"/><polyline points="55.0,255.5 100.0,253.0 150.0,250.5 200.0,248.0 250.0,246.5 290.0,247.5 323.0,249.5 330.0,249.8" stroke="#000" stroke-width="3.4" stroke-opacity="0.85"/><polyline points="55.0,259.5 100.0,257.0 150.0,254.5 200.0,252.0 250.0,250.5 290.0,251.5 323.0,253.5 330.0,253.8" stroke="#fff" stroke-width="2.2" stroke-opacity="0.7"/><polyline points="55.0,263.5 100.0,261.0 150.0,258.5 200.0,256.0 250.0,254.5 290.0,255.5 323.0,257.5 330.0,257.8" stroke="#000" stroke-width="3" stroke-opacity="0.8"/></g></g><g clip-path="url(#cAR)"><g filter="url(#bl1)" fill="none" stroke-linejoin="round"><polyline points="352.0,122.2 354.8,122.3 379.0,124.2 390.0,128.9 457.2,146.9 496.2,158.6 535.3,171.1 573.6,182.0 636.5,200.5" stroke="#fff" stroke-width="2.8" stroke-opacity="0.85"/><polyline points="352.0,126.2 354.8,126.3 379.0,128.2 390.0,132.9 457.2,150.9 496.2,162.6 535.3,175.1 573.6,186.0 636.5,204.5" stroke="#000" stroke-width="3.2" stroke-opacity="0.85"/><polyline points="352.0,130.7 354.8,130.8 379.0,132.7 390.0,137.4 457.2,155.4 496.2,167.1 535.3,179.6 573.6,190.5 636.5,209.0" stroke="#fff" stroke-width="3" stroke-opacity="0.7"/><polyline points="352.0,135.2 354.8,135.3 379.0,137.2 390.0,141.9 457.2,159.9 496.2,171.6 535.3,184.1 573.6,195.0 636.5,213.5" stroke="#000" stroke-width="3" stroke-opacity="0.7"/><polyline points="352.0,140.2 354.8,140.3 379.0,142.2 390.0,146.9 457.2,164.9 496.2,176.6 535.3,189.1 573.6,200.0 636.5,218.5" stroke="#fff" stroke-width="3.2" stroke-opacity="0.85"/><polyline points="352.0,145.2 354.8,145.3 379.0,147.2 390.0,151.9 457.2,169.9 496.2,181.6 535.3,194.1 573.6,205.0 636.5,223.5" stroke="#000" stroke-width="3.4" stroke-opacity="0.85"/><polyline points="352.0,149.7 354.8,149.8 379.0,151.7 390.0,156.4 457.2,174.4 496.2,186.1 535.3,198.6 573.6,209.5 636.5,228.0" stroke="#fff" stroke-width="2.6" stroke-opacity="0.8"/><polyline points="352.0,154.2 354.8,154.3 379.0,156.2 390.0,160.9 457.2,178.9 496.2,190.6 535.3,203.1 573.6,214.0 636.5,232.5" stroke="#000" stroke-width="3" stroke-opacity="0.8"/><polyline points="352.0,159.2 354.8,159.3 379.0,161.2 390.0,165.9 457.2,183.9 496.2,195.6 535.3,208.1 573.6,219.0 636.5,237.5" stroke="#fff" stroke-width="3" stroke-opacity="0.7"/></g></g><g clip-path="url(#cA)"><g filter="url(#bl1)" fill="none" stroke-linejoin="round"><polyline points="55.0,365.0 89.0,367.0 128.0,369.0 159.0,367.0 183.0,364.4 214.0,364.0 245.0,360.5 263.0,358.5 277.0,360.0 300.0,356.0 325.0,349.5 340.0,344.2" stroke="#000" stroke-width="3" stroke-opacity="0.75"/><polyline points="55.0,369.5 89.0,371.5 128.0,373.5 159.0,371.5 183.0,368.9 214.0,368.5 245.0,365.0 263.0,363.0 277.0,364.5 300.0,360.5 325.0,354.0 340.0,348.7" stroke="#fff" stroke-width="3.6" stroke-opacity="0.85"/><polyline points="55.0,374.5 89.0,376.5 128.0,378.5 159.0,376.5 183.0,373.9 214.0,373.5 245.0,370.0 263.0,368.0 277.0,369.5 300.0,365.5 325.0,359.0 340.0,353.7" stroke="#000" stroke-width="2.6" stroke-opacity="0.5"/></g></g><g clip-path="url(#cA)"><g filter="url(#bl1)" fill="none" stroke-linejoin="round"><polyline points="400.0,317.2 419.0,316.2 448.0,312.8 475.0,307.0 495.0,303.0 515.0,306.4 529.0,312.5 539.0,318.2 556.0,320.0 572.0,320.6 636.5,324.0" stroke="#000" stroke-width="2.6" stroke-opacity="0.6"/><polyline points="400.0,321.7 419.0,320.7 448.0,317.3 475.0,311.5 495.0,307.5 515.0,310.9 529.0,317.0 539.0,322.7 556.0,324.5 572.0,325.1 636.5,328.5" stroke="#fff" stroke-width="3.4" stroke-opacity="0.8"/><polyline points="400.0,326.2 419.0,325.2 448.0,321.8 475.0,316.0 495.0,312.0 515.0,315.4 529.0,321.5 539.0,327.2 556.0,329.0 572.0,329.6 636.5,333.0" stroke="#000" stroke-width="2.4" stroke-opacity="0.45"/></g></g></g><g clip-path="url(#cA)"><polyline points="55.0,231.8 100.0,229.5 150.0,227.0 200.0,224.3 250.0,222.9 290.0,224.0 323.3,226.0" fill="none" stroke="#20a8f0" stroke-width="1.2" stroke-linejoin="round"/><polyline points="55.0,233.6 100.0,231.3 150.0,228.8 200.0,226.3 250.0,225.0 290.0,225.8 322.5,227.6" fill="none" stroke="#20e8c0" stroke-width="1.2" stroke-linejoin="round"/><polyline points="55.0,236.5 100.0,234.5 150.0,232.0 200.0,229.8 250.0,228.6 290.0,230.0 321.0,231.8" fill="none" stroke="#1010f0" stroke-width="1.2" stroke-linejoin="round"/><polyline points="55.0,249.0 75.0,249.3" fill="none" stroke="#f8a800" stroke-width="1.2" stroke-linejoin="round"/><polyline points="82.5,248.2 120.0,246.5 170.0,244.0 210.0,242.0 250.0,241.0 289.0,241.0" fill="none" stroke="#f8a800" stroke-width="1.2" stroke-linejoin="round"/><polyline points="55.0,254.2 100.0,252.0 150.0,249.5 200.0,246.8 250.0,244.8 290.0,245.3 322.0,246.9" fill="none" stroke="#10e810" stroke-width="1.2" stroke-linejoin="round"/><polyline points="55.0,260.4 100.0,258.5 150.0,256.5 200.0,254.8 240.0,254.2 266.0,255.2 292.0,257.3 314.0,260.0" fill="none" stroke="#f8a0f0" stroke-width="1.2" stroke-linejoin="round"/><polyline points="324.2,261.0 339.8,263.0 353.0,269.0 365.9,275.5" fill="none" stroke="#20a8f0" stroke-width="1.2" stroke-linejoin="round"/><polyline points="325.5,264.3 341.0,267.0 355.0,272.0 369.8,277.3" fill="none" stroke="#20e8c0" stroke-width="1.2" stroke-linejoin="round"/><polyline points="324.2,269.5 345.0,276.5 367.2,283.3" fill="none" stroke="#f01010" stroke-width="1.2" stroke-linejoin="round"/><polyline points="318.2,286.5 328.0,290.4 341.0,299.0 351.6,300.8 364.6,306.8" fill="none" stroke="#10e810" stroke-width="1.2" stroke-linejoin="round"/><polyline points="369.8,266.1 384.0,263.8" fill="none" stroke="#20a8f0" stroke-width="1.2" stroke-linejoin="round"/><polyline points="373.0,268.8 388.0,267.2" fill="none" stroke="#20e8c0" stroke-width="1.2" stroke-linejoin="round"/><polyline points="375.0,275.0 395.3,274.0" fill="none" stroke="#f01010" stroke-width="1.2" stroke-linejoin="round"/><polyline points="369.8,296.9 395.8,293.8 416.7,291.7" fill="none" stroke="#10e810" stroke-width="1.2" stroke-linejoin="round"/><polyline points="354.4,119.7 380.4,122.0" fill="none" stroke="#20a8f0" stroke-width="1.2" stroke-linejoin="round"/><polyline points="389.0,126.2 418.0,134.0 457.2,144.4 496.2,156.1 535.3,168.6 573.6,179.5" fill="none" stroke="#20a8f0" stroke-width="1.2" stroke-linejoin="round"/><polyline points="354.4,121.5 373.4,123.6" fill="none" stroke="#20e8c0" stroke-width="1.2" stroke-linejoin="round"/><polyline points="389.0,128.3 418.0,136.2 457.2,146.6 496.2,158.5 535.3,171.0 573.6,182.3" fill="none" stroke="#20e8c0" stroke-width="1.2" stroke-linejoin="round"/><polyline points="354.4,126.8 381.2,131.5 389.8,134.0 418.0,143.2 457.2,153.0 472.8,155.0 496.2,164.7 535.3,176.4 558.8,186.2 573.6,188.1" fill="none" stroke="#1010f0" stroke-width="1.2" stroke-linejoin="round"/><polyline points="360.4,143.0 383.0,148.3 418.0,158.8 457.2,169.4 474.8,171.7 496.2,178.4 519.7,188.1 535.3,196.7 558.8,202.6 573.6,204.9" fill="none" stroke="#f8a800" stroke-width="1.2" stroke-linejoin="round"/><polyline points="358.6,146.0 379.0,152.2 402.5,158.8" fill="none" stroke="#10e810" stroke-width="1.2" stroke-linejoin="round"/><polyline points="408.5,160.2 418.0,162.7 457.2,174.5 496.2,184.2 519.7,192.8 535.3,200.6 558.8,206.9 573.6,209.6" fill="none" stroke="#10e810" stroke-width="1.2" stroke-linejoin="round"/><polyline points="355.0,149.5 379.0,158.8 418.0,169.4 457.2,181.1 496.2,192.0 535.3,205.7 558.8,212.3 573.6,216.2" fill="none" stroke="#f8a0f0" stroke-width="1.2" stroke-linejoin="round"/><polyline points="57.8,366.2 89.0,368.1 128.0,370.0 159.4,368.1 182.8,365.4 214.0,365.0 245.3,361.5 262.9,359.5 276.6,361.0 300.0,357.2 325.4,350.5" fill="none" stroke="#f0f000" stroke-width="1.7" stroke-linejoin="round" stroke-dasharray="1.7 2.7"/><polyline points="346.9,342.7 369.8,340.4" fill="none" stroke="#f0f000" stroke-width="1.7" stroke-linejoin="round" stroke-dasharray="1.7 2.7"/><polyline points="376.8,321.0 393.8,318.5" fill="none" stroke="#f0f000" stroke-width="1.7" stroke-linejoin="round" stroke-dasharray="1.7 2.7"/><polyline points="419.3,317.2 447.7,314.2 474.8,308.0 495.0,304.0 515.4,307.4 529.0,313.5 539.0,319.2 556.0,321.0 572.3,321.6" fill="none" stroke="#f0f000" stroke-width="1.7" stroke-linejoin="round" stroke-dasharray="1.7 2.7"/><polyline points="332.2,29.0 342.9,90.3 350.7,134.6 356.0,170.0 361.9,200.0 366.8,215.1 375.4,245.6 396.2,269.0 421.3,289.8 456.2,302.3 491.7,305.7 515.4,310.8 546.6,313.5" fill="none" stroke="#9400d0" stroke-width="2.8" stroke-linejoin="round"/><rect x="340.8" y="88.2" width="4.2" height="4.2" fill="#9400d0"/><rect x="348.6" y="132.5" width="4.2" height="4.2" fill="#9400d0"/><rect x="364.7" y="213.0" width="4.2" height="4.2" fill="#9400d0"/><rect x="373.3" y="243.5" width="4.2" height="4.2" fill="#9400d0"/><rect x="394.1" y="266.9" width="4.2" height="4.2" fill="#9400d0"/><rect x="419.2" y="287.7" width="4.2" height="4.2" fill="#9400d0"/><rect x="454.1" y="300.2" width="4.2" height="4.2" fill="#9400d0"/><rect x="544.5" y="311.4" width="4.2" height="4.2" fill="#9400d0"/><polyline points="394.2,29.0 391.6,96.0 386.1,147.0 381.0,215.5 377.2,236.5" fill="none" stroke="#d09000" stroke-width="2.4" stroke-linejoin="round"/><rect x="389.5" y="93.9" width="4.2" height="4.2" fill="#d09000"/><rect x="384.0" y="144.9" width="4.2" height="4.2" fill="#d09000"/><rect x="378.9" y="213.4" width="4.2" height="4.2" fill="#d09000"/><rect x="375.1" y="234.4" width="4.2" height="4.2" fill="#d09000"/><polyline points="331.0,112.4 330.4,138.5 328.5,200.0 326.7,226.6 324.6,246.9 322.8,255.2 316.6,270.3 311.2,287.8 303.4,309.4 285.7,324.7 265.6,340.6" fill="none" stroke="#000" stroke-width="2.0" stroke-linejoin="round" stroke-dasharray="11 4"/><rect x="328.9" y="110.3" width="4.2" height="4.2" fill="#000"/><rect x="328.3" y="136.4" width="4.2" height="4.2" fill="#000"/><rect x="324.6" y="224.5" width="4.2" height="4.2" fill="#000"/><rect x="320.7" y="253.1" width="4.2" height="4.2" fill="#000"/><rect x="314.5" y="268.2" width="4.2" height="4.2" fill="#000"/><rect x="309.1" y="285.7" width="4.2" height="4.2" fill="#000"/><rect x="301.3" y="307.3" width="4.2" height="4.2" fill="#000"/><rect x="283.6" y="322.6" width="4.2" height="4.2" fill="#000"/><rect x="263.5" y="338.5" width="4.2" height="4.2" fill="#000"/><line x1="361.1" y1="29" x2="361.1" y2="122.5" stroke="#1010f0" stroke-width="2.2"/><text x="316.4" y="44.3" font-size="14.3" fill="#1818f0" textLength="88.6" lengthAdjust="spacingAndGlyphs">MINWAL X-01</text></g><rect x="56" y="348.5" width="144" height="106.8" fill="none" stroke="#000" stroke-width="1.4"/><line x1="115.6" y1="348.5" x2="190.6" y2="455" stroke="#000" stroke-width="0.9"/><g stroke="#f02020" stroke-width="1" fill="none"><circle cx="70.2" cy="374.4" r="12"/><path d="M56.7 374.4H83.7M70.2 349.4V390.4" stroke-width="0.9"/><path d="M66.0 380.4V368.4L74.4 380.4V368.4" stroke-width="1"/><path d="M70.2 348.9l-1.6 5.5q1.6 -1.2 3.2 0z" fill="#f02020" stroke-width="0.5"/><path d="M68.2 357.9h4" stroke-width="0.9"/></g><circle cx="150.4" cy="396.3" r="2.6" fill="#1818f0"/><text x="115.0" y="411.5" font-size="11" fill="#1818f0" textLength="69.4" lengthAdjust="spacingAndGlyphs">MINWAL X-01</text><g stroke="#f02020" stroke-width="0.9" fill="none"><circle cx="134.4" cy="411.5" r="3.2"/><path d="M129.70000000000002 411.5H139.1M134.4 406.8V416.2"/></g><text x="97.5" y="426.5" font-size="11" fill="#e02020" textLength="73.8" lengthAdjust="spacingAndGlyphs">JOYA MAIR-04</text><rect x="231" y="424.4" width="268" height="8.0" fill="#1818f0"/><rect x="242.5" y="425.3" width="10.0" height="6.2" fill="#fff"/><rect x="263.5" y="425.3" width="10.5" height="6.2" fill="#fff"/><rect x="285" y="425.3" width="52.5" height="6.2" fill="#fff"/><rect x="391.5" y="425.3" width="52.5" height="6.2" fill="#fff"/><text x="231.0" y="418.9" font-size="8.6" fill="#1818f0" text-anchor="middle" font-weight="bold" font-style="italic">0</text><text x="285.0" y="418.9" font-size="8.6" fill="#1818f0" text-anchor="middle" font-weight="bold" font-style="italic">1000</text><text x="338.0" y="418.9" font-size="8.6" fill="#1818f0" text-anchor="middle" font-weight="bold" font-style="italic">2000</text><text x="392.0" y="418.9" font-size="8.6" fill="#1818f0" text-anchor="middle" font-weight="bold" font-style="italic">3000</text><text x="445.0" y="418.9" font-size="8.6" fill="#1818f0" text-anchor="middle" font-weight="bold" font-style="italic">4000</text><text x="501.0" y="418.9" font-size="8.6" fill="#1818f0" text-anchor="middle" font-weight="bold" font-style="italic">5000m</text><text x="364.0" y="445.6" font-size="8.6" fill="#1818f0" text-anchor="middle" font-weight="bold" font-style="italic">1:50000</text><rect x="53.3" y="31.3" width="244.5" height="15.7" fill="#fff" stroke="#000" stroke-width="1"/><text x="56.8" y="40.3" font-size="9.9" fill="#1818f0" font-weight="bold" textLength="227.5" lengthAdjust="spacingAndGlyphs">INTERPRETED SEISMIC TIME SECTION @ 93-MN-08</text><rect x="56" y="52.3" width="94" height="158.7" fill="#fff" stroke="#444" stroke-width="0.8"/><text x="103.5" y="63.3" font-size="9.6" fill="#111" text-anchor="middle" font-weight="bold" textLength="75.0" lengthAdjust="spacingAndGlyphs">Seismic (default)</text><rect x="68" y="70" width="18.700000000000003" height="135" fill="url(#cb)" stroke="#222" stroke-width="0.8"/><text x="91.7" y="90.5" font-size="10.3" fill="#222" textLength="17.3" lengthAdjust="spacingAndGlyphs">7.50</text><text x="91.7" y="107.3" font-size="10.3" fill="#222" textLength="17.3" lengthAdjust="spacingAndGlyphs">5.00</text><text x="91.7" y="124.0" font-size="10.3" fill="#222" textLength="17.3" lengthAdjust="spacingAndGlyphs">2.50</text><text x="91.7" y="140.7" font-size="10.3" fill="#222" textLength="17.3" lengthAdjust="spacingAndGlyphs">0.00</text><text x="91.7" y="157.4" font-size="10.3" fill="#222" textLength="20.3" lengthAdjust="spacingAndGlyphs">-2.50</text><text x="91.7" y="174.2" font-size="10.3" fill="#222" textLength="20.3" lengthAdjust="spacingAndGlyphs">-5.00</text><text x="91.7" y="190.9" font-size="10.3" fill="#222" textLength="20.3" lengthAdjust="spacingAndGlyphs">-7.50</text><text x="91.7" y="207.6" font-size="10.3" fill="#222" textLength="25.2" lengthAdjust="spacingAndGlyphs">-10.00</text><path d="M86.7 87.0h2.5M86.7 103.7h2.5M86.7 120.4h2.5M86.7 137.2h2.5M86.7 153.9h2.5M86.7 170.6h2.5M86.7 187.3h2.5M86.7 204.0h2.5" stroke="#222" stroke-width="1"/><rect x="573.6" y="126.4" width="164.39999999999998" height="331.6" fill="#fff" stroke="#000" stroke-width="1.6"/><text x="655.8" y="135.3" font-size="9.83" fill="#111" text-anchor="middle" font-weight="bold" textLength="72.0" lengthAdjust="spacingAndGlyphs">Symbol legend</text><g clip-path="url(#cLA)"><line x1="579" y1="150.6" x2="596.5" y2="150.6" stroke="#1010f0" stroke-width="1.4"/><text x="600.0" y="154.1" font-size="9.83" fill="#111" font-weight="bold">MINWAL X-01</text><line x1="579" y1="171.7" x2="596.5" y2="171.7" stroke="#20a8f0" stroke-width="1.4"/><text x="600.0" y="175.2" font-size="9.83" fill="#111" font-weight="bold" textLength="164.2" lengthAdjust="spacingAndGlyphs">CHORGALI-D: MINWAL-JOYAMAIR</text><line x1="579" y1="192.9" x2="596.5" y2="192.9" stroke="#20e8c0" stroke-width="1.4"/><text x="600.0" y="196.4" font-size="9.83" fill="#111" font-weight="bold" textLength="157.8" lengthAdjust="spacingAndGlyphs">SAKESAR-D: MINWAL-JOYAMAIR</text><line x1="579" y1="214.0" x2="596.5" y2="214.0" stroke="#f01010" stroke-width="1.4"/><text x="600.0" y="217.5" font-size="9.83" fill="#111" font-weight="bold" textLength="164.1" lengthAdjust="spacingAndGlyphs">LOCKHART-D: MINWAL-JOYAMAIR</text><line x1="579" y1="235.2" x2="596.5" y2="235.2" stroke="#10e810" stroke-width="1.4"/><text x="600.0" y="238.6" font-size="9.83" fill="#111" font-weight="bold" textLength="144.8" lengthAdjust="spacingAndGlyphs">TOBRA-D: MINWAL-JOYAMAIR</text><line x1="579" y1="256.3" x2="596.5" y2="256.3" stroke="#20a8f0" stroke-width="1.4"/><text x="600.0" y="259.8" font-size="9.83" fill="#111" font-weight="bold" textLength="164.2" lengthAdjust="spacingAndGlyphs">CHORGALI-U: MINWAL-JOYAMAIR</text><line x1="579" y1="277.4" x2="596.5" y2="277.4" stroke="#20e8c0" stroke-width="1.4"/><text x="600.0" y="280.9" font-size="9.83" fill="#111" font-weight="bold" textLength="157.8" lengthAdjust="spacingAndGlyphs">SAKESAR-U: MINWAL-JOYAMAIR</text><line x1="579" y1="298.6" x2="596.5" y2="298.6" stroke="#1010f0" stroke-width="1.4"/><text x="600.0" y="302.1" font-size="9.83" fill="#111" font-weight="bold" textLength="164.1" lengthAdjust="spacingAndGlyphs">LOCKHART-U: MINWAL-JOYAMAIR</text><line x1="579" y1="319.7" x2="596.5" y2="319.7" stroke="#f8a800" stroke-width="1.4"/><text x="600.0" y="323.2" font-size="9.83" fill="#111" font-weight="bold" textLength="144.8" lengthAdjust="spacingAndGlyphs">TOBRA-U: MINWAL-JOYAMAIR</text><line x1="579" y1="340.9" x2="596.5" y2="340.9" stroke="#10e810" stroke-width="1.4"/><text x="600.0" y="344.3" font-size="9.83" fill="#111" font-weight="bold" textLength="153.9" lengthAdjust="spacingAndGlyphs">KHEWRA-U: MINWAL-JOYAMAIR</text><line x1="579" y1="362.0" x2="596.5" y2="362.0" stroke="#f8a0f0" stroke-width="1.4"/><text x="600.0" y="365.5" font-size="9.83" fill="#111" font-weight="bold" textLength="172.8" lengthAdjust="spacingAndGlyphs">SALT RANGE-U: MINWAL-JOYAMAIR</text><line x1="579" y1="383.1" x2="596.5" y2="383.1" stroke="#9400d0" stroke-width="1.4"/><text x="600.0" y="386.6" font-size="9.83" fill="#111" font-weight="bold" textLength="104.5" lengthAdjust="spacingAndGlyphs">Fault interpretation 1</text><line x1="579" y1="404.3" x2="596.5" y2="404.3" stroke="#d09000" stroke-width="1.4"/><text x="600.0" y="407.8" font-size="9.83" fill="#111" font-weight="bold" textLength="104.5" lengthAdjust="spacingAndGlyphs">Fault interpretation 7</text><line x1="579" y1="425.4" x2="596.5" y2="425.4" stroke="#000" stroke-width="1.4" stroke-dasharray="10.5 3 4 3"/><text x="600.0" y="428.9" font-size="9.83" fill="#111" font-weight="bold" textLength="10.5" lengthAdjust="spacingAndGlyphs">F2</text><line x1="579" y1="446.6" x2="596.5" y2="446.6" stroke="#f0f000" stroke-width="1.4"/><text x="600.0" y="450.0" font-size="9.83" fill="#111" font-weight="bold" textLength="153.4" lengthAdjust="spacingAndGlyphs">BASEMENT: MINWAL-JOYAMAIR</text></g><text x="55.0" y="22.8" font-size="10.3" fill="#222" text-anchor="middle" textLength="4.8" lengthAdjust="spacingAndGlyphs">0</text><text x="55.0" y="474.5" font-size="10.3" fill="#222" text-anchor="middle" textLength="4.8" lengthAdjust="spacingAndGlyphs">0</text><text x="108.4" y="22.8" font-size="10.3" fill="#222" text-anchor="middle" textLength="19.2" lengthAdjust="spacingAndGlyphs">1000</text><text x="108.4" y="474.5" font-size="10.3" fill="#222" text-anchor="middle" textLength="19.2" lengthAdjust="spacingAndGlyphs">1000</text><text x="161.7" y="22.8" font-size="10.3" fill="#222" text-anchor="middle" textLength="19.2" lengthAdjust="spacingAndGlyphs">2000</text><text x="161.7" y="474.5" font-size="10.3" fill="#222" text-anchor="middle" textLength="19.2" lengthAdjust="spacingAndGlyphs">2000</text><text x="215.1" y="22.8" font-size="10.3" fill="#222" text-anchor="middle" textLength="19.2" lengthAdjust="spacingAndGlyphs">3000</text><text x="215.1" y="474.5" font-size="10.3" fill="#222" text-anchor="middle" textLength="19.2" lengthAdjust="spacingAndGlyphs">3000</text><text x="268.5" y="22.8" font-size="10.3" fill="#222" text-anchor="middle" textLength="19.2" lengthAdjust="spacingAndGlyphs">4000</text><text x="268.5" y="474.5" font-size="10.3" fill="#222" text-anchor="middle" textLength="19.2" lengthAdjust="spacingAndGlyphs">4000</text><text x="321.9" y="22.8" font-size="10.3" fill="#222" text-anchor="middle" textLength="19.2" lengthAdjust="spacingAndGlyphs">5000</text><text x="321.9" y="474.5" font-size="10.3" fill="#222" text-anchor="middle" textLength="19.2" lengthAdjust="spacingAndGlyphs">5000</text><text x="375.2" y="22.8" font-size="10.3" fill="#222" text-anchor="middle" textLength="19.2" lengthAdjust="spacingAndGlyphs">6000</text><text x="375.2" y="474.5" font-size="10.3" fill="#222" text-anchor="middle" textLength="19.2" lengthAdjust="spacingAndGlyphs">6000</text><text x="428.6" y="22.8" font-size="10.3" fill="#222" text-anchor="middle" textLength="19.2" lengthAdjust="spacingAndGlyphs">7000</text><text x="428.6" y="474.5" font-size="10.3" fill="#222" text-anchor="middle" textLength="19.2" lengthAdjust="spacingAndGlyphs">7000</text><text x="482.0" y="22.8" font-size="10.3" fill="#222" text-anchor="middle" textLength="19.2" lengthAdjust="spacingAndGlyphs">8000</text><text x="482.0" y="474.5" font-size="10.3" fill="#222" text-anchor="middle" textLength="19.2" lengthAdjust="spacingAndGlyphs">8000</text><text x="535.3" y="22.8" font-size="10.3" fill="#222" text-anchor="middle" textLength="19.2" lengthAdjust="spacingAndGlyphs">9000</text><text x="535.3" y="474.5" font-size="10.3" fill="#222" text-anchor="middle" textLength="19.2" lengthAdjust="spacingAndGlyphs">9000</text><text x="588.7" y="22.8" font-size="10.3" fill="#222" text-anchor="middle" textLength="24.0" lengthAdjust="spacingAndGlyphs">10000</text><text x="588.7" y="474.5" font-size="10.3" fill="#222" text-anchor="middle" textLength="24.0" lengthAdjust="spacingAndGlyphs">10000</text><text x="642.1" y="22.8" font-size="10.3" fill="#222" text-anchor="middle" textLength="24.0" lengthAdjust="spacingAndGlyphs">11000</text><text x="642.1" y="474.5" font-size="10.3" fill="#222" text-anchor="middle" textLength="24.0" lengthAdjust="spacingAndGlyphs">11000</text><text x="695.4" y="22.8" font-size="10.3" fill="#222" text-anchor="middle" textLength="24.0" lengthAdjust="spacingAndGlyphs">12000</text><text x="695.4" y="474.5" font-size="10.3" fill="#222" text-anchor="middle" textLength="24.0" lengthAdjust="spacingAndGlyphs">12000</text><text x="44.1" y="61.0" font-size="10.3" fill="#222" text-anchor="middle" textLength="15.8" lengthAdjust="spacingAndGlyphs" transform="rotate(-90 44.1 61.0)">-800</text><text x="745.0" y="61.0" font-size="10.3" fill="#222" text-anchor="middle" textLength="15.8" lengthAdjust="spacingAndGlyphs" transform="rotate(90 745.0 61.0)">-800</text><text x="44.1" y="120.1" font-size="10.3" fill="#222" text-anchor="middle" textLength="20.2" lengthAdjust="spacingAndGlyphs" transform="rotate(-90 44.1 120.1)">-1200</text><text x="745.0" y="120.1" font-size="10.3" fill="#222" text-anchor="middle" textLength="20.2" lengthAdjust="spacingAndGlyphs" transform="rotate(90 745.0 120.1)">-1200</text><text x="44.1" y="179.2" font-size="10.3" fill="#222" text-anchor="middle" textLength="20.2" lengthAdjust="spacingAndGlyphs" transform="rotate(-90 44.1 179.2)">-1600</text><text x="745.0" y="179.2" font-size="10.3" fill="#222" text-anchor="middle" textLength="20.2" lengthAdjust="spacingAndGlyphs" transform="rotate(90 745.0 179.2)">-1600</text><text x="44.1" y="238.3" font-size="10.3" fill="#222" text-anchor="middle" textLength="20.2" lengthAdjust="spacingAndGlyphs" transform="rotate(-90 44.1 238.3)">-2000</text><text x="745.0" y="238.3" font-size="10.3" fill="#222" text-anchor="middle" textLength="20.2" lengthAdjust="spacingAndGlyphs" transform="rotate(90 745.0 238.3)">-2000</text><text x="44.1" y="297.4" font-size="10.3" fill="#222" text-anchor="middle" textLength="20.2" lengthAdjust="spacingAndGlyphs" transform="rotate(-90 44.1 297.4)">-2400</text><text x="745.0" y="297.4" font-size="10.3" fill="#222" text-anchor="middle" textLength="20.2" lengthAdjust="spacingAndGlyphs" transform="rotate(90 745.0 297.4)">-2400</text><text x="44.1" y="356.5" font-size="10.3" fill="#222" text-anchor="middle" textLength="20.2" lengthAdjust="spacingAndGlyphs" transform="rotate(-90 44.1 356.5)">-2800</text><text x="745.0" y="356.5" font-size="10.3" fill="#222" text-anchor="middle" textLength="20.2" lengthAdjust="spacingAndGlyphs" transform="rotate(90 745.0 356.5)">-2800</text><text x="44.1" y="415.6" font-size="10.3" fill="#222" text-anchor="middle" textLength="20.2" lengthAdjust="spacingAndGlyphs" transform="rotate(-90 44.1 415.6)">-3200</text><text x="745.0" y="415.6" font-size="10.3" fill="#222" text-anchor="middle" textLength="20.2" lengthAdjust="spacingAndGlyphs" transform="rotate(90 745.0 415.6)">-3200</text><path d="M55.00 28.7v-3.4M55.00 459.3v3.4M60.34 28.7v-1.7M60.34 459.3v1.7M65.67 28.7v-1.7M65.67 459.3v1.7M71.01 28.7v-1.7M71.01 459.3v1.7M76.35 28.7v-1.7M76.35 459.3v1.7M81.69 28.7v-2.6M81.69 459.3v2.6M87.02 28.7v-1.7M87.02 459.3v1.7M92.36 28.7v-1.7M92.36 459.3v1.7M97.70 28.7v-1.7M97.70 459.3v1.7M103.03 28.7v-1.7M103.03 459.3v1.7M108.37 28.7v-3.4M108.37 459.3v3.4M113.71 28.7v-1.7M113.71 459.3v1.7M119.04 28.7v-1.7M119.04 459.3v1.7M124.38 28.7v-1.7M124.38 459.3v1.7M129.72 28.7v-1.7M129.72 459.3v1.7M135.06 28.7v-2.6M135.06 459.3v2.6M140.39 28.7v-1.7M140.39 459.3v1.7M145.73 28.7v-1.7M145.73 459.3v1.7M151.07 28.7v-1.7M151.07 459.3v1.7M156.40 28.7v-1.7M156.40 459.3v1.7M161.74 28.7v-3.4M161.74 459.3v3.4M167.08 28.7v-1.7M167.08 459.3v1.7M172.41 28.7v-1.7M172.41 459.3v1.7M177.75 28.7v-1.7M177.75 459.3v1.7M183.09 28.7v-1.7M183.09 459.3v1.7M188.43 28.7v-2.6M188.43 459.3v2.6M193.76 28.7v-1.7M193.76 459.3v1.7M199.10 28.7v-1.7M199.10 459.3v1.7M204.44 28.7v-1.7M204.44 459.3v1.7M209.77 28.7v-1.7M209.77 459.3v1.7M215.11 28.7v-3.4M215.11 459.3v3.4M220.45 28.7v-1.7M220.45 459.3v1.7M225.78 28.7v-1.7M225.78 459.3v1.7M231.12 28.7v-1.7M231.12 459.3v1.7M236.46 28.7v-1.7M236.46 459.3v1.7M241.80 28.7v-2.6M241.80 459.3v2.6M247.13 28.7v-1.7M247.13 459.3v1.7M252.47 28.7v-1.7M252.47 459.3v1.7M257.81 28.7v-1.7M257.81 459.3v1.7M263.14 28.7v-1.7M263.14 459.3v1.7M268.48 28.7v-3.4M268.48 459.3v3.4M273.82 28.7v-1.7M273.82 459.3v1.7M279.15 28.7v-1.7M279.15 459.3v1.7M284.49 28.7v-1.7M284.49 459.3v1.7M289.83 28.7v-1.7M289.83 459.3v1.7M295.16 28.7v-2.6M295.16 459.3v2.6M300.50 28.7v-1.7M300.50 459.3v1.7M305.84 28.7v-1.7M305.84 459.3v1.7M311.18 28.7v-1.7M311.18 459.3v1.7M316.51 28.7v-1.7M316.51 459.3v1.7M321.85 28.7v-3.4M321.85 459.3v3.4M327.19 28.7v-1.7M327.19 459.3v1.7M332.52 28.7v-1.7M332.52 459.3v1.7M337.86 28.7v-1.7M337.86 459.3v1.7M343.20 28.7v-1.7M343.20 459.3v1.7M348.54 28.7v-2.6M348.54 459.3v2.6M353.87 28.7v-1.7M353.87 459.3v1.7M359.21 28.7v-1.7M359.21 459.3v1.7M364.55 28.7v-1.7M364.55 459.3v1.7M369.88 28.7v-1.7M369.88 459.3v1.7M375.22 28.7v-3.4M375.22 459.3v3.4M380.56 28.7v-1.7M380.56 459.3v1.7M385.89 28.7v-1.7M385.89 459.3v1.7M391.23 28.7v-1.7M391.23 459.3v1.7M396.57 28.7v-1.7M396.57 459.3v1.7M401.91 28.7v-2.6M401.91 459.3v2.6M407.24 28.7v-1.7M407.24 459.3v1.7M412.58 28.7v-1.7M412.58 459.3v1.7M417.92 28.7v-1.7M417.92 459.3v1.7M423.25 28.7v-1.7M423.25 459.3v1.7M428.59 28.7v-3.4M428.59 459.3v3.4M433.93 28.7v-1.7M433.93 459.3v1.7M439.26 28.7v-1.7M439.26 459.3v1.7M444.60 28.7v-1.7M444.60 459.3v1.7M449.94 28.7v-1.7M449.94 459.3v1.7M455.28 28.7v-2.6M455.28 459.3v2.6M460.61 28.7v-1.7M460.61 459.3v1.7M465.95 28.7v-1.7M465.95 459.3v1.7M471.29 28.7v-1.7M471.29 459.3v1.7M476.62 28.7v-1.7M476.62 459.3v1.7M481.96 28.7v-3.4M481.96 459.3v3.4M487.30 28.7v-1.7M487.30 459.3v1.7M492.63 28.7v-1.7M492.63 459.3v1.7M497.97 28.7v-1.7M497.97 459.3v1.7M503.31 28.7v-1.7M503.31 459.3v1.7M508.64 28.7v-2.6M508.64 459.3v2.6M513.98 28.7v-1.7M513.98 459.3v1.7M519.32 28.7v-1.7M519.32 459.3v1.7M524.66 28.7v-1.7M524.66 459.3v1.7M529.99 28.7v-1.7M529.99 459.3v1.7M535.33 28.7v-3.4M535.33 459.3v3.4M540.67 28.7v-1.7M540.67 459.3v1.7M546.00 28.7v-1.7M546.00 459.3v1.7M551.34 28.7v-1.7M551.34 459.3v1.7M556.68 28.7v-1.7M556.68 459.3v1.7M562.01 28.7v-2.6M562.01 459.3v2.6M567.35 28.7v-1.7M567.35 459.3v1.7M572.69 28.7v-1.7M572.69 459.3v1.7M578.03 28.7v-1.7M578.03 459.3v1.7M583.36 28.7v-1.7M583.36 459.3v1.7M588.70 28.7v-3.4M588.70 459.3v3.4M594.04 28.7v-1.7M594.04 459.3v1.7M599.37 28.7v-1.7M599.37 459.3v1.7M604.71 28.7v-1.7M604.71 459.3v1.7M610.05 28.7v-1.7M610.05 459.3v1.7M615.38 28.7v-2.6M615.38 459.3v2.6M620.72 28.7v-1.7M620.72 459.3v1.7M626.06 28.7v-1.7M626.06 459.3v1.7M631.40 28.7v-1.7M631.40 459.3v1.7M636.73 28.7v-1.7M636.73 459.3v1.7M642.07 28.7v-3.4M642.07 459.3v3.4M647.41 28.7v-1.7M647.41 459.3v1.7M652.74 28.7v-1.7M652.74 459.3v1.7M658.08 28.7v-1.7M658.08 459.3v1.7M663.42 28.7v-1.7M663.42 459.3v1.7M668.75 28.7v-2.6M668.75 459.3v2.6M674.09 28.7v-1.7M674.09 459.3v1.7M679.43 28.7v-1.7M679.43 459.3v1.7M684.77 28.7v-1.7M684.77 459.3v1.7M690.10 28.7v-1.7M690.10 459.3v1.7M695.44 28.7v-3.4M695.44 459.3v3.4M700.78 28.7v-1.7M700.78 459.3v1.7M706.11 28.7v-1.7M706.11 459.3v1.7M711.45 28.7v-1.7M711.45 459.3v1.7M716.79 28.7v-1.7M716.79 459.3v1.7M722.12 28.7v-2.6M722.12 459.3v2.6M727.46 28.7v-1.7M727.46 459.3v1.7M732.80 28.7v-1.7M732.80 459.3v1.7M738.14 28.7v-1.7M738.14 459.3v1.7M52.0 31.45h-2.8M739.0 31.45h2.8M52.0 37.36h-1.7M739.0 37.36h1.7M52.0 43.27h-1.7M739.0 43.27h1.7M52.0 49.18h-1.7M739.0 49.18h1.7M52.0 55.09h-1.7M739.0 55.09h1.7M52.0 61.00h-3.6M739.0 61.00h3.6M52.0 66.91h-1.7M739.0 66.91h1.7M52.0 72.82h-1.7M739.0 72.82h1.7M52.0 78.73h-1.7M739.0 78.73h1.7M52.0 84.64h-1.7M739.0 84.64h1.7M52.0 90.55h-2.8M739.0 90.55h2.8M52.0 96.46h-1.7M739.0 96.46h1.7M52.0 102.37h-1.7M739.0 102.37h1.7M52.0 108.28h-1.7M739.0 108.28h1.7M52.0 114.19h-1.7M739.0 114.19h1.7M52.0 120.10h-3.6M739.0 120.10h3.6M52.0 126.01h-1.7M739.0 126.01h1.7M52.0 131.92h-1.7M739.0 131.92h1.7M52.0 137.83h-1.7M739.0 137.83h1.7M52.0 143.74h-1.7M739.0 143.74h1.7M52.0 149.65h-2.8M739.0 149.65h2.8M52.0 155.56h-1.7M739.0 155.56h1.7M52.0 161.47h-1.7M739.0 161.47h1.7M52.0 167.38h-1.7M739.0 167.38h1.7M52.0 173.29h-1.7M739.0 173.29h1.7M52.0 179.20h-3.6M739.0 179.20h3.6M52.0 185.11h-1.7M739.0 185.11h1.7M52.0 191.02h-1.7M739.0 191.02h1.7M52.0 196.93h-1.7M739.0 196.93h1.7M52.0 202.84h-1.7M739.0 202.84h1.7M52.0 208.75h-2.8M739.0 208.75h2.8M52.0 214.66h-1.7M739.0 214.66h1.7M52.0 220.57h-1.7M739.0 220.57h1.7M52.0 226.48h-1.7M739.0 226.48h1.7M52.0 232.39h-1.7M739.0 232.39h1.7M52.0 238.30h-3.6M739.0 238.30h3.6M52.0 244.21h-1.7M739.0 244.21h1.7M52.0 250.12h-1.7M739.0 250.12h1.7M52.0 256.03h-1.7M739.0 256.03h1.7M52.0 261.94h-1.7M739.0 261.94h1.7M52.0 267.85h-2.8M739.0 267.85h2.8M52.0 273.76h-1.7M739.0 273.76h1.7M52.0 279.67h-1.7M739.0 279.67h1.7M52.0 285.58h-1.7M739.0 285.58h1.7M52.0 291.49h-1.7M739.0 291.49h1.7M52.0 297.40h-3.6M739.0 297.40h3.6M52.0 303.31h-1.7M739.0 303.31h1.7M52.0 309.22h-1.7M739.0 309.22h1.7M52.0 315.13h-1.7M739.0 315.13h1.7M52.0 321.04h-1.7M739.0 321.04h1.7M52.0 326.95h-2.8M739.0 326.95h2.8M52.0 332.86h-1.7M739.0 332.86h1.7M52.0 338.77h-1.7M739.0 338.77h1.7M52.0 344.68h-1.7M739.0 344.68h1.7M52.0 350.59h-1.7M739.0 350.59h1.7M52.0 356.50h-3.6M739.0 356.50h3.6M52.0 362.41h-1.7M739.0 362.41h1.7M52.0 368.32h-1.7M739.0 368.32h1.7M52.0 374.23h-1.7M739.0 374.23h1.7M52.0 380.14h-1.7M739.0 380.14h1.7M52.0 386.05h-2.8M739.0 386.05h2.8M52.0 391.96h-1.7M739.0 391.96h1.7M52.0 397.87h-1.7M739.0 397.87h1.7M52.0 403.78h-1.7M739.0 403.78h1.7M52.0 409.69h-1.7M739.0 409.69h1.7M52.0 415.60h-3.6M739.0 415.60h3.6M52.0 421.51h-1.7M739.0 421.51h1.7M52.0 427.42h-1.7M739.0 427.42h1.7M52.0 433.33h-1.7M739.0 433.33h1.7M52.0 439.24h-1.7M739.0 439.24h1.7M52.0 445.15h-2.8M739.0 445.15h2.8M52.0 451.06h-1.7M739.0 451.06h1.7M52.0 456.97h-1.7M739.0 456.97h1.7" stroke="#222" stroke-width="1" fill="none"/><rect x="52" y="28.7" width="687" height="430.6" fill="none" stroke="#f04444" stroke-width="1"/><text x="31.5" y="241.7" font-size="11.5" fill="#111" text-anchor="middle" font-weight="bold" font-style="italic" textLength="39.0" lengthAdjust="spacingAndGlyphs" transform="rotate(-90 31.5 241.7)">Y, [ms]</text><rect x="11.5" y="1.6" width="747.5" height="475.6" fill="none" stroke="#000" stroke-width="1.5"/><text x="367" y="498" font-size="21" fill="#111" style="font-family:'Liberation Serif',serif">(a)</text><rect x="178.6" y="549" width="375.7" height="439.5" fill="#8a8a8a"/><g clip-path="url(#cB)"><g clip-path="url(#cBR)"><polygon points="177.8,479.3 193.3,479.3 192.7,569.4" transform="matrix(1 0.0383 0 1.0212 0 -27.02)" filter="url(#fl)"/><polygon points="178.5,478.9 193.4,568.9 177.9,568.9" transform="matrix(1 0.0459 0 1.0200 0 -27.80)" filter="url(#fl)"/><polygon points="177.8,567.5 193.3,567.5 192.7,655.7" transform="matrix(1 0.0459 0 1.0411 0 -39.78)" filter="url(#fl)"/><polygon points="178.5,567.1 193.4,655.3 177.9,655.3" transform="matrix(1 0.0383 0 1.0423 0 -39.12)" filter="url(#fl)"/><polygon points="177.7,654.0 193.3,653.9 192.8,688.0" transform="matrix(1 0.0383 0 1.4478 0 -304.51)" filter="url(#fm)"/><polygon points="178.4,653.5 193.5,687.5 177.9,687.6" transform="matrix(1 0.0268 0 1.4527 0 -305.71)" filter="url(#fm)"/><polygon points="177.8,686.2 193.3,686.2 192.7,766.9" transform="matrix(1 0.0268 0 1.1700 0 -111.52)" filter="url(#fl)"/><polygon points="178.5,685.8 193.4,766.5 177.9,766.5" transform="matrix(1 -0.0230 0 1.1789 0 -108.70)" filter="url(#fl)"/><polygon points="177.8,765.1 193.3,765.1 192.7,851.3" transform="matrix(1 -0.0230 0 1.3044 0 -204.81)" filter="url(#fl)"/><polygon points="178.5,764.7 193.4,850.8 177.9,850.8" transform="matrix(1 -0.0247 0 1.3047 0 -204.72)" filter="url(#fl)"/><polygon points="177.8,849.4 193.3,849.4 192.7,937.0" transform="matrix(1 -0.0247 0 1.1666 0 -87.39)" filter="url(#fl)"/><polygon points="178.5,849.0 193.4,936.6 177.9,936.6" transform="matrix(1 -0.0247 0 1.1666 0 -87.39)" filter="url(#fl)"/><polygon points="191.8,479.3 207.3,479.3 206.7,569.4" transform="matrix(1 0.0383 0 1.0224 0 -27.60)" filter="url(#fl)"/><polygon points="192.5,478.9 207.4,568.9 191.9,568.9" transform="matrix(1 0.0459 0 1.0212 0 -28.49)" filter="url(#fl)"/><polygon points="191.8,567.5 207.3,567.5 206.7,655.7" transform="matrix(1 0.0459 0 1.0398 0 -39.08)" filter="url(#fl)"/><polygon points="192.5,567.1 207.4,655.3 191.9,655.3" transform="matrix(1 0.0383 0 1.0411 0 -38.31)" filter="url(#fl)"/><polygon points="191.7,654.0 207.3,653.9 206.8,688.0" transform="matrix(1 0.0383 0 1.4428 0 -301.26)" filter="url(#fm)"/><polygon points="192.4,653.5 207.5,687.5 191.9,687.6" transform="matrix(1 0.0268 0 1.4478 0 -302.30)" filter="url(#fm)"/><polygon points="191.8,686.2 207.3,686.2 206.7,766.9" transform="matrix(1 0.0268 0 1.1612 0 -105.46)" filter="url(#fl)"/><polygon points="192.5,685.8 207.4,766.5 191.9,766.5" transform="matrix(1 -0.0230 0 1.1700 0 -101.94)" filter="url(#fl)"/><polygon points="191.8,765.1 207.3,765.1 206.7,851.3" transform="matrix(1 -0.0230 0 1.3041 0 -204.59)" filter="url(#fl)"/><polygon points="192.5,764.7 207.4,850.8 191.9,850.8" transform="matrix(1 -0.0247 0 1.3044 0 -204.47)" filter="url(#fl)"/><polygon points="191.8,849.4 207.3,849.4 206.7,937.0" transform="matrix(1 -0.0247 0 1.1666 0 -87.39)" filter="url(#fl)"/><polygon points="192.5,849.0 207.4,936.6 191.9,936.6" transform="matrix(1 -0.0247 0 1.1666 0 -87.39)" filter="url(#fl)"/><polygon points="205.8,479.3 221.3,479.3 220.7,569.4" transform="matrix(1 0.0383 0 1.0236 0 -28.18)" filter="url(#fl)"/><polygon points="206.5,478.9 221.4,568.9 205.9,568.9" transform="matrix(1 0.0459 0 1.0224 0 -29.18)" filter="url(#fl)"/><polygon points="205.8,567.5 221.3,567.5 220.7,655.7" transform="matrix(1 0.0459 0 1.0386 0 -38.37)" filter="url(#fl)"/><polygon points="206.5,567.1 221.4,655.3 205.9,655.3" transform="matrix(1 0.0383 0 1.0398 0 -37.50)" filter="url(#fl)"/><polygon points="205.7,654.0 221.3,653.9 220.8,688.0" transform="matrix(1 0.0383 0 1.4378 0 -298.01)" filter="url(#fm)"/><polygon points="206.4,653.5 221.5,687.5 205.9,687.6" transform="matrix(1 0.0268 0 1.4428 0 -298.89)" filter="url(#fm)"/><polygon points="205.8,686.2 221.3,686.2 220.7,766.9" transform="matrix(1 0.0268 0 1.1524 0 -99.39)" filter="url(#fl)"/><polygon points="206.5,685.8 221.4,766.5 205.9,766.5" transform="matrix(1 -0.0230 0 1.1612 0 -95.18)" filter="url(#fl)"/><polygon points="205.8,765.1 221.3,765.1 220.7,851.3" transform="matrix(1 -0.0230 0 1.3038 0 -204.36)" filter="url(#fl)"/><polygon points="206.5,764.7 221.4,850.8 205.9,850.8" transform="matrix(1 -0.0247 0 1.3041 0 -204.22)" filter="url(#fl)"/><polygon points="205.8,849.4 221.3,849.4 220.7,937.0" transform="matrix(1 -0.0247 0 1.1666 0 -87.39)" filter="url(#fl)"/><polygon points="206.5,849.0 221.4,936.6 205.9,936.6" transform="matrix(1 -0.0247 0 1.1666 0 -87.39)" filter="url(#fl)"/><polygon points="219.8,479.3 235.3,479.3 234.7,569.4" transform="matrix(1 0.0383 0 1.0249 0 -28.76)" filter="url(#fl)"/><polygon points="220.5,478.9 235.4,568.9 219.9,568.9" transform="matrix(1 0.0459 0 1.0236 0 -29.87)" filter="url(#fl)"/><polygon points="219.8,567.5 235.3,567.5 234.7,655.7" transform="matrix(1 0.0459 0 1.0374 0 -37.67)" filter="url(#fl)"/><polygon points="220.5,567.1 235.4,655.3 219.9,655.3" transform="matrix(1 0.0383 0 1.0386 0 -36.68)" filter="url(#fl)"/><polygon points="219.7,654.0 235.3,653.9 234.8,688.0" transform="matrix(1 0.0383 0 1.4329 0 -294.76)" filter="url(#fm)"/><polygon points="220.4,653.5 235.5,687.5 219.9,687.6" transform="matrix(1 0.0268 0 1.4378 0 -295.47)" filter="url(#fm)"/><polygon points="219.8,686.2 235.3,686.2 234.7,766.9" transform="matrix(1 0.0268 0 1.1436 0 -93.33)" filter="url(#fl)"/><polygon points="220.5,685.8 235.4,766.5 219.9,766.5" transform="matrix(1 -0.0230 0 1.1524 0 -88.42)" filter="url(#fl)"/><polygon points="219.8,765.1 235.3,765.1 234.7,851.3" transform="matrix(1 -0.0230 0 1.3035 0 -204.14)" filter="url(#fl)"/><polygon points="220.5,764.7 235.4,850.8 219.9,850.8" transform="matrix(1 -0.0247 0 1.3038 0 -203.97)" filter="url(#fl)"/><polygon points="219.8,849.4 235.3,849.4 234.7,937.0" transform="matrix(1 -0.0247 0 1.1666 0 -87.39)" filter="url(#fl)"/><polygon points="220.5,849.0 235.4,936.6 219.9,936.6" transform="matrix(1 -0.0247 0 1.1666 0 -87.39)" filter="url(#fl)"/><polygon points="233.8,479.3 249.3,479.3 248.7,569.4" transform="matrix(1 0.0383 0 1.0261 0 -29.35)" filter="url(#fl)"/><polygon points="234.5,478.9 249.4,568.9 233.9,568.9" transform="matrix(1 0.0459 0 1.0249 0 -30.56)" filter="url(#fl)"/><polygon points="233.8,567.5 249.3,567.5 248.7,655.7" transform="matrix(1 0.0459 0 1.0361 0 -36.96)" filter="url(#fl)"/><polygon points="234.5,567.1 249.4,655.3 233.9,655.3" transform="matrix(1 0.0383 0 1.0374 0 -35.87)" filter="url(#fl)"/><polygon points="233.7,654.0 249.3,653.9 248.8,688.0" transform="matrix(1 0.0383 0 1.4279 0 -291.51)" filter="url(#fm)"/><polygon points="234.4,653.5 249.5,687.5 233.9,687.6" transform="matrix(1 0.0268 0 1.4329 0 -292.06)" filter="url(#fm)"/><polygon points="233.8,686.2 249.3,686.2 248.7,766.9" transform="matrix(1 0.0268 0 1.1347 0 -87.27)" filter="url(#fl)"/><polygon points="234.5,685.8 249.4,766.5 233.9,766.5" transform="matrix(1 -0.0230 0 1.1436 0 -81.66)" filter="url(#fl)"/><polygon points="233.8,765.1 249.3,765.1 248.7,851.3" transform="matrix(1 -0.0230 0 1.3032 0 -203.91)" filter="url(#fl)"/><polygon points="234.5,764.7 249.4,850.8 233.9,850.8" transform="matrix(1 -0.0247 0 1.3035 0 -203.73)" filter="url(#fl)"/><polygon points="233.8,849.4 249.3,849.4 248.7,937.0" transform="matrix(1 -0.0247 0 1.1666 0 -87.39)" filter="url(#fl)"/><polygon points="234.5,849.0 249.4,936.6 233.9,936.6" transform="matrix(1 -0.0247 0 1.1666 0 -87.39)" filter="url(#fl)"/><polygon points="247.8,479.3 263.3,479.3 262.7,569.4" transform="matrix(1 0.0383 0 1.0273 0 -29.93)" filter="url(#fl)"/><polygon points="248.5,478.9 263.4,568.9 247.9,568.9" transform="matrix(1 0.0459 0 1.0261 0 -31.25)" filter="url(#fl)"/><polygon points="247.8,567.5 263.3,567.5 262.7,655.7" transform="matrix(1 0.0459 0 1.0349 0 -36.26)" filter="url(#fl)"/><polygon points="248.5,567.1 263.4,655.3 247.9,655.3" transform="matrix(1 0.0383 0 1.0361 0 -35.06)" filter="url(#fl)"/><polygon points="247.7,654.0 263.3,653.9 262.8,688.0" transform="matrix(1 0.0383 0 1.4229 0 -288.25)" filter="url(#fm)"/><polygon points="248.4,653.5 263.5,687.5 247.9,687.6" transform="matrix(1 0.0268 0 1.4279 0 -288.65)" filter="url(#fm)"/><polygon points="247.8,686.2 263.3,686.2 262.7,766.9" transform="matrix(1 0.0268 0 1.1259 0 -81.21)" filter="url(#fl)"/><polygon points="248.5,685.8 263.4,766.5 247.9,766.5" transform="matrix(1 -0.0230 0 1.1347 0 -74.91)" filter="url(#fl)"/><polygon points="247.8,765.1 263.3,765.1 262.7,851.3" transform="matrix(1 -0.0230 0 1.3029 0 -203.69)" filter="url(#fl)"/><polygon points="248.5,764.7 263.4,850.8 247.9,850.8" transform="matrix(1 -0.0247 0 1.3032 0 -203.48)" filter="url(#fl)"/><polygon points="247.8,849.4 263.3,849.4 262.7,937.0" transform="matrix(1 -0.0247 0 1.1666 0 -87.39)" filter="url(#fl)"/><polygon points="248.5,849.0 263.4,936.6 247.9,936.6" transform="matrix(1 -0.0247 0 1.1666 0 -87.39)" filter="url(#fl)"/><polygon points="261.8,479.3 277.3,479.3 276.7,569.4" transform="matrix(1 0.0383 0 1.0285 0 -30.51)" filter="url(#fl)"/><polygon points="262.5,478.9 277.4,568.9 261.9,568.9" transform="matrix(1 0.0459 0 1.0273 0 -31.94)" filter="url(#fl)"/><polygon points="261.8,567.5 277.3,567.5 276.7,655.7" transform="matrix(1 0.0459 0 1.0336 0 -35.55)" filter="url(#fl)"/><polygon points="262.5,567.1 277.4,655.3 261.9,655.3" transform="matrix(1 0.0383 0 1.0349 0 -34.25)" filter="url(#fl)"/><polygon points="261.7,654.0 277.3,653.9 276.8,688.0" transform="matrix(1 0.0383 0 1.4180 0 -285.00)" filter="url(#fm)"/><polygon points="262.4,653.5 277.5,687.5 261.9,687.6" transform="matrix(1 0.0268 0 1.4229 0 -285.24)" filter="url(#fm)"/><polygon points="261.8,686.2 277.3,686.2 276.7,766.9" transform="matrix(1 0.0268 0 1.1171 0 -75.14)" filter="url(#fl)"/><polygon points="262.5,685.8 277.4,766.5 261.9,766.5" transform="matrix(1 -0.0230 0 1.1259 0 -68.15)" filter="url(#fl)"/><polygon points="261.8,765.1 277.3,765.1 276.7,851.3" transform="matrix(1 -0.0230 0 1.3026 0 -203.47)" filter="url(#fl)"/><polygon points="262.5,764.7 277.4,850.8 261.9,850.8" transform="matrix(1 -0.0247 0 1.3029 0 -203.23)" filter="url(#fl)"/><polygon points="261.8,849.4 277.3,849.4 276.7,937.0" transform="matrix(1 -0.0247 0 1.1666 0 -87.39)" filter="url(#fl)"/><polygon points="262.5,849.0 277.4,936.6 261.9,936.6" transform="matrix(1 -0.0247 0 1.1666 0 -87.39)" filter="url(#fl)"/><polygon points="275.8,479.3 291.3,479.3 290.7,569.4" transform="matrix(1 0.0383 0 1.0297 0 -31.09)" filter="url(#fl)"/><polygon points="276.5,478.9 291.4,568.9 275.9,568.9" transform="matrix(1 0.0459 0 1.0285 0 -32.63)" filter="url(#fl)"/><polygon points="275.8,567.5 291.3,567.5 290.7,655.7" transform="matrix(1 0.0459 0 1.0324 0 -34.85)" filter="url(#fl)"/><polygon points="276.5,567.1 291.4,655.3 275.9,655.3" transform="matrix(1 0.0383 0 1.0336 0 -33.44)" filter="url(#fl)"/><polygon points="275.7,654.0 291.3,653.9 290.8,688.0" transform="matrix(1 0.0383 0 1.4130 0 -281.75)" filter="url(#fm)"/><polygon points="276.4,653.5 291.5,687.5 275.9,687.6" transform="matrix(1 0.0268 0 1.4180 0 -281.83)" filter="url(#fm)"/><polygon points="275.8,686.2 291.3,686.2 290.7,766.9" transform="matrix(1 0.0268 0 1.1083 0 -69.08)" filter="url(#fl)"/><polygon points="276.5,685.8 291.4,766.5 275.9,766.5" transform="matrix(1 -0.0230 0 1.1171 0 -61.39)" filter="url(#fl)"/><polygon points="275.8,765.1 291.3,765.1 290.7,851.3" transform="matrix(1 -0.0230 0 1.3023 0 -203.24)" filter="url(#fl)"/><polygon points="276.5,764.7 291.4,850.8 275.9,850.8" transform="matrix(1 -0.0247 0 1.3026 0 -202.98)" filter="url(#fl)"/><polygon points="275.8,849.4 291.3,849.4 290.7,937.0" transform="matrix(1 -0.0247 0 1.1666 0 -87.39)" filter="url(#fl)"/><polygon points="276.5,849.0 291.4,936.6 275.9,936.6" transform="matrix(1 -0.0247 0 1.1666 0 -87.39)" filter="url(#fl)"/><polygon points="289.8,479.3 305.3,479.3 304.7,569.4" transform="matrix(1 0.0383 0 1.0309 0 -31.68)" filter="url(#fl)"/><polygon points="290.5,478.9 305.4,568.9 289.9,568.9" transform="matrix(1 0.0459 0 1.0297 0 -33.32)" filter="url(#fl)"/><polygon points="289.8,567.5 305.3,567.5 304.7,655.7" transform="matrix(1 0.0459 0 1.0312 0 -34.14)" filter="url(#fl)"/><polygon points="290.5,567.1 305.4,655.3 289.9,655.3" transform="matrix(1 0.0383 0 1.0324 0 -32.62)" filter="url(#fl)"/><polygon points="289.7,654.0 305.3,653.9 304.8,688.0" transform="matrix(1 0.0383 0 1.4080 0 -278.50)" filter="url(#fm)"/><polygon points="290.4,653.5 305.5,687.5 289.9,687.6" transform="matrix(1 0.0268 0 1.4130 0 -278.42)" filter="url(#fm)"/><polygon points="289.8,686.2 305.3,686.2 304.7,766.9" transform="matrix(1 0.0268 0 1.0994 0 -63.02)" filter="url(#fl)"/><polygon points="290.5,685.8 305.4,766.5 289.9,766.5" transform="matrix(1 -0.0230 0 1.1083 0 -54.63)" filter="url(#fl)"/><polygon points="289.8,765.1 305.3,765.1 304.7,851.3" transform="matrix(1 -0.0230 0 1.2941 0 -196.95)" filter="url(#fl)"/><polygon points="290.5,764.7 305.4,850.8 289.9,850.8" transform="matrix(1 -0.0724 0 1.3023 0 -188.86)" filter="url(#fl)"/><polygon points="289.8,849.4 305.3,849.4 304.7,937.0" transform="matrix(1 -0.0724 0 1.1673 0 -74.11)" filter="url(#fl)"/><polygon points="290.5,849.0 305.4,936.6 289.9,936.6" transform="matrix(1 -0.0682 0 1.1666 0 -74.75)" filter="url(#fl)"/><polygon points="303.8,479.3 319.3,479.3 318.7,569.4" transform="matrix(1 0.0383 0 1.0321 0 -32.26)" filter="url(#fl)"/><polygon points="304.5,478.9 319.4,568.9 303.9,568.9" transform="matrix(1 0.0459 0 1.0309 0 -34.01)" filter="url(#fl)"/><polygon points="303.8,567.5 319.3,567.5 318.7,655.7" transform="matrix(1 0.0459 0 1.0299 0 -33.44)" filter="url(#fl)"/><polygon points="304.5,567.1 319.4,655.3 303.9,655.3" transform="matrix(1 0.0383 0 1.0312 0 -31.81)" filter="url(#fl)"/><polygon points="303.7,654.0 319.3,653.9 318.8,688.0" transform="matrix(1 0.0383 0 1.4031 0 -275.25)" filter="url(#fm)"/><polygon points="304.4,653.5 319.5,687.5 303.9,687.6" transform="matrix(1 0.0268 0 1.4080 0 -275.01)" filter="url(#fm)"/><polygon points="303.8,686.2 319.3,686.2 318.7,766.9" transform="matrix(1 0.0268 0 1.0906 0 -56.96)" filter="url(#fl)"/><polygon points="304.5,685.8 319.4,766.5 303.9,766.5" transform="matrix(1 -0.0230 0 1.0994 0 -47.87)" filter="url(#fl)"/><polygon points="303.8,765.1 319.3,765.1 318.7,851.3" transform="matrix(1 -0.0230 0 1.2697 0 -178.25)" filter="url(#fl)"/><polygon points="304.5,764.7 319.4,850.8 303.9,850.8" transform="matrix(1 -0.1700 0 1.2941 0 -152.16)" filter="url(#fl)"/><polygon points="303.8,849.4 319.3,849.4 318.7,937.0" transform="matrix(1 -0.1700 0 1.1694 0 -46.18)" filter="url(#fl)"/><polygon points="304.5,849.0 319.4,936.6 303.9,936.6" transform="matrix(1 -0.1571 0 1.1673 0 -48.31)" filter="url(#fl)"/><polygon points="317.8,479.3 333.3,479.3 332.7,569.4" transform="matrix(1 0.0383 0 1.0334 0 -32.84)" filter="url(#fl)"/><polygon points="318.5,478.9 333.4,568.9 317.9,568.9" transform="matrix(1 0.0459 0 1.0321 0 -34.70)" filter="url(#fl)"/><polygon points="317.8,567.5 333.3,567.5 332.7,655.7" transform="matrix(1 0.0459 0 1.0287 0 -32.73)" filter="url(#fl)"/><polygon points="318.5,567.1 333.4,655.3 317.9,655.3" transform="matrix(1 0.0383 0 1.0299 0 -31.00)" filter="url(#fl)"/><polygon points="317.7,654.0 333.3,653.9 332.8,688.0" transform="matrix(1 0.0383 0 1.3981 0 -272.00)" filter="url(#fm)"/><polygon points="318.4,653.5 333.5,687.5 317.9,687.6" transform="matrix(1 0.0268 0 1.4031 0 -271.59)" filter="url(#fm)"/><polygon points="317.8,686.2 333.3,686.2 332.7,766.9" transform="matrix(1 0.0268 0 1.0818 0 -50.89)" filter="url(#fl)"/><polygon points="318.5,685.8 333.4,766.5 317.9,766.5" transform="matrix(1 -0.0230 0 1.0906 0 -41.11)" filter="url(#fl)"/><polygon points="317.8,765.1 333.3,765.1 332.7,851.3" transform="matrix(1 -0.0230 0 1.2453 0 -159.55)" filter="url(#fl)"/><polygon points="318.5,764.7 333.4,850.8 317.9,850.8" transform="matrix(1 -0.1700 0 1.2697 0 -131.40)" filter="url(#fl)"/><polygon points="317.8,849.4 333.3,849.4 332.7,937.0" transform="matrix(1 -0.1700 0 1.1715 0 -47.96)" filter="url(#fl)"/><polygon points="318.5,849.0 333.4,936.6 317.9,936.6" transform="matrix(1 -0.1571 0 1.1694 0 -50.27)" filter="url(#fl)"/><polygon points="331.8,479.3 347.3,479.3 346.7,569.4" transform="matrix(1 0.0383 0 1.0346 0 -33.42)" filter="url(#fl)"/><polygon points="332.5,478.9 347.4,568.9 331.9,568.9" transform="matrix(1 0.0459 0 1.0334 0 -35.39)" filter="url(#fl)"/><polygon points="331.8,567.5 347.3,567.5 346.7,655.7" transform="matrix(1 0.0459 0 1.0274 0 -32.03)" filter="url(#fl)"/><polygon points="332.5,567.1 347.4,655.3 331.9,655.3" transform="matrix(1 0.0383 0 1.0287 0 -30.19)" filter="url(#fl)"/><polygon points="331.7,654.0 347.3,653.9 346.8,688.0" transform="matrix(1 0.0383 0 1.3931 0 -268.75)" filter="url(#fm)"/><polygon points="332.4,653.5 347.5,687.5 331.9,687.6" transform="matrix(1 0.0268 0 1.3981 0 -268.18)" filter="url(#fm)"/><polygon points="331.8,686.2 347.3,686.2 346.7,766.9" transform="matrix(1 0.0268 0 1.0730 0 -44.83)" filter="url(#fl)"/><polygon points="332.5,685.8 347.4,766.5 331.9,766.5" transform="matrix(1 -0.0230 0 1.0818 0 -34.35)" filter="url(#fl)"/><polygon points="331.8,765.1 347.3,765.1 346.7,851.3" transform="matrix(1 -0.0230 0 1.2208 0 -140.85)" filter="url(#fl)"/><polygon points="332.5,764.7 347.4,850.8 331.9,850.8" transform="matrix(1 -0.1700 0 1.2453 0 -110.64)" filter="url(#fl)"/><polygon points="331.8,849.4 347.3,849.4 346.7,937.0" transform="matrix(1 -0.1700 0 1.1736 0 -49.75)" filter="url(#fl)"/><polygon points="332.5,849.0 347.4,936.6 331.9,936.6" transform="matrix(1 -0.1571 0 1.1715 0 -52.24)" filter="url(#fl)"/><polygon points="345.8,479.3 361.3,479.3 360.7,569.4" transform="matrix(1 0.0383 0 1.0358 0 -34.01)" filter="url(#fl)"/><polygon points="346.5,478.9 361.4,568.9 345.9,568.9" transform="matrix(1 0.0459 0 1.0346 0 -36.08)" filter="url(#fl)"/><polygon points="345.8,567.5 361.3,567.5 360.7,655.7" transform="matrix(1 0.0459 0 1.0262 0 -31.32)" filter="url(#fl)"/><polygon points="346.5,567.1 361.4,655.3 345.9,655.3" transform="matrix(1 0.0383 0 1.0274 0 -29.38)" filter="url(#fl)"/><polygon points="345.7,654.0 361.3,653.9 360.8,688.0" transform="matrix(1 0.0383 0 1.3882 0 -265.50)" filter="url(#fm)"/><polygon points="346.4,653.5 361.5,687.5 345.9,687.6" transform="matrix(1 0.0268 0 1.3931 0 -264.77)" filter="url(#fm)"/><polygon points="345.8,686.2 361.3,686.2 360.7,766.9" transform="matrix(1 0.0268 0 1.0641 0 -38.77)" filter="url(#fl)"/><polygon points="346.5,685.8 361.4,766.5 345.9,766.5" transform="matrix(1 -0.0230 0 1.0730 0 -27.59)" filter="url(#fl)"/><polygon points="345.8,765.1 361.3,765.1 360.7,851.3" transform="matrix(1 -0.0230 0 1.1964 0 -122.15)" filter="url(#fl)"/><polygon points="346.5,764.7 361.4,850.8 345.9,850.8" transform="matrix(1 -0.1700 0 1.2208 0 -89.89)" filter="url(#fl)"/><polygon points="345.8,849.4 361.3,849.4 360.7,937.0" transform="matrix(1 -0.1700 0 1.1757 0 -51.53)" filter="url(#fl)"/><polygon points="346.5,849.0 361.4,936.6 345.9,936.6" transform="matrix(1 -0.1571 0 1.1736 0 -54.20)" filter="url(#fl)"/><polygon points="359.8,479.3 375.3,479.3 374.7,569.4" transform="matrix(1 0.0383 0 1.0370 0 -34.59)" filter="url(#fl)"/><polygon points="360.5,478.9 375.4,568.9 359.9,568.9" transform="matrix(1 0.0459 0 1.0358 0 -36.77)" filter="url(#fl)"/><polygon points="359.8,567.5 375.3,567.5 374.7,655.7" transform="matrix(1 0.0459 0 1.0250 0 -30.62)" filter="url(#fl)"/><polygon points="360.5,567.1 375.4,655.3 359.9,655.3" transform="matrix(1 0.0383 0 1.0262 0 -28.56)" filter="url(#fl)"/><polygon points="359.7,654.0 375.3,653.9 374.8,688.0" transform="matrix(1 0.0383 0 1.3832 0 -262.25)" filter="url(#fm)"/><polygon points="360.4,653.5 375.5,687.5 359.9,687.6" transform="matrix(1 0.0268 0 1.3882 0 -261.36)" filter="url(#fm)"/><polygon points="359.8,686.2 375.3,686.2 374.7,766.9" transform="matrix(1 0.0268 0 1.0553 0 -32.71)" filter="url(#fl)"/><polygon points="360.5,685.8 375.4,766.5 359.9,766.5" transform="matrix(1 -0.0230 0 1.0641 0 -20.83)" filter="url(#fl)"/><polygon points="359.8,765.1 375.3,765.1 374.7,851.3" transform="matrix(1 -0.0230 0 1.1720 0 -103.46)" filter="url(#fl)"/><polygon points="360.5,764.7 375.4,850.8 359.9,850.8" transform="matrix(1 -0.1700 0 1.1964 0 -69.13)" filter="url(#fl)"/><polygon points="359.8,849.4 375.3,849.4 374.7,937.0" transform="matrix(1 -0.1700 0 1.1778 0 -53.32)" filter="url(#fl)"/><polygon points="360.5,849.0 375.4,936.6 359.9,936.6" transform="matrix(1 -0.1571 0 1.1757 0 -56.17)" filter="url(#fl)"/><polygon points="373.8,479.3 389.3,479.3 388.7,569.4" transform="matrix(1 0.0383 0 1.0382 0 -35.17)" filter="url(#fl)"/><polygon points="374.5,478.9 389.4,568.9 373.9,568.9" transform="matrix(1 0.0459 0 1.0370 0 -37.46)" filter="url(#fl)"/><polygon points="373.8,567.5 389.3,567.5 388.7,655.7" transform="matrix(1 0.0459 0 1.0237 0 -29.91)" filter="url(#fl)"/><polygon points="374.5,567.1 389.4,655.3 373.9,655.3" transform="matrix(1 0.0383 0 1.0250 0 -27.75)" filter="url(#fl)"/><polygon points="373.7,654.0 389.3,653.9 388.8,688.0" transform="matrix(1 0.0383 0 1.3782 0 -259.00)" filter="url(#fm)"/><polygon points="374.4,653.5 389.5,687.5 373.9,687.6" transform="matrix(1 0.0268 0 1.3832 0 -257.95)" filter="url(#fm)"/><polygon points="373.8,686.2 389.3,686.2 388.7,766.9" transform="matrix(1 0.0268 0 1.0465 0 -26.64)" filter="url(#fl)"/><polygon points="374.5,685.8 389.4,766.5 373.9,766.5" transform="matrix(1 -0.0230 0 1.0553 0 -14.08)" filter="url(#fl)"/><polygon points="373.8,765.1 389.3,765.1 388.7,851.3" transform="matrix(1 -0.0230 0 1.1476 0 -84.76)" filter="url(#fl)"/><polygon points="374.5,764.7 389.4,850.8 373.9,850.8" transform="matrix(1 -0.1700 0 1.1720 0 -48.37)" filter="url(#fl)"/><polygon points="373.8,849.4 389.3,849.4 388.7,937.0" transform="matrix(1 -0.1700 0 1.1799 0 -55.10)" filter="url(#fl)"/><polygon points="374.5,849.0 389.4,936.6 373.9,936.6" transform="matrix(1 -0.1571 0 1.1778 0 -58.14)" filter="url(#fl)"/><polygon points="387.8,479.3 403.3,479.3 402.7,569.4" transform="matrix(1 0.0383 0 1.0394 0 -35.76)" filter="url(#fl)"/><polygon points="388.5,478.9 403.4,568.9 387.9,568.9" transform="matrix(1 0.0459 0 1.0382 0 -38.15)" filter="url(#fl)"/><polygon points="387.8,567.5 403.3,567.5 402.7,655.7" transform="matrix(1 0.0459 0 1.0225 0 -29.21)" filter="url(#fl)"/><polygon points="388.5,567.1 403.4,655.3 387.9,655.3" transform="matrix(1 0.0383 0 1.0237 0 -26.94)" filter="url(#fl)"/><polygon points="387.7,654.0 403.3,653.9 402.8,688.0" transform="matrix(1 0.0383 0 1.3733 0 -255.75)" filter="url(#fm)"/><polygon points="388.4,653.5 403.5,687.5 387.9,687.6" transform="matrix(1 0.0268 0 1.3782 0 -254.54)" filter="url(#fm)"/><polygon points="387.8,686.2 403.3,686.2 402.7,766.9" transform="matrix(1 0.0268 0 1.0377 0 -20.58)" filter="url(#fl)"/><polygon points="388.5,685.8 403.4,766.5 387.9,766.5" transform="matrix(1 -0.0230 0 1.0465 0 -7.32)" filter="url(#fl)"/><polygon points="387.8,765.1 403.3,765.1 402.7,851.3" transform="matrix(1 -0.0230 0 1.1223 0 -65.35)" filter="url(#fl)"/><polygon points="388.5,764.7 403.4,850.8 387.9,850.8" transform="matrix(1 -0.1756 0 1.1476 0 -25.45)" filter="url(#fl)"/><polygon points="387.8,849.4 403.3,849.4 402.7,937.0" transform="matrix(1 -0.1756 0 1.1829 0 -55.50)" filter="url(#fl)"/><polygon points="388.5,849.0 403.4,936.6 387.9,936.6" transform="matrix(1 -0.1571 0 1.1799 0 -60.10)" filter="url(#fl)"/><polygon points="401.8,479.3 417.3,479.3 416.7,569.4" transform="matrix(1 0.0383 0 1.0406 0 -36.34)" filter="url(#fl)"/><polygon points="402.5,478.9 417.4,568.9 401.9,568.9" transform="matrix(1 0.0459 0 1.0394 0 -38.84)" filter="url(#fl)"/><polygon points="401.8,567.5 417.3,567.5 416.7,655.7" transform="matrix(1 0.0459 0 1.0212 0 -28.50)" filter="url(#fl)"/><polygon points="402.5,567.1 417.4,655.3 401.9,655.3" transform="matrix(1 0.0383 0 1.0225 0 -26.13)" filter="url(#fl)"/><polygon points="401.7,654.0 417.3,653.9 416.8,688.0" transform="matrix(1 0.0383 0 1.3683 0 -252.50)" filter="url(#fm)"/><polygon points="402.4,653.5 417.5,687.5 401.9,687.6" transform="matrix(1 0.0268 0 1.3733 0 -251.13)" filter="url(#fm)"/><polygon points="401.8,686.2 417.3,686.2 416.7,766.9" transform="matrix(1 0.0268 0 1.0288 0 -14.52)" filter="url(#fl)"/><polygon points="402.5,685.8 417.4,766.5 401.9,766.5" transform="matrix(1 -0.0230 0 1.0377 0 -0.56)" filter="url(#fl)"/><polygon points="401.8,765.1 417.3,765.1 416.7,851.3" transform="matrix(1 -0.0230 0 1.0929 0 -42.84)" filter="url(#fl)"/><polygon points="402.5,764.7 417.4,850.8 401.9,850.8" transform="matrix(1 -0.2000 0 1.1223 0 5.93)" filter="url(#fl)"/><polygon points="401.8,849.4 417.3,849.4 416.7,937.0" transform="matrix(1 -0.2000 0 1.1899 0 -51.61)" filter="url(#fl)"/><polygon points="402.5,849.0 417.4,936.6 401.9,936.6" transform="matrix(1 -0.1571 0 1.1829 0 -62.92)" filter="url(#fl)"/><polygon points="415.8,479.3 431.3,479.3 430.7,569.4" transform="matrix(1 0.0383 0 1.0419 0 -36.92)" filter="url(#fl)"/><polygon points="416.5,478.9 431.4,568.9 415.9,568.9" transform="matrix(1 0.0459 0 1.0406 0 -39.53)" filter="url(#fl)"/><polygon points="415.8,567.5 431.3,567.5 430.7,655.7" transform="matrix(1 0.0459 0 1.0200 0 -27.80)" filter="url(#fl)"/><polygon points="416.5,567.1 431.4,655.3 415.9,655.3" transform="matrix(1 0.0383 0 1.0212 0 -25.32)" filter="url(#fl)"/><polygon points="415.7,654.0 431.3,653.9 430.8,688.0" transform="matrix(1 0.0383 0 1.3633 0 -249.24)" filter="url(#fm)"/><polygon points="416.4,653.5 431.5,687.5 415.9,687.6" transform="matrix(1 0.0268 0 1.3683 0 -247.71)" filter="url(#fm)"/><polygon points="415.8,686.2 431.3,686.2 430.7,766.9" transform="matrix(1 0.0268 0 1.0200 0 -8.45)" filter="url(#fl)"/><polygon points="416.5,685.8 431.4,766.5 415.9,766.5" transform="matrix(1 -0.0230 0 1.0288 0 6.20)" filter="url(#fl)"/><polygon points="415.8,765.1 431.3,765.1 430.7,851.3" transform="matrix(1 -0.0230 0 1.0635 0 -20.32)" filter="url(#fl)"/><polygon points="416.5,764.7 431.4,850.8 415.9,850.8" transform="matrix(1 -0.2000 0 1.0929 0 30.92)" filter="url(#fl)"/><polygon points="415.8,849.4 431.3,849.4 430.7,937.0" transform="matrix(1 -0.2000 0 1.1969 0 -57.56)" filter="url(#fl)"/><polygon points="416.5,849.0 431.4,936.6 415.9,936.6" transform="matrix(1 -0.1571 0 1.1899 0 -69.47)" filter="url(#fl)"/><polygon points="429.8,479.3 445.3,479.3 444.7,569.4" transform="matrix(1 0.0602 0 1.0424 0 -46.63)" filter="url(#fl)"/><polygon points="430.5,478.9 445.4,568.9 429.9,568.9" transform="matrix(1 0.0637 0 1.0419 0 -47.87)" filter="url(#fl)"/><polygon points="429.8,567.5 445.3,567.5 444.7,655.7" transform="matrix(1 0.0637 0 1.0229 0 -37.10)" filter="url(#fl)"/><polygon points="430.5,567.1 445.4,655.3 429.9,655.3" transform="matrix(1 0.0815 0 1.0200 0 -43.14)" filter="url(#fl)"/><polygon points="429.7,654.0 445.3,653.9 444.8,688.0" transform="matrix(1 0.0815 0 1.3536 0 -261.51)" filter="url(#fm)"/><polygon points="430.4,653.5 445.5,687.5 429.9,687.6" transform="matrix(1 0.0591 0 1.3633 0 -258.20)" filter="url(#fm)"/><polygon points="429.8,686.2 445.3,686.2 444.7,766.9" transform="matrix(1 0.0591 0 1.0379 0 -34.64)" filter="url(#fl)"/><polygon points="430.5,685.8 445.4,766.5 429.9,766.5" transform="matrix(1 0.1598 0 1.0200 0 -65.74)" filter="url(#fl)"/><polygon points="429.8,765.1 445.3,765.1 444.7,851.3" transform="matrix(1 0.1598 0 1.0437 0 -83.91)" filter="url(#fl)"/><polygon points="430.5,764.7 445.4,850.8 429.9,850.8" transform="matrix(1 0.0410 0 1.0635 0 -47.84)" filter="url(#fl)"/><polygon points="429.8,849.4 445.3,849.4 444.7,937.0" transform="matrix(1 0.0410 0 1.1824 0 -148.97)" filter="url(#fl)"/><polygon points="430.5,849.0 445.4,936.6 429.9,936.6" transform="matrix(1 -0.0480 0 1.1969 0 -123.01)" filter="url(#fl)"/><polygon points="443.8,479.3 459.3,479.3 458.7,569.4" transform="matrix(1 0.1050 0 1.0416 0 -66.17)" filter="url(#fl)"/><polygon points="444.5,478.9 459.4,568.9 443.9,568.9" transform="matrix(1 0.1000 0 1.0424 0 -64.33)" filter="url(#fl)"/><polygon points="443.8,567.5 459.3,567.5 458.7,655.7" transform="matrix(1 0.1000 0 1.0342 0 -59.69)" filter="url(#fl)"/><polygon points="444.5,567.1 459.4,655.3 443.9,655.3" transform="matrix(1 0.1700 0 1.0229 0 -84.36)" filter="url(#fl)"/><polygon points="443.7,654.0 459.3,653.9 458.8,688.0" transform="matrix(1 0.1700 0 1.3341 0 -288.09)" filter="url(#fm)"/><polygon points="444.4,653.5 459.5,687.5 443.9,687.6" transform="matrix(1 0.1250 0 1.3536 0 -280.84)" filter="url(#fm)"/><polygon points="443.8,686.2 459.3,686.2 458.7,766.9" transform="matrix(1 0.1250 0 1.1103 0 -113.73)" filter="url(#fl)"/><polygon points="444.5,685.8 459.4,766.5 443.9,766.5" transform="matrix(1 0.5333 0 1.0379 0 -245.50)" filter="url(#fl)"/><polygon points="443.8,765.1 459.3,765.1 458.7,851.3" transform="matrix(1 0.5333 0 1.0437 0 -249.97)" filter="url(#fl)"/><polygon points="444.5,764.7 459.4,850.8 443.9,850.8" transform="matrix(1 0.5333 0 1.0437 0 -249.97)" filter="url(#fl)"/><polygon points="443.8,849.4 459.3,849.4 458.7,937.0" transform="matrix(1 0.5333 0 1.1239 0 -318.12)" filter="url(#fl)"/><polygon points="444.5,849.0 459.4,936.6 443.9,936.6" transform="matrix(1 0.1750 0 1.1824 0 -208.55)" filter="url(#fl)"/><polygon points="457.8,479.3 473.3,479.3 472.7,569.4" transform="matrix(1 0.1050 0 1.0414 0 -66.05)" filter="url(#fl)"/><polygon points="458.5,478.9 473.4,568.9 457.9,568.9" transform="matrix(1 0.1035 0 1.0416 0 -65.47)" filter="url(#fl)"/><polygon points="457.8,567.5 473.3,567.5 472.7,655.7" transform="matrix(1 0.1035 0 1.0450 0 -67.41)" filter="url(#fl)"/><polygon points="458.5,567.1 473.4,655.3 457.9,655.3" transform="matrix(1 0.1700 0 1.0342 0 -91.78)" filter="url(#fl)"/><polygon points="457.7,654.0 473.3,653.9 472.8,688.0" transform="matrix(1 0.1700 0 1.3147 0 -275.35)" filter="url(#fm)"/><polygon points="458.4,653.5 473.5,687.5 457.9,687.6" transform="matrix(1 0.1250 0 1.3341 0 -267.47)" filter="url(#fm)"/><polygon points="457.8,686.2 473.3,686.2 472.7,766.9" transform="matrix(1 0.1250 0 1.1759 0 -158.80)" filter="url(#fl)"/><polygon points="458.5,685.8 473.4,766.5 457.9,766.5" transform="matrix(1 0.4946 0 1.1103 0 -283.25)" filter="url(#fl)"/><polygon points="457.8,765.1 473.3,765.1 472.7,851.3" transform="matrix(1 0.4946 0 1.0429 0 -231.64)" filter="url(#fl)"/><polygon points="458.5,764.7 473.4,850.8 457.9,850.8" transform="matrix(1 0.4900 0 1.0437 0 -230.10)" filter="url(#fl)"/><polygon points="457.8,849.4 473.3,849.4 472.7,937.0" transform="matrix(1 0.4900 0 1.0724 0 -254.50)" filter="url(#fl)"/><polygon points="458.5,849.0 473.4,936.6 457.9,936.6" transform="matrix(1 0.1750 0 1.1239 0 -153.78)" filter="url(#fl)"/><polygon points="471.8,479.3 487.3,479.3 486.7,569.4" transform="matrix(1 0.1050 0 1.0435 0 -67.09)" filter="url(#fl)"/><polygon points="472.5,478.9 487.4,568.9 471.9,568.9" transform="matrix(1 0.1186 0 1.0414 0 -72.50)" filter="url(#fl)"/><polygon points="471.8,567.5 487.3,567.5 486.7,655.7" transform="matrix(1 0.1186 0 1.0528 0 -79.02)" filter="url(#fl)"/><polygon points="472.5,567.1 487.4,655.3 471.9,655.3" transform="matrix(1 0.1668 0 1.0450 0 -97.36)" filter="url(#fl)"/><polygon points="471.7,654.0 487.3,653.9 486.8,688.0" transform="matrix(1 0.1668 0 1.2966 0 -262.02)" filter="url(#fm)"/><polygon points="472.4,653.5 487.5,687.5 471.9,687.6" transform="matrix(1 0.1250 0 1.3147 0 -254.10)" filter="url(#fm)"/><polygon points="471.8,686.2 487.3,686.2 486.7,766.9" transform="matrix(1 0.1250 0 1.2114 0 -183.18)" filter="url(#fl)"/><polygon points="472.5,685.8 487.4,766.5 471.9,766.5" transform="matrix(1 0.3250 0 1.1759 0 -253.32)" filter="url(#fl)"/><polygon points="471.8,765.1 487.3,765.1 486.7,851.3" transform="matrix(1 0.3250 0 1.0388 0 -148.29)" filter="url(#fl)"/><polygon points="472.5,764.7 487.4,850.8 471.9,850.8" transform="matrix(1 0.3000 0 1.0429 0 -139.65)" filter="url(#fl)"/><polygon points="471.8,849.4 487.3,849.4 486.7,937.0" transform="matrix(1 0.3000 0 1.0520 0 -147.35)" filter="url(#fl)"/><polygon points="472.5,849.0 487.4,936.6 471.9,936.6" transform="matrix(1 0.1750 0 1.0724 0 -105.63)" filter="url(#fl)"/><polygon points="485.8,479.3 501.3,479.3 500.7,569.4" transform="matrix(1 0.1050 0 1.0457 0 -68.13)" filter="url(#fl)"/><polygon points="486.5,478.9 501.4,568.9 485.9,568.9" transform="matrix(1 0.1186 0 1.0435 0 -73.73)" filter="url(#fl)"/><polygon points="485.8,567.5 501.3,567.5 500.7,655.7" transform="matrix(1 0.1186 0 1.0557 0 -80.63)" filter="url(#fl)"/><polygon points="486.5,567.1 501.4,655.3 485.9,655.3" transform="matrix(1 0.1361 0 1.0528 0 -87.53)" filter="url(#fl)"/><polygon points="485.7,654.0 501.3,653.9 500.8,688.0" transform="matrix(1 0.1361 0 1.2554 0 -220.15)" filter="url(#fm)"/><polygon points="486.4,653.5 501.5,687.5 485.9,687.6" transform="matrix(1 0.0411 0 1.2966 0 -200.82)" filter="url(#fm)"/><polygon points="485.8,686.2 501.3,686.2 500.7,766.9" transform="matrix(1 0.0411 0 1.2618 0 -176.95)" filter="url(#fl)"/><polygon points="486.5,685.8 501.4,766.5 485.9,766.5" transform="matrix(1 0.3250 0 1.2114 0 -280.50)" filter="url(#fl)"/><polygon points="485.8,765.1 501.3,765.1 500.7,851.3" transform="matrix(1 0.3250 0 1.0346 0 -145.11)" filter="url(#fl)"/><polygon points="486.5,764.7 501.4,850.8 485.9,850.8" transform="matrix(1 0.3000 0 1.0388 0 -136.12)" filter="url(#fl)"/><polygon points="485.8,849.4 501.3,849.4 500.7,937.0" transform="matrix(1 0.3000 0 1.0316 0 -129.99)" filter="url(#fl)"/><polygon points="486.5,849.0 501.4,936.6 485.9,936.6" transform="matrix(1 0.1750 0 1.0520 0 -86.52)" filter="url(#fl)"/><polygon points="499.8,479.3 515.3,479.3 514.7,569.4" transform="matrix(1 0.1050 0 1.0479 0 -69.17)" filter="url(#fl)"/><polygon points="500.5,478.9 515.4,568.9 499.9,568.9" transform="matrix(1 0.1186 0 1.0457 0 -74.96)" filter="url(#fl)"/><polygon points="499.8,567.5 515.3,567.5 514.7,655.7" transform="matrix(1 0.1186 0 1.0677 0 -87.47)" filter="url(#fl)"/><polygon points="500.5,567.1 515.4,655.3 499.9,655.3" transform="matrix(1 0.1928 0 1.0557 0 -117.78)" filter="url(#fl)"/><polygon points="499.7,654.0 515.3,653.9 514.8,688.0" transform="matrix(1 0.1928 0 1.1720 0 -193.92)" filter="url(#fm)"/><polygon points="500.4,653.5 515.5,687.5 499.9,687.6" transform="matrix(1 0.0000 0 1.2554 0 -152.01)" filter="url(#fm)"/><polygon points="499.8,686.2 515.3,686.2 514.7,766.9" transform="matrix(1 0.0000 0 1.3098 0 -189.32)" filter="url(#fl)"/><polygon points="500.5,685.8 515.4,766.5 499.9,766.5" transform="matrix(1 0.2701 0 1.2618 0 -291.62)" filter="url(#fl)"/><polygon points="499.8,765.1 515.3,765.1 514.7,851.3" transform="matrix(1 0.2701 0 1.0306 0 -114.56)" filter="url(#fl)"/><polygon points="500.5,764.7 515.4,850.8 499.9,850.8" transform="matrix(1 0.2459 0 1.0346 0 -105.52)" filter="url(#fl)"/><polygon points="499.8,849.4 515.3,849.4 514.7,937.0" transform="matrix(1 0.2459 0 1.0200 0 -93.07)" filter="url(#fl)"/><polygon points="500.5,849.0 515.4,936.6 499.9,936.6" transform="matrix(1 0.1750 0 1.0316 0 -67.41)" filter="url(#fl)"/><polygon points="513.8,479.3 529.3,479.3 528.7,569.4" transform="matrix(1 0.1050 0 1.0500 0 -70.21)" filter="url(#fl)"/><polygon points="514.5,478.9 529.4,568.9 513.9,568.9" transform="matrix(1 0.1186 0 1.0479 0 -76.19)" filter="url(#fl)"/><polygon points="513.8,567.5 529.3,567.5 528.7,655.7" transform="matrix(1 0.1186 0 1.0804 0 -94.67)" filter="url(#fl)"/><polygon points="514.5,567.1 529.4,655.3 513.9,655.3" transform="matrix(1 0.1969 0 1.0677 0 -127.73)" filter="url(#fl)"/><polygon points="513.7,654.0 529.3,653.9 528.8,688.0" transform="matrix(1 0.1969 0 1.0868 0 -140.22)" filter="url(#fm)"/><polygon points="514.4,653.5 529.5,687.5 513.9,687.6" transform="matrix(1 0.0000 0 1.1720 0 -94.68)" filter="url(#fm)"/><polygon points="513.8,686.2 529.3,686.2 528.7,766.9" transform="matrix(1 0.0000 0 1.3378 0 -208.58)" filter="url(#fl)"/><polygon points="514.5,685.8 529.4,766.5 513.9,766.5" transform="matrix(1 0.1580 0 1.3098 0 -270.63)" filter="url(#fl)"/><polygon points="513.8,765.1 529.3,765.1 528.7,851.3" transform="matrix(1 0.1580 0 1.0269 0 -54.00)" filter="url(#fl)"/><polygon points="514.5,764.7 529.4,850.8 513.9,850.8" transform="matrix(1 0.1354 0 1.0306 0 -45.25)" filter="url(#fl)"/><polygon points="513.8,849.4 529.3,849.4 528.7,937.0" transform="matrix(1 0.1354 0 1.0265 0 -41.70)" filter="url(#fl)"/><polygon points="514.5,849.0 529.4,936.6 513.9,936.6" transform="matrix(1 0.1750 0 1.0200 0 -56.56)" filter="url(#fl)"/><polygon points="527.8,479.3 543.3,479.3 542.7,569.4" transform="matrix(1 0.1050 0 1.0522 0 -71.25)" filter="url(#fl)"/><polygon points="528.5,478.9 543.4,568.9 527.9,568.9" transform="matrix(1 0.1186 0 1.0500 0 -77.42)" filter="url(#fl)"/><polygon points="527.8,567.5 543.3,567.5 542.7,655.7" transform="matrix(1 0.1186 0 1.0660 0 -86.48)" filter="url(#fl)"/><polygon points="528.5,567.1 543.4,655.3 527.9,655.3" transform="matrix(1 0.0296 0 1.0804 0 -47.63)" filter="url(#fl)"/><polygon points="527.7,654.0 543.3,653.9 542.8,688.0" transform="matrix(1 0.0296 0 1.0674 0 -39.12)" filter="url(#fm)"/><polygon points="528.4,653.5 543.5,687.5 527.9,687.6" transform="matrix(1 -0.0152 0 1.0868 0 -28.12)" filter="url(#fm)"/><polygon points="527.8,686.2 543.3,686.2 542.7,766.9" transform="matrix(1 -0.0152 0 1.3685 0 -221.66)" filter="url(#fl)"/><polygon points="528.5,685.8 543.4,766.5 527.9,766.5" transform="matrix(1 0.1580 0 1.3378 0 -292.11)" filter="url(#fl)"/><polygon points="527.8,765.1 543.3,765.1 542.7,851.3" transform="matrix(1 0.1580 0 1.0231 0 -51.13)" filter="url(#fl)"/><polygon points="528.5,764.7 543.4,850.8 527.9,850.8" transform="matrix(1 0.1354 0 1.0269 0 -42.06)" filter="url(#fl)"/><polygon points="527.8,849.4 543.3,849.4 542.7,937.0" transform="matrix(1 0.1354 0 1.0329 0 -47.19)" filter="url(#fl)"/><polygon points="528.5,849.0 543.4,936.6 527.9,936.6" transform="matrix(1 0.1750 0 1.0265 0 -62.60)" filter="url(#fl)"/><polygon points="541.8,479.3 555.0,479.3 554.4,569.4" transform="matrix(1 0.1050 0 1.0540 0 -72.11)" filter="url(#fl)"/><polygon points="542.5,478.9 555.1,568.9 541.9,568.9" transform="matrix(1 0.1186 0 1.0522 0 -78.65)" filter="url(#fl)"/><polygon points="541.8,567.5 555.0,567.5 554.4,655.7" transform="matrix(1 0.1186 0 1.0539 0 -79.62)" filter="url(#fl)"/><polygon points="542.5,567.1 555.1,655.3 541.9,655.3" transform="matrix(1 0.0296 0 1.0660 0 -38.19)" filter="url(#fl)"/><polygon points="541.7,653.9 555.0,653.9 554.5,688.0" transform="matrix(1 0.0296 0 1.0200 0 -8.10)" filter="url(#fm)"/><polygon points="542.4,653.5 555.2,687.6 541.9,687.6" transform="matrix(1 -0.1014 0 1.0674 0 32.00)" filter="url(#fm)"/><polygon points="541.8,686.2 555.0,686.2 554.4,766.9" transform="matrix(1 -0.1014 0 1.4070 0 -201.30)" filter="url(#fl)"/><polygon points="542.5,685.8 555.1,766.5 541.9,766.5" transform="matrix(1 0.1580 0 1.3685 0 -315.65)" filter="url(#fl)"/><polygon points="541.8,765.1 555.0,765.1 554.4,851.3" transform="matrix(1 0.1580 0 1.0200 0 -48.73)" filter="url(#fl)"/><polygon points="542.5,764.7 555.1,850.8 541.9,850.8" transform="matrix(1 0.1354 0 1.0231 0 -38.88)" filter="url(#fl)"/><polygon points="541.8,849.4 555.0,849.4 554.4,937.0" transform="matrix(1 0.1354 0 1.0383 0 -51.78)" filter="url(#fl)"/><polygon points="542.5,849.0 555.1,936.6 541.9,936.6" transform="matrix(1 0.1750 0 1.0329 0 -68.65)" filter="url(#fl)"/></g><g clip-path="url(#cBL)"><g clip-path="url(#cBL1)"><polygon points="177.8,494.3 193.3,494.3 192.7,599.1" transform="matrix(1 -0.0172 0 1.0223 0 -7.99)" filter="url(#fl)"/><polygon points="178.5,493.9 193.4,598.6 177.9,598.6" transform="matrix(1 0.0000 0 1.0200 0 -9.90)" filter="url(#fl)"/><polygon points="177.7,597.3 193.3,597.2 192.7,653.0" transform="matrix(1 0.0000 0 1.0226 0 -11.44)" filter="url(#fl)"/><polygon points="178.5,596.8 193.5,652.5 177.9,652.6" transform="matrix(1 0.0099 0 1.0200 0 -11.67)" filter="url(#fl)"/><polygon points="177.7,651.2 193.3,651.2 192.7,705.9" transform="matrix(1 0.0099 0 1.3488 0 -225.99)" filter="url(#fl)"/><polygon points="178.5,650.8 193.5,705.5 177.9,705.5" transform="matrix(1 0.0389 0 1.3411 0 -226.17)" filter="url(#fl)"/><polygon points="191.8,494.3 207.3,494.3 206.7,599.1" transform="matrix(1 -0.0172 0 1.0247 0 -9.15)" filter="url(#fl)"/><polygon points="192.5,493.9 207.4,598.6 191.9,598.6" transform="matrix(1 0.0000 0 1.0223 0 -11.30)" filter="url(#fl)"/><polygon points="191.7,597.3 207.3,597.2 206.7,653.0" transform="matrix(1 0.0000 0 1.0252 0 -12.98)" filter="url(#fl)"/><polygon points="192.5,596.8 207.5,652.5 191.9,652.6" transform="matrix(1 0.0099 0 1.0226 0 -13.35)" filter="url(#fl)"/><polygon points="191.7,651.2 207.3,651.2 206.7,705.9" transform="matrix(1 0.0099 0 1.3564 0 -230.99)" filter="url(#fl)"/><polygon points="192.5,650.8 207.5,705.5 191.9,705.5" transform="matrix(1 0.0389 0 1.3488 0 -231.57)" filter="url(#fl)"/><polygon points="205.8,494.3 221.3,494.3 220.7,599.1" transform="matrix(1 -0.0172 0 1.0270 0 -10.30)" filter="url(#fl)"/><polygon points="206.5,493.9 221.4,598.6 205.9,598.6" transform="matrix(1 -0.0000 0 1.0247 0 -12.69)" filter="url(#fl)"/><polygon points="205.7,597.3 221.3,597.2 220.7,653.0" transform="matrix(1 -0.0000 0 1.0277 0 -14.53)" filter="url(#fl)"/><polygon points="206.5,596.8 221.5,652.5 205.9,652.6" transform="matrix(1 0.0099 0 1.0252 0 -15.04)" filter="url(#fl)"/><polygon points="205.7,651.2 221.3,651.2 220.7,705.9" transform="matrix(1 0.0099 0 1.3641 0 -235.98)" filter="url(#fl)"/><polygon points="206.5,650.8 221.5,705.5 205.9,705.5" transform="matrix(1 0.0389 0 1.3564 0 -236.97)" filter="url(#fl)"/><polygon points="219.8,494.3 235.3,494.3 234.7,599.1" transform="matrix(1 -0.0172 0 1.0293 0 -11.46)" filter="url(#fl)"/><polygon points="220.5,493.9 235.4,598.6 219.9,598.6" transform="matrix(1 0.0000 0 1.0270 0 -14.09)" filter="url(#fl)"/><polygon points="219.7,597.3 235.3,597.2 234.7,653.0" transform="matrix(1 0.0000 0 1.0303 0 -16.07)" filter="url(#fl)"/><polygon points="220.5,596.8 235.5,652.5 219.9,652.6" transform="matrix(1 0.0099 0 1.0277 0 -16.72)" filter="url(#fl)"/><polygon points="219.7,651.2 235.3,651.2 234.7,705.9" transform="matrix(1 0.0099 0 1.3659 0 -237.15)" filter="url(#fl)"/><polygon points="220.5,650.8 235.5,705.5 219.9,705.5" transform="matrix(1 0.0167 0 1.3641 0 -237.48)" filter="url(#fl)"/><polygon points="233.8,494.3 249.3,494.3 248.7,599.1" transform="matrix(1 -0.0172 0 1.0317 0 -12.61)" filter="url(#fl)"/><polygon points="234.5,493.9 249.4,598.6 233.9,598.6" transform="matrix(1 -0.0000 0 1.0293 0 -15.48)" filter="url(#fl)"/><polygon points="233.7,597.3 249.3,597.2 248.7,653.0" transform="matrix(1 -0.0000 0 1.0329 0 -17.61)" filter="url(#fl)"/><polygon points="234.5,596.8 249.5,652.5 233.9,652.6" transform="matrix(1 0.0099 0 1.0303 0 -18.40)" filter="url(#fl)"/><polygon points="233.7,651.2 249.3,651.2 248.7,705.9" transform="matrix(1 0.0099 0 1.3557 0 -230.52)" filter="url(#fl)"/><polygon points="234.5,650.8 249.5,705.5 233.9,705.5" transform="matrix(1 -0.0286 0 1.3659 0 -228.12)" filter="url(#fl)"/><polygon points="247.8,494.3 263.3,494.3 262.7,599.1" transform="matrix(1 -0.0172 0 1.0340 0 -13.77)" filter="url(#fl)"/><polygon points="248.5,493.9 263.4,598.6 247.9,598.6" transform="matrix(1 -0.0000 0 1.0317 0 -16.88)" filter="url(#fl)"/><polygon points="247.7,597.3 263.3,597.2 262.7,653.0" transform="matrix(1 -0.0000 0 1.0355 0 -19.15)" filter="url(#fl)"/><polygon points="248.5,596.8 263.5,652.5 247.9,652.6" transform="matrix(1 0.0099 0 1.0329 0 -20.08)" filter="url(#fl)"/><polygon points="247.7,651.2 263.3,651.2 262.7,705.9" transform="matrix(1 0.0099 0 1.3455 0 -223.88)" filter="url(#fl)"/><polygon points="248.5,650.8 263.5,705.5 247.9,705.5" transform="matrix(1 -0.0286 0 1.3557 0 -220.95)" filter="url(#fl)"/><polygon points="261.8,494.3 277.3,494.3 276.7,599.1" transform="matrix(1 -0.0172 0 1.0363 0 -14.92)" filter="url(#fl)"/><polygon points="262.5,493.9 277.4,598.6 261.9,598.6" transform="matrix(1 -0.0000 0 1.0340 0 -18.27)" filter="url(#fl)"/><polygon points="261.7,597.3 277.3,597.2 276.7,653.0" transform="matrix(1 -0.0000 0 1.0380 0 -20.69)" filter="url(#fl)"/><polygon points="262.5,596.8 277.5,652.5 261.9,652.6" transform="matrix(1 0.0099 0 1.0355 0 -21.76)" filter="url(#fl)"/><polygon points="261.7,651.2 277.3,651.2 276.7,705.9" transform="matrix(1 0.0099 0 1.3354 0 -217.24)" filter="url(#fl)"/><polygon points="262.5,650.8 277.5,705.5 261.9,705.5" transform="matrix(1 -0.0286 0 1.3455 0 -213.77)" filter="url(#fl)"/><polygon points="275.8,494.3 291.3,494.3 290.7,599.1" transform="matrix(1 -0.0172 0 1.0387 0 -16.08)" filter="url(#fl)"/><polygon points="276.5,493.9 291.4,598.6 275.9,598.6" transform="matrix(1 -0.0000 0 1.0363 0 -19.67)" filter="url(#fl)"/><polygon points="275.7,597.3 291.3,597.2 290.7,653.0" transform="matrix(1 -0.0000 0 1.0406 0 -22.23)" filter="url(#fl)"/><polygon points="276.5,596.8 291.5,652.5 275.9,652.6" transform="matrix(1 0.0099 0 1.0380 0 -23.44)" filter="url(#fl)"/><polygon points="275.7,651.2 291.3,651.2 290.7,705.9" transform="matrix(1 0.0099 0 1.3252 0 -210.61)" filter="url(#fl)"/><polygon points="276.5,650.8 291.5,705.5 275.9,705.5" transform="matrix(1 -0.0286 0 1.3354 0 -206.59)" filter="url(#fl)"/><polygon points="289.8,494.3 305.3,494.3 304.7,599.1" transform="matrix(1 -0.0172 0 1.0410 0 -17.23)" filter="url(#fl)"/><polygon points="290.5,493.9 305.4,598.6 289.9,598.6" transform="matrix(1 -0.0000 0 1.0387 0 -21.06)" filter="url(#fl)"/><polygon points="289.7,597.3 305.3,597.2 304.7,653.0" transform="matrix(1 -0.0000 0 1.0432 0 -23.78)" filter="url(#fl)"/><polygon points="290.5,596.8 305.5,652.5 289.9,652.6" transform="matrix(1 0.0099 0 1.0406 0 -25.12)" filter="url(#fl)"/><polygon points="289.7,651.2 305.3,651.2 304.7,705.9" transform="matrix(1 0.0099 0 1.3175 0 -205.59)" filter="url(#fl)"/><polygon points="290.5,650.8 305.5,705.5 289.9,705.5" transform="matrix(1 -0.0192 0 1.3252 0 -202.15)" filter="url(#fl)"/><polygon points="303.8,494.3 319.3,494.3 318.7,599.1" transform="matrix(1 -0.0172 0 1.0433 0 -18.39)" filter="url(#fl)"/><polygon points="304.5,493.9 319.4,598.6 303.9,598.6" transform="matrix(1 0.0000 0 1.0410 0 -22.46)" filter="url(#fl)"/><polygon points="303.7,597.3 319.3,597.2 318.7,653.0" transform="matrix(1 0.0000 0 1.0458 0 -25.32)" filter="url(#fl)"/><polygon points="304.5,596.8 319.5,652.5 303.9,652.6" transform="matrix(1 0.0099 0 1.0432 0 -26.80)" filter="url(#fl)"/><polygon points="303.7,651.2 319.3,651.2 318.7,705.9" transform="matrix(1 0.0099 0 1.3149 0 -203.88)" filter="url(#fl)"/><polygon points="304.5,650.8 319.5,705.5 303.9,705.5" transform="matrix(1 -0.0000 0 1.3175 0 -202.56)" filter="url(#fl)"/><polygon points="317.8,494.3 333.3,494.3 332.7,599.1" transform="matrix(1 -0.0172 0 1.0457 0 -19.54)" filter="url(#fl)"/><polygon points="318.5,493.9 333.4,598.6 317.9,598.6" transform="matrix(1 -0.0000 0 1.0433 0 -23.85)" filter="url(#fl)"/><polygon points="317.7,597.3 333.3,597.2 332.7,653.0" transform="matrix(1 -0.0000 0 1.0484 0 -26.86)" filter="url(#fl)"/><polygon points="318.5,596.8 333.5,652.5 317.9,652.6" transform="matrix(1 0.0099 0 1.0458 0 -28.48)" filter="url(#fl)"/><polygon points="317.7,651.2 333.3,651.2 332.7,705.9" transform="matrix(1 0.0099 0 1.3122 0 -202.16)" filter="url(#fl)"/><polygon points="318.5,650.8 333.5,705.5 317.9,705.5" transform="matrix(1 0.0000 0 1.3149 0 -200.71)" filter="url(#fl)"/><polygon points="331.8,494.3 347.3,494.3 346.7,599.1" transform="matrix(1 -0.0172 0 1.0480 0 -20.70)" filter="url(#fl)"/><polygon points="332.5,493.9 347.4,598.6 331.9,598.6" transform="matrix(1 0.0000 0 1.0457 0 -25.25)" filter="url(#fl)"/><polygon points="331.7,597.3 347.3,597.2 346.7,653.0" transform="matrix(1 0.0000 0 1.0509 0 -28.40)" filter="url(#fl)"/><polygon points="332.5,596.8 347.5,652.5 331.9,652.6" transform="matrix(1 0.0099 0 1.0484 0 -30.16)" filter="url(#fl)"/><polygon points="331.7,651.2 347.3,651.2 346.7,705.9" transform="matrix(1 0.0099 0 1.3096 0 -200.45)" filter="url(#fl)"/><polygon points="332.5,650.8 347.5,705.5 331.9,705.5" transform="matrix(1 0.0000 0 1.3122 0 -198.86)" filter="url(#fl)"/><polygon points="345.8,494.3 361.3,494.3 360.7,599.1" transform="matrix(1 -0.0172 0 1.0503 0 -21.85)" filter="url(#fl)"/><polygon points="346.5,493.9 361.4,598.6 345.9,598.6" transform="matrix(1 0.0000 0 1.0480 0 -26.64)" filter="url(#fl)"/><polygon points="345.7,597.3 361.3,597.2 360.7,653.0" transform="matrix(1 0.0000 0 1.0535 0 -29.94)" filter="url(#fl)"/><polygon points="346.5,596.8 361.5,652.5 345.9,652.6" transform="matrix(1 0.0099 0 1.0509 0 -31.84)" filter="url(#fl)"/><polygon points="345.7,651.2 361.3,651.2 360.7,705.9" transform="matrix(1 0.0099 0 1.3070 0 -198.74)" filter="url(#fl)"/><polygon points="346.5,650.8 361.5,705.5 345.9,705.5" transform="matrix(1 0.0000 0 1.3096 0 -197.01)" filter="url(#fl)"/><polygon points="359.8,494.3 375.3,494.3 374.7,599.1" transform="matrix(1 -0.0172 0 1.0527 0 -23.01)" filter="url(#fl)"/><polygon points="360.5,493.9 375.4,598.6 359.9,598.6" transform="matrix(1 -0.0000 0 1.0503 0 -28.04)" filter="url(#fl)"/><polygon points="359.7,597.3 375.3,597.2 374.7,653.0" transform="matrix(1 -0.0000 0 1.0561 0 -31.48)" filter="url(#fl)"/><polygon points="360.5,596.8 375.5,652.5 359.9,652.6" transform="matrix(1 0.0099 0 1.0535 0 -33.52)" filter="url(#fl)"/><polygon points="359.7,651.2 375.3,651.2 374.7,705.9" transform="matrix(1 0.0099 0 1.3043 0 -197.03)" filter="url(#fl)"/><polygon points="360.5,650.8 375.5,705.5 359.9,705.5" transform="matrix(1 0.0000 0 1.3070 0 -195.16)" filter="url(#fl)"/><polygon points="373.8,494.3 389.3,494.3 388.7,599.1" transform="matrix(1 -0.0172 0 1.0801 0 -36.57)" filter="url(#fl)"/><polygon points="374.5,493.9 389.4,598.6 373.9,598.6" transform="matrix(1 0.1843 0 1.0527 0 -98.47)" filter="url(#fl)"/><polygon points="373.7,597.3 389.3,597.2 388.7,653.0" transform="matrix(1 0.1843 0 1.0850 0 -117.80)" filter="url(#fl)"/><polygon points="374.5,596.8 389.5,652.5 373.9,652.6" transform="matrix(1 0.2956 0 1.0561 0 -142.22)" filter="url(#fl)"/><polygon points="373.7,651.2 389.3,651.2 388.7,705.9" transform="matrix(1 0.2956 0 1.2912 0 -295.44)" filter="url(#fl)"/><polygon points="374.5,650.8 389.5,705.5 373.9,705.5" transform="matrix(1 0.2457 0 1.3043 0 -285.35)" filter="url(#fl)"/><polygon points="387.8,494.3 403.3,494.3 402.7,599.1" transform="matrix(1 -0.0172 0 1.1232 0 -57.92)" filter="url(#fl)"/><polygon points="388.5,493.9 403.4,598.6 387.9,598.6" transform="matrix(1 0.3000 0 1.0801 0 -159.82)" filter="url(#fl)"/><polygon points="387.7,597.3 403.3,597.2 402.7,653.0" transform="matrix(1 0.3000 0 1.1304 0 -189.94)" filter="url(#fl)"/><polygon points="388.5,596.8 403.5,652.5 387.9,652.6" transform="matrix(1 0.4750 0 1.0850 0 -230.77)" filter="url(#fl)"/><polygon points="387.7,651.2 403.3,651.2 402.7,705.9" transform="matrix(1 0.4750 0 1.2713 0 -352.22)" filter="url(#fl)"/><polygon points="388.5,650.8 403.5,705.5 387.9,705.5" transform="matrix(1 0.4000 0 1.2912 0 -336.01)" filter="url(#fl)"/><polygon points="401.8,494.3 417.3,494.3 416.7,599.1" transform="matrix(1 -0.0172 0 1.1663 0 -79.27)" filter="url(#fl)"/><polygon points="402.5,493.9 417.4,598.6 401.9,598.6" transform="matrix(1 0.3000 0 1.1232 0 -185.61)" filter="url(#fl)"/><polygon points="401.7,597.3 417.3,597.2 416.7,653.0" transform="matrix(1 0.3000 0 1.1759 0 -217.10)" filter="url(#fl)"/><polygon points="402.5,596.8 417.5,652.5 401.9,652.6" transform="matrix(1 0.4750 0 1.1304 0 -260.39)" filter="url(#fl)"/><polygon points="401.7,651.2 417.3,651.2 416.7,705.9" transform="matrix(1 0.4750 0 1.2515 0 -339.30)" filter="url(#fl)"/><polygon points="402.5,650.8 417.5,705.5 401.9,705.5" transform="matrix(1 0.4000 0 1.2713 0 -322.03)" filter="url(#fl)"/><polygon points="415.8,494.3 431.3,494.3 430.7,599.1" transform="matrix(1 -0.0172 0 1.2433 0 -117.37)" filter="url(#fl)"/><polygon points="416.5,493.9 431.4,598.6 415.9,598.6" transform="matrix(1 0.5488 0 1.1663 0 -315.04)" filter="url(#fl)"/><polygon points="415.7,597.3 431.3,597.2 430.7,653.0" transform="matrix(1 0.5488 0 1.2431 0 -360.93)" filter="url(#fl)"/><polygon points="416.5,596.8 431.5,652.5 415.9,652.6" transform="matrix(1 0.8076 0 1.1759 0 -428.57)" filter="url(#fl)"/><polygon points="415.7,651.2 431.3,651.2 430.7,705.9" transform="matrix(1 0.8076 0 1.2009 0 -444.89)" filter="url(#fl)"/><polygon points="416.5,650.8 431.5,705.5 415.9,705.5" transform="matrix(1 0.6163 0 1.2515 0 -398.17)" filter="url(#fl)"/><polygon points="429.8,494.3 445.3,494.3 444.7,599.1" transform="matrix(1 -0.0172 0 1.3311 0 -160.84)" filter="url(#fl)"/><polygon points="430.5,493.9 445.4,598.6 429.9,598.6" transform="matrix(1 0.6286 0 1.2433 0 -395.42)" filter="url(#fl)"/><polygon points="429.7,597.3 445.3,597.2 444.7,653.0" transform="matrix(1 0.6286 0 1.3173 0 -439.64)" filter="url(#fl)"/><polygon points="430.5,596.8 445.5,652.5 429.9,652.6" transform="matrix(1 0.9143 0 1.2431 0 -518.31)" filter="url(#fl)"/><polygon points="429.7,651.2 445.3,651.2 444.7,705.9" transform="matrix(1 0.9143 0 1.1405 0 -451.42)" filter="url(#fl)"/><polygon points="430.5,650.8 445.5,705.5 429.9,705.5" transform="matrix(1 0.6857 0 1.2009 0 -392.40)" filter="url(#fl)"/><polygon points="443.8,494.3 459.3,494.3 458.7,599.1" transform="matrix(1 -0.0172 0 1.4249 0 -207.28)" filter="url(#fl)"/><polygon points="444.5,493.9 459.4,598.6 443.9,598.6" transform="matrix(1 0.6727 0 1.3311 0 -467.53)" filter="url(#fl)"/><polygon points="443.7,597.3 459.3,597.2 458.7,653.0" transform="matrix(1 0.6727 0 1.3813 0 -497.51)" filter="url(#fl)"/><polygon points="444.5,596.8 459.5,652.5 443.9,652.6" transform="matrix(1 0.9192 0 1.3173 0 -568.85)" filter="url(#fl)"/><polygon points="443.7,651.2 459.3,651.2 458.7,705.9" transform="matrix(1 0.9192 0 1.0774 0 -412.51)" filter="url(#fl)"/><polygon points="444.5,650.8 459.5,705.5 443.9,705.5" transform="matrix(1 0.6808 0 1.1405 0 -347.62)" filter="url(#fl)"/><polygon points="457.8,494.3 470.7,494.3 470.1,599.1" transform="matrix(1 -0.0172 0 1.5154 0 -252.07)" filter="url(#fl)"/><polygon points="458.5,493.9 470.8,598.6 457.9,598.6" transform="matrix(1 0.8000 0 1.4249 0 -582.03)" filter="url(#fl)"/><polygon points="457.7,597.2 470.7,597.2 470.1,653.0" transform="matrix(1 0.8000 0 1.4095 0 -572.77)" filter="url(#fl)"/><polygon points="458.5,596.8 470.9,652.6 457.9,652.6" transform="matrix(1 0.9333 0 1.3813 0 -617.06)" filter="url(#fl)"/><polygon points="457.7,651.2 470.7,651.2 470.1,705.9" transform="matrix(1 0.9333 0 1.0200 0 -381.57)" filter="url(#fl)"/><polygon points="458.5,650.7 470.9,705.5 457.9,705.5" transform="matrix(1 0.6667 0 1.0774 0 -296.70)" filter="url(#fl)"/></g><g clip-path="url(#cBL2)"><polygon points="177.8,699.3 193.3,699.3 192.7,791.3" transform="matrix(1 0.1824 0 1.0200 0 -44.18)" filter="url(#fl)"/><polygon points="178.5,698.9 193.4,790.9 177.9,790.9" transform="matrix(1 0.1824 0 1.0200 0 -44.18)" filter="url(#fl)"/><polygon points="177.7,789.6 193.3,789.5 192.8,821.7" transform="matrix(1 0.1824 0 1.1372 0 -136.79)" filter="url(#fh)"/><polygon points="178.4,789.1 193.5,821.2 177.9,821.3" transform="matrix(1 -0.0560 0 1.2470 0 -181.00)" filter="url(#fh)"/><polygon points="177.7,819.9 193.3,819.9 192.8,866.2" transform="matrix(1 -0.0560 0 1.1787 0 -124.94)" filter="url(#fm)"/><polygon points="178.4,819.5 193.5,865.7 177.9,865.8" transform="matrix(1 -0.0741 0 1.1844 0 -126.38)" filter="url(#fm)"/><polygon points="177.7,864.4 193.3,864.4 192.7,921.1" transform="matrix(1 -0.0741 0 1.0950 0 -48.99)" filter="url(#fl)"/><polygon points="178.5,864.0 193.5,920.7 177.9,920.7" transform="matrix(1 -0.0659 0 1.0929 0 -48.64)" filter="url(#fl)"/><polygon points="191.8,699.3 207.3,699.3 206.7,791.3" transform="matrix(1 0.0104 0 1.0200 0 -11.05)" filter="url(#fl)"/><polygon points="192.5,698.9 207.4,790.9 191.9,790.9" transform="matrix(1 0.0104 0 1.0200 0 -11.05)" filter="url(#fl)"/><polygon points="191.7,789.6 207.3,789.5 206.8,821.7" transform="matrix(1 0.0104 0 1.1066 0 -79.49)" filter="url(#fh)"/><polygon points="192.4,789.1 207.5,821.2 191.9,821.3" transform="matrix(1 -0.0560 0 1.1372 0 -90.87)" filter="url(#fh)"/><polygon points="191.7,819.9 207.3,819.9 206.8,866.2" transform="matrix(1 -0.0560 0 1.1730 0 -120.25)" filter="url(#fm)"/><polygon points="192.4,819.5 207.5,865.7 191.9,865.8" transform="matrix(1 -0.0741 0 1.1787 0 -121.44)" filter="url(#fm)"/><polygon points="191.7,864.4 207.3,864.4 206.7,921.1" transform="matrix(1 -0.0741 0 1.0971 0 -50.81)" filter="url(#fl)"/><polygon points="192.5,864.0 207.5,920.7 191.9,920.7" transform="matrix(1 -0.0659 0 1.0950 0 -50.57)" filter="url(#fl)"/><polygon points="205.8,699.3 221.3,699.3 220.7,791.3" transform="matrix(1 0.0000 0 1.0200 0 -8.90)" filter="url(#fl)"/><polygon points="206.5,698.9 221.4,790.9 205.9,790.9" transform="matrix(1 0.0000 0 1.0200 0 -8.90)" filter="url(#fl)"/><polygon points="205.7,789.6 221.3,789.5 220.8,821.7" transform="matrix(1 0.0000 0 1.0808 0 -56.95)" filter="url(#fh)"/><polygon points="206.4,789.1 221.5,821.2 205.9,821.3" transform="matrix(1 -0.0560 0 1.1066 0 -65.76)" filter="url(#fh)"/><polygon points="205.7,819.9 221.3,819.9 220.8,866.2" transform="matrix(1 -0.0560 0 1.1673 0 -115.57)" filter="url(#fm)"/><polygon points="206.4,819.5 221.5,865.7 205.9,865.8" transform="matrix(1 -0.0741 0 1.1730 0 -116.51)" filter="url(#fm)"/><polygon points="205.7,864.4 221.3,864.4 220.7,921.1" transform="matrix(1 -0.0741 0 1.0992 0 -52.62)" filter="url(#fl)"/><polygon points="206.5,864.0 221.5,920.7 205.9,920.7" transform="matrix(1 -0.0659 0 1.0971 0 -52.51)" filter="url(#fl)"/><polygon points="219.8,699.3 235.3,699.3 234.7,791.3" transform="matrix(1 -0.0559 0 1.0200 0 3.43)" filter="url(#fl)"/><polygon points="220.5,698.9 235.4,790.9 219.9,790.9" transform="matrix(1 -0.0559 0 1.0200 0 3.43)" filter="url(#fl)"/><polygon points="219.7,789.6 235.3,789.5 234.8,821.7" transform="matrix(1 -0.0559 0 1.0754 0 -40.34)" filter="url(#fh)"/><polygon points="220.4,789.1 235.5,821.2 219.9,821.3" transform="matrix(1 -0.0676 0 1.0808 0 -42.03)" filter="url(#fh)"/><polygon points="219.7,819.9 235.3,819.9 234.8,866.2" transform="matrix(1 -0.0676 0 1.1653 0 -111.33)" filter="url(#fm)"/><polygon points="220.4,819.5 235.5,865.7 219.9,865.8" transform="matrix(1 -0.0741 0 1.1673 0 -111.57)" filter="url(#fm)"/><polygon points="219.7,864.4 235.3,864.4 234.7,921.1" transform="matrix(1 -0.0741 0 1.1013 0 -54.44)" filter="url(#fl)"/><polygon points="220.5,864.0 235.5,920.7 219.9,920.7" transform="matrix(1 -0.0659 0 1.0992 0 -54.44)" filter="url(#fl)"/><polygon points="233.8,699.3 249.3,699.3 248.7,791.3" transform="matrix(1 -0.1304 0 1.0200 0 20.92)" filter="url(#fl)"/><polygon points="234.5,698.9 249.4,790.9 233.9,790.9" transform="matrix(1 -0.1304 0 1.0200 0 20.92)" filter="url(#fl)"/><polygon points="233.7,789.6 249.3,789.5 248.8,821.7" transform="matrix(1 -0.1304 0 1.0972 0 -40.07)" filter="url(#fh)"/><polygon points="234.4,789.1 249.5,821.2 233.9,821.3" transform="matrix(1 -0.0832 0 1.0754 0 -33.95)" filter="url(#fh)"/><polygon points="233.7,819.9 249.3,819.9 248.8,866.2" transform="matrix(1 -0.0832 0 1.1681 0 -110.02)" filter="url(#fm)"/><polygon points="234.4,819.5 249.5,865.7 233.9,865.8" transform="matrix(1 -0.0741 0 1.1653 0 -109.80)" filter="url(#fm)"/><polygon points="233.7,864.4 249.3,864.4 248.7,921.1" transform="matrix(1 -0.0741 0 1.1034 0 -56.26)" filter="url(#fl)"/><polygon points="234.5,864.0 249.5,920.7 233.9,920.7" transform="matrix(1 -0.0659 0 1.1013 0 -56.37)" filter="url(#fl)"/><polygon points="247.8,699.3 263.3,699.3 262.7,791.3" transform="matrix(1 -0.1304 0 1.0200 0 20.92)" filter="url(#fl)"/><polygon points="248.5,698.9 263.4,790.9 247.9,790.9" transform="matrix(1 -0.1304 0 1.0200 0 20.92)" filter="url(#fl)"/><polygon points="247.7,789.6 263.3,789.5 262.8,821.7" transform="matrix(1 -0.1304 0 1.1190 0 -57.28)" filter="url(#fh)"/><polygon points="248.4,789.1 263.5,821.2 247.9,821.3" transform="matrix(1 -0.0832 0 1.0972 0 -51.82)" filter="url(#fh)"/><polygon points="247.7,819.9 263.3,819.9 262.8,866.2" transform="matrix(1 -0.0832 0 1.1709 0 -112.35)" filter="url(#fm)"/><polygon points="248.4,819.5 263.5,865.7 247.9,865.8" transform="matrix(1 -0.0741 0 1.1681 0 -112.26)" filter="url(#fm)"/><polygon points="247.7,864.4 263.3,864.4 262.7,921.1" transform="matrix(1 -0.0741 0 1.1055 0 -58.07)" filter="url(#fl)"/><polygon points="248.5,864.0 263.5,920.7 247.9,920.7" transform="matrix(1 -0.0659 0 1.1034 0 -58.30)" filter="url(#fl)"/><polygon points="261.8,699.3 277.3,699.3 276.7,791.3" transform="matrix(1 -0.1241 0 1.0200 0 19.26)" filter="url(#fl)"/><polygon points="262.5,698.9 277.4,790.9 261.9,790.9" transform="matrix(1 -0.1241 0 1.0200 0 19.26)" filter="url(#fl)"/><polygon points="261.7,789.6 277.3,789.5 276.8,821.7" transform="matrix(1 -0.1241 0 1.1363 0 -72.65)" filter="url(#fh)"/><polygon points="262.4,789.1 277.5,821.2 261.9,821.3" transform="matrix(1 -0.0864 0 1.1190 0 -68.83)" filter="url(#fh)"/><polygon points="261.7,819.9 277.3,819.9 276.8,866.2" transform="matrix(1 -0.0864 0 1.1748 0 -114.66)" filter="url(#fm)"/><polygon points="262.4,819.5 277.5,865.7 261.9,865.8" transform="matrix(1 -0.0741 0 1.1709 0 -114.71)" filter="url(#fm)"/><polygon points="261.7,864.4 277.3,864.4 276.7,921.1" transform="matrix(1 -0.0741 0 1.1076 0 -59.89)" filter="url(#fl)"/><polygon points="262.5,864.0 277.5,920.7 261.9,920.7" transform="matrix(1 -0.0659 0 1.1055 0 -60.24)" filter="url(#fl)"/><polygon points="275.8,699.3 291.3,699.3 290.7,791.3" transform="matrix(1 -0.1205 0 1.0200 0 18.26)" filter="url(#fl)"/><polygon points="276.5,698.9 291.4,790.9 275.9,790.9" transform="matrix(1 -0.1205 0 1.0200 0 18.26)" filter="url(#fl)"/><polygon points="275.7,789.6 291.3,789.5 290.8,821.7" transform="matrix(1 -0.1205 0 1.1342 0 -72.02)" filter="url(#fh)"/><polygon points="276.4,789.1 291.5,821.2 275.9,821.3" transform="matrix(1 -0.1250 0 1.1363 0 -72.41)" filter="url(#fh)"/><polygon points="275.7,819.9 291.3,819.9 290.8,866.2" transform="matrix(1 -0.1250 0 1.1908 0 -117.13)" filter="url(#fm)"/><polygon points="276.4,819.5 291.5,865.7 275.9,865.8" transform="matrix(1 -0.0741 0 1.1748 0 -118.06)" filter="url(#fm)"/><polygon points="275.7,864.4 291.3,864.4 290.7,921.1" transform="matrix(1 -0.0741 0 1.1097 0 -61.71)" filter="url(#fl)"/><polygon points="276.5,864.0 291.5,920.7 275.9,920.7" transform="matrix(1 -0.0659 0 1.1076 0 -62.17)" filter="url(#fl)"/><polygon points="289.8,699.3 305.3,699.3 304.7,791.3" transform="matrix(1 -0.1205 0 1.0200 0 18.26)" filter="url(#fl)"/><polygon points="290.5,698.9 305.4,790.9 289.9,790.9" transform="matrix(1 -0.1205 0 1.0200 0 18.26)" filter="url(#fl)"/><polygon points="289.7,789.6 305.3,789.5 304.8,821.7" transform="matrix(1 -0.1205 0 1.1322 0 -70.38)" filter="url(#fh)"/><polygon points="290.4,789.1 305.5,821.2 289.9,821.3" transform="matrix(1 -0.1250 0 1.1342 0 -70.71)" filter="url(#fh)"/><polygon points="289.7,819.9 305.3,819.9 304.8,866.2" transform="matrix(1 -0.1250 0 1.2062 0 -129.76)" filter="url(#fm)"/><polygon points="290.4,819.5 305.5,865.7 289.9,865.8" transform="matrix(1 -0.0761 0 1.1908 0 -131.35)" filter="url(#fm)"/><polygon points="289.7,864.4 305.3,864.4 304.7,921.1" transform="matrix(1 -0.0761 0 1.1086 0 -60.19)" filter="url(#fl)"/><polygon points="290.5,864.0 305.5,920.7 289.9,920.7" transform="matrix(1 -0.0804 0 1.1097 0 -59.89)" filter="url(#fl)"/><polygon points="303.8,699.3 319.3,699.3 318.7,791.3" transform="matrix(1 -0.0929 0 1.0200 0 9.86)" filter="url(#fl)"/><polygon points="304.5,698.9 319.4,790.9 303.9,790.9" transform="matrix(1 -0.0929 0 1.0200 0 9.86)" filter="url(#fl)"/><polygon points="303.7,789.6 319.3,789.5 318.8,821.7" transform="matrix(1 -0.0929 0 1.1353 0 -81.26)" filter="url(#fh)"/><polygon points="304.4,789.1 319.5,821.2 303.9,821.3" transform="matrix(1 -0.0861 0 1.1322 0 -80.85)" filter="url(#fh)"/><polygon points="303.7,819.9 319.3,819.9 318.8,866.2" transform="matrix(1 -0.0861 0 1.2081 0 -143.19)" filter="url(#fm)"/><polygon points="304.4,819.5 319.5,865.7 303.9,865.8" transform="matrix(1 -0.0800 0 1.2062 0 -143.47)" filter="url(#fm)"/><polygon points="303.7,864.4 319.3,864.4 318.7,921.1" transform="matrix(1 -0.0800 0 1.1009 0 -52.38)" filter="url(#fl)"/><polygon points="304.5,864.0 319.5,920.7 303.9,920.7" transform="matrix(1 -0.1100 0 1.1086 0 -49.86)" filter="url(#fl)"/><polygon points="317.8,699.3 333.3,699.3 332.7,791.3" transform="matrix(1 -0.0881 0 1.0200 0 8.31)" filter="url(#fl)"/><polygon points="318.5,698.9 333.4,790.9 317.9,790.9" transform="matrix(1 -0.0881 0 1.0200 0 8.31)" filter="url(#fl)"/><polygon points="317.7,789.6 333.3,789.5 332.8,821.7" transform="matrix(1 -0.0881 0 1.1394 0 -86.00)" filter="url(#fh)"/><polygon points="318.4,789.1 333.5,821.2 317.9,821.3" transform="matrix(1 -0.0793 0 1.1353 0 -85.61)" filter="url(#fh)"/><polygon points="317.7,819.9 333.3,819.9 332.8,866.2" transform="matrix(1 -0.0793 0 1.2079 0 -145.19)" filter="url(#fm)"/><polygon points="318.4,819.5 333.5,865.7 317.9,865.8" transform="matrix(1 -0.0800 0 1.2081 0 -145.14)" filter="url(#fm)"/><polygon points="317.7,864.4 333.3,864.4 332.7,921.1" transform="matrix(1 -0.0800 0 1.0933 0 -45.76)" filter="url(#fl)"/><polygon points="318.5,864.0 333.5,920.7 317.9,920.7" transform="matrix(1 -0.1100 0 1.1009 0 -42.82)" filter="url(#fl)"/><polygon points="331.8,699.3 347.3,699.3 346.7,791.3" transform="matrix(1 -0.0521 0 1.0200 0 -3.67)" filter="url(#fl)"/><polygon points="332.5,698.9 347.4,790.9 331.9,790.9" transform="matrix(1 -0.0521 0 1.0200 0 -3.67)" filter="url(#fl)"/><polygon points="331.7,789.6 347.3,789.5 346.8,821.7" transform="matrix(1 -0.0521 0 1.1289 0 -89.72)" filter="url(#fh)"/><polygon points="332.4,789.1 347.5,821.2 331.9,821.3" transform="matrix(1 -0.0748 0 1.1394 0 -90.43)" filter="url(#fh)"/><polygon points="331.7,819.9 347.3,819.9 346.8,866.2" transform="matrix(1 -0.0748 0 1.2063 0 -145.34)" filter="url(#fm)"/><polygon points="332.4,819.5 347.5,865.7 331.9,865.8" transform="matrix(1 -0.0800 0 1.2079 0 -144.95)" filter="url(#fm)"/><polygon points="331.7,864.4 347.3,864.4 346.7,921.1" transform="matrix(1 -0.0800 0 1.0856 0 -39.14)" filter="url(#fl)"/><polygon points="332.5,864.0 347.5,920.7 331.9,920.7" transform="matrix(1 -0.1100 0 1.0933 0 -35.78)" filter="url(#fl)"/><polygon points="345.8,699.3 361.3,699.3 360.7,791.3" transform="matrix(1 0.0192 0 1.0200 0 -28.36)" filter="url(#fl)"/><polygon points="346.5,698.9 361.4,790.9 345.9,790.9" transform="matrix(1 0.0192 0 1.0200 0 -28.36)" filter="url(#fl)"/><polygon points="345.7,789.6 361.3,789.5 360.8,821.7" transform="matrix(1 0.0192 0 1.1201 0 -107.43)" filter="url(#fh)"/><polygon points="346.4,789.1 361.5,821.2 345.9,821.3" transform="matrix(1 0.0000 0 1.1289 0 -107.76)" filter="url(#fh)"/><polygon points="345.7,819.9 361.3,819.9 360.8,866.2" transform="matrix(1 0.0000 0 1.1811 0 -150.59)" filter="url(#fm)"/><polygon points="346.4,819.5 361.5,865.7 345.9,865.8" transform="matrix(1 -0.0800 0 1.2063 0 -143.52)" filter="url(#fm)"/><polygon points="345.7,864.4 361.3,864.4 360.7,921.1" transform="matrix(1 -0.0800 0 1.0780 0 -32.52)" filter="url(#fl)"/><polygon points="346.5,864.0 361.5,920.7 345.9,920.7" transform="matrix(1 -0.1100 0 1.0856 0 -28.74)" filter="url(#fl)"/><polygon points="359.8,699.3 375.3,699.3 374.7,791.3" transform="matrix(1 0.0192 0 1.0200 0 -28.36)" filter="url(#fl)"/><polygon points="360.5,698.9 375.4,790.9 359.9,790.9" transform="matrix(1 0.0192 0 1.0200 0 -28.36)" filter="url(#fl)"/><polygon points="359.7,789.6 375.3,789.5 374.8,821.7" transform="matrix(1 0.0192 0 1.1142 0 -102.81)" filter="url(#fh)"/><polygon points="360.4,789.1 375.5,821.2 359.9,821.3" transform="matrix(1 0.0065 0 1.1201 0 -102.85)" filter="url(#fh)"/><polygon points="359.7,819.9 375.3,819.9 374.8,866.2" transform="matrix(1 0.0065 0 1.1539 0 -130.60)" filter="url(#fm)"/><polygon points="360.4,819.5 375.5,865.7 359.9,865.8" transform="matrix(1 -0.0800 0 1.1811 0 -121.74)" filter="url(#fm)"/><polygon points="359.7,864.4 375.3,864.4 374.7,921.1" transform="matrix(1 -0.0800 0 1.0703 0 -25.90)" filter="url(#fl)"/><polygon points="360.5,864.0 375.5,920.7 359.9,920.7" transform="matrix(1 -0.1100 0 1.0780 0 -21.70)" filter="url(#fl)"/><polygon points="373.8,699.3 389.3,699.3 388.7,791.3" transform="matrix(1 0.0192 0 1.0200 0 -28.36)" filter="url(#fl)"/><polygon points="374.5,698.9 389.4,790.9 373.9,790.9" transform="matrix(1 0.0192 0 1.0200 0 -28.36)" filter="url(#fl)"/><polygon points="373.7,789.6 389.3,789.5 388.8,821.7" transform="matrix(1 0.0192 0 1.1333 0 -117.92)" filter="url(#fh)"/><polygon points="374.4,789.1 389.5,821.2 373.9,821.3" transform="matrix(1 0.0607 0 1.1142 0 -118.36)" filter="url(#fh)"/><polygon points="373.7,819.9 389.3,819.9 388.8,866.2" transform="matrix(1 0.0607 0 1.1096 0 -114.58)" filter="url(#fm)"/><polygon points="374.4,819.5 389.5,865.7 373.9,865.8" transform="matrix(1 -0.0800 0 1.1539 0 -98.20)" filter="url(#fm)"/><polygon points="373.7,864.4 389.3,864.4 388.7,921.1" transform="matrix(1 -0.0800 0 1.0627 0 -19.29)" filter="url(#fl)"/><polygon points="374.5,864.0 389.5,920.7 373.9,920.7" transform="matrix(1 -0.1100 0 1.0703 0 -14.67)" filter="url(#fl)"/><polygon points="387.8,699.3 403.3,699.3 402.7,791.3" transform="matrix(1 0.0192 0 1.0200 0 -28.36)" filter="url(#fl)"/><polygon points="388.5,698.9 403.4,790.9 387.9,790.9" transform="matrix(1 0.0192 0 1.0200 0 -28.36)" filter="url(#fl)"/><polygon points="387.7,789.6 403.3,789.5 402.8,821.7" transform="matrix(1 0.0192 0 1.1524 0 -133.02)" filter="url(#fh)"/><polygon points="388.4,789.1 403.5,821.2 387.9,821.3" transform="matrix(1 0.0607 0 1.1333 0 -134.04)" filter="url(#fh)"/><polygon points="387.7,819.9 403.3,819.9 402.8,866.2" transform="matrix(1 0.0607 0 1.0759 0 -86.88)" filter="url(#fm)"/><polygon points="388.4,819.5 403.5,865.7 387.9,865.8" transform="matrix(1 -0.0466 0 1.1096 0 -72.89)" filter="url(#fm)"/><polygon points="387.7,864.4 403.3,864.4 402.7,921.1" transform="matrix(1 -0.0466 0 1.0585 0 -28.64)" filter="url(#fl)"/><polygon points="388.5,864.0 403.5,920.7 387.9,920.7" transform="matrix(1 -0.0630 0 1.0627 0 -25.88)" filter="url(#fl)"/><polygon points="401.8,699.3 417.3,699.3 416.7,791.3" transform="matrix(1 0.1768 0 1.0200 0 -91.80)" filter="url(#fl)"/><polygon points="402.5,698.9 417.4,790.9 401.9,790.9" transform="matrix(1 0.1768 0 1.0200 0 -91.80)" filter="url(#fl)"/><polygon points="401.7,789.6 417.3,789.5 416.8,821.7" transform="matrix(1 0.1768 0 1.1390 0 -185.84)" filter="url(#fh)"/><polygon points="402.4,789.1 417.5,821.2 401.9,821.3" transform="matrix(1 0.1476 0 1.1524 0 -184.71)" filter="url(#fh)"/><polygon points="401.7,819.9 417.3,819.9 416.8,866.2" transform="matrix(1 0.1476 0 1.0609 0 -109.57)" filter="url(#fm)"/><polygon points="402.4,819.5 417.5,865.7 401.9,865.8" transform="matrix(1 0.1000 0 1.0759 0 -102.70)" filter="url(#fm)"/><polygon points="401.7,864.4 417.3,864.4 416.7,921.1" transform="matrix(1 0.1000 0 1.0694 0 -97.11)" filter="url(#fl)"/><polygon points="402.5,864.0 417.5,920.7 401.9,920.7" transform="matrix(1 0.1429 0 1.0585 0 -104.91)" filter="url(#fl)"/><polygon points="415.8,699.3 431.3,699.3 430.7,791.3" transform="matrix(1 0.2305 0 1.0200 0 -114.20)" filter="url(#fl)"/><polygon points="416.5,698.9 431.4,790.9 415.9,790.9" transform="matrix(1 0.2305 0 1.0200 0 -114.20)" filter="url(#fl)"/><polygon points="415.7,789.6 431.3,789.5 430.8,821.7" transform="matrix(1 0.2305 0 1.1067 0 -182.72)" filter="url(#fh)"/><polygon points="416.4,789.1 431.5,821.2 415.9,821.3" transform="matrix(1 0.1604 0 1.1390 0 -179.03)" filter="url(#fh)"/><polygon points="415.7,819.9 431.3,819.9 430.8,866.2" transform="matrix(1 0.1604 0 1.0419 0 -99.31)" filter="url(#fm)"/><polygon points="416.4,819.5 431.5,865.7 415.9,865.8" transform="matrix(1 0.1000 0 1.0609 0 -89.75)" filter="url(#fm)"/><polygon points="415.7,864.4 431.3,864.4 430.7,921.1" transform="matrix(1 0.1000 0 1.0803 0 -106.56)" filter="url(#fl)"/><polygon points="416.5,864.0 431.5,920.7 415.9,920.7" transform="matrix(1 0.1429 0 1.0694 0 -114.96)" filter="url(#fl)"/><polygon points="429.8,699.3 445.3,699.3 444.7,791.3" transform="matrix(1 0.2638 0 1.0200 0 -128.52)" filter="url(#fl)"/><polygon points="430.5,698.9 445.4,790.9 429.9,790.9" transform="matrix(1 0.2638 0 1.0200 0 -128.52)" filter="url(#fl)"/><polygon points="429.7,789.6 445.3,789.5 444.8,821.7" transform="matrix(1 0.2638 0 1.0885 0 -182.65)" filter="url(#fh)"/><polygon points="430.4,789.1 445.5,821.2 429.9,821.3" transform="matrix(1 0.2243 0 1.1067 0 -180.02)" filter="url(#fh)"/><polygon points="429.7,819.9 445.3,819.9 444.8,866.2" transform="matrix(1 0.2243 0 1.0200 0 -108.87)" filter="url(#fm)"/><polygon points="430.4,819.5 445.5,865.7 429.9,865.8" transform="matrix(1 0.1548 0 1.0419 0 -96.88)" filter="url(#fm)"/><polygon points="429.7,864.4 445.3,864.4 444.7,921.1" transform="matrix(1 0.1548 0 1.0773 0 -127.52)" filter="url(#fl)"/><polygon points="430.5,864.0 445.5,920.7 429.9,920.7" transform="matrix(1 0.1429 0 1.0803 0 -125.02)" filter="url(#fl)"/><polygon points="443.8,699.3 459.3,699.3 458.7,791.3" transform="matrix(1 0.3132 0 1.0200 0 -150.49)" filter="url(#fl)"/><polygon points="444.5,698.9 459.4,790.9 443.9,790.9" transform="matrix(1 0.3132 0 1.0200 0 -150.49)" filter="url(#fl)"/><polygon points="443.7,789.6 459.3,789.5 458.8,821.7" transform="matrix(1 0.3132 0 1.0559 0 -178.86)" filter="url(#fh)"/><polygon points="444.4,789.1 459.5,821.2 443.9,821.3" transform="matrix(1 0.2424 0 1.0885 0 -173.16)" filter="url(#fh)"/><polygon points="443.7,819.9 459.3,819.9 458.8,866.2" transform="matrix(1 0.2424 0 1.0276 0 -123.20)" filter="url(#fm)"/><polygon points="444.4,819.5 459.5,865.7 443.9,865.8" transform="matrix(1 0.2667 0 1.0200 0 -127.72)" filter="url(#fm)"/><polygon points="443.7,864.4 459.3,864.4 458.7,921.1" transform="matrix(1 0.2667 0 1.0457 0 -149.96)" filter="url(#fl)"/><polygon points="444.5,864.0 459.5,920.7 443.9,920.7" transform="matrix(1 0.1429 0 1.0773 0 -122.22)" filter="url(#fl)"/><polygon points="457.8,699.3 470.7,699.3 470.1,791.3" transform="matrix(1 0.3382 0 1.0200 0 -161.94)" filter="url(#fl)"/><polygon points="458.5,698.9 470.8,790.9 457.9,790.9" transform="matrix(1 0.3382 0 1.0200 0 -161.94)" filter="url(#fl)"/><polygon points="457.7,789.6 470.7,789.5 470.2,821.7" transform="matrix(1 0.3382 0 1.0200 0 -161.94)" filter="url(#fh)"/><polygon points="458.4,789.1 470.9,821.2 457.9,821.3" transform="matrix(1 0.2424 0 1.0559 0 -146.41)" filter="url(#fh)"/><polygon points="457.7,819.9 470.7,819.9 470.1,866.2" transform="matrix(1 0.2424 0 1.0338 0 -128.30)" filter="url(#fm)"/><polygon points="458.5,819.5 470.9,865.8 457.9,865.8" transform="matrix(1 0.2667 0 1.0276 0 -134.32)" filter="url(#fm)"/><polygon points="457.7,864.4 470.7,864.4 470.1,921.1" transform="matrix(1 0.2667 0 1.0200 0 -127.72)" filter="url(#fl)"/><polygon points="458.5,864.0 470.9,920.7 457.9,920.7" transform="matrix(1 0.1429 0 1.0457 0 -93.18)" filter="url(#fl)"/></g></g></g><g clip-path="url(#cB)"><g clip-path="url(#cBL)"><g filter="url(#bl1)" fill="none" stroke-linejoin="round"><polyline points="178.6,797.4 193.4,800.1 228.6,800.1 267.7,795.0 306.7,790.3 341.9,787.2 404.4,788.4 423.9,792.3 449.3,799.0 452.0,799.9" stroke="#fff" stroke-width="3" stroke-opacity="0.85"/><polyline points="178.6,801.4 193.4,804.1 228.6,804.1 267.7,799.0 306.7,794.3 341.9,791.2 404.4,792.4 423.9,796.3 449.3,803.0 452.0,803.9" stroke="#000" stroke-width="3.2" stroke-opacity="0.8"/><polyline points="178.6,805.9 193.4,808.6 228.6,808.6 267.7,803.5 306.7,798.8 341.9,795.7 404.4,796.9 423.9,800.8 449.3,807.5 452.0,808.4" stroke="#fff" stroke-width="2.8" stroke-opacity="0.6"/><polyline points="178.6,809.9 193.4,812.6 228.6,812.6 267.7,807.5 306.7,802.8 341.9,799.7 404.4,800.9 423.9,804.8 449.3,811.5 452.0,812.4" stroke="#000" stroke-width="2.4" stroke-opacity="0.5"/><polyline points="178.6,813.9 193.4,816.6 228.6,816.6 267.7,811.5 306.7,806.8 341.9,803.7 404.4,804.9 423.9,808.8 449.3,815.5 452.0,816.4" stroke="#fff" stroke-width="3" stroke-opacity="0.8"/><polyline points="178.6,818.4 193.4,821.1 228.6,821.1 267.7,816.0 306.7,811.3 341.9,808.2 404.4,809.4 423.9,813.3 449.3,820.0 452.0,820.9" stroke="#000" stroke-width="3.2" stroke-opacity="0.8"/><polyline points="178.6,822.9 193.4,825.6 228.6,825.6 267.7,820.5 306.7,815.8 341.9,812.7 404.4,813.9 423.9,817.8 449.3,824.5 452.0,825.4" stroke="#fff" stroke-width="2.4" stroke-opacity="0.6"/><polyline points="178.6,827.4 193.4,830.1 228.6,830.1 267.7,825.0 306.7,820.3 341.9,817.2 404.4,818.4 423.9,822.3 449.3,829.0 452.0,829.9" stroke="#000" stroke-width="3" stroke-opacity="0.7"/><polyline points="178.6,832.4 193.4,835.1 228.6,835.1 267.7,830.0 306.7,825.3 341.9,822.2 404.4,823.4 423.9,827.3 449.3,834.0 452.0,834.9" stroke="#fff" stroke-width="3" stroke-opacity="0.7"/></g></g></g><g clip-path="url(#cB)"><polyline points="178.6,794.4 193.4,797.1 228.6,797.1 267.7,792.0 306.7,787.3 341.9,784.2 404.4,785.4 423.9,789.3 449.3,796.0" fill="none" stroke="#20a8f0" stroke-width="1.25" stroke-linejoin="round"/><polyline points="178.6,796.5 193.4,799.5 228.6,799.5 267.7,794.5 306.7,789.6 341.9,786.6 404.4,787.6 423.9,791.6 439.5,796.0" fill="none" stroke="#20e8c0" stroke-width="1.25" stroke-linejoin="round"/><polyline points="181.7,802.2 236.4,802.2 267.7,798.3 306.7,794.4 341.9,791.2 365.3,793.2 404.4,791.2 427.8,796.0" fill="none" stroke="#1010f0" stroke-width="1.25" stroke-linejoin="round"/><polyline points="189.5,808.8 240.3,808.0 287.2,803.0 326.2,799.0 345.8,796.3 365.3,798.3 423.9,798.3" fill="none" stroke="#f01010" stroke-width="1.25" stroke-linejoin="round"/><polyline points="178.6,822.5 228.6,821.3 255.9,817.2 306.7,809.2 334.0,806.9 384.8,805.3 429.8,808.0" fill="none" stroke="#f8a800" stroke-width="1.25" stroke-linejoin="round"/><polyline points="254.0,821.2 287.2,816.3 326.2,811.6 381.0,808.5 404.4,810.8 431.0,814.3" fill="none" stroke="#10e810" stroke-width="1.25" stroke-linejoin="round"/><polyline points="178.6,832.3 228.6,829.5 275.5,825.6 306.7,821.7 345.8,818.6 373.1,818.6 404.4,820.5 433.7,825.2" fill="none" stroke="#f8a0f0" stroke-width="1.25" stroke-linejoin="round"/><polyline points="485.3,667.7 504.4,670.3 527.3,675.2 529.0,676.9 540.5,676.9 552.0,674.6" fill="none" stroke="#20a8f0" stroke-width="1.25" stroke-linejoin="round"/><polyline points="486.3,682.5 514.2,684.4 533.9,685.1 537.2,686.7 554.3,686.7" fill="none" stroke="#20e8c0" stroke-width="1.25" stroke-linejoin="round"/><polyline points="491.2,710.4 540.5,710.4 553.6,708.7" fill="none" stroke="#f8a0f0" stroke-width="1.25" stroke-linejoin="round"/><polyline points="470.0,549.0 474.8,608.0 478.7,663.7 484.6,704.8 485.5,708.0" fill="none" stroke="#9400d0" stroke-width="2.9" stroke-linejoin="round"/><polyline points="486.8,712.0 494.5,737.6 507.6,778.7 530.6,806.6 554.3,832.2" fill="none" stroke="#9400d0" stroke-width="2.9" stroke-linejoin="round" stroke-dasharray="22 5"/><rect x="468.1" y="549.8" width="4.4" height="4.4" fill="#9400d0"/><rect x="472.6" y="605.8" width="4.4" height="4.4" fill="#9400d0"/><rect x="476.5" y="661.5" width="4.4" height="4.4" fill="#9400d0"/><polyline points="521.5,549.0 515.8,645.7 510.9,711.4 507.0,767.2" fill="none" stroke="#d09000" stroke-width="2.4" stroke-linejoin="round" stroke-dasharray="26 5"/><polyline points="461.0,595.8 459.4,638.5 459.4,685.1 456.7,730.4 453.4,789.2 447.9,828.0 443.6,855.9 436.4,866.7 420.0,888.0 398.3,900.9 374.6,911.0" fill="none" stroke="#000" stroke-width="2.2" stroke-linejoin="round" stroke-dasharray="10 5"/><rect x="458.8" y="593.6" width="4.4" height="4.4" fill="#000"/><rect x="457.2" y="636.3" width="4.4" height="4.4" fill="#000"/><rect x="457.2" y="682.9" width="4.4" height="4.4" fill="#000"/><rect x="454.5" y="728.2" width="4.4" height="4.4" fill="#000"/><rect x="451.2" y="787.0" width="4.4" height="4.4" fill="#000"/><rect x="445.7" y="825.8" width="4.4" height="4.4" fill="#000"/><rect x="441.4" y="853.7" width="4.4" height="4.4" fill="#000"/><rect x="434.2" y="864.5" width="4.4" height="4.4" fill="#000"/><rect x="417.8" y="885.8" width="4.4" height="4.4" fill="#000"/><rect x="396.1" y="898.7" width="4.4" height="4.4" fill="#000"/><rect x="372.4" y="908.8" width="4.4" height="4.4" fill="#000"/><line x1="501.7" y1="549" x2="501.7" y2="713" stroke="#e01010" stroke-width="2.2"/><circle cx="501.7" cy="665.4" r="1.7" fill="#fff" stroke="#e01010" stroke-width="0.8"/><circle cx="501.7" cy="703.5" r="1.7" fill="#fff" stroke="#e01010" stroke-width="0.8"/><path d="M501.7 710.5l2.2 4h-4.4z" fill="#fff" stroke="#e01010" stroke-width="0.8"/><text x="451.5" y="563.8" font-size="15.3" fill="#e01010" textLength="99.7" lengthAdjust="spacingAndGlyphs">JOYA MAIR-04</text></g><text x="507.6" y="658.3" font-size="10.8" fill="#e01010" font-style="italic" textLength="49.5" lengthAdjust="spacingAndGlyphs">CHORGALI</text><text x="507.6" y="695.5" font-size="10.8" fill="#e01010" font-style="italic" textLength="32.0" lengthAdjust="spacingAndGlyphs">TOBRA</text><text x="507.6" y="706.0" font-size="10.8" fill="#e01010" font-style="italic" textLength="61.8" lengthAdjust="spacingAndGlyphs">SALT RANGE</text><rect x="47.5" y="876" width="147.5" height="108.3" fill="none" stroke="#000" stroke-width="1.4"/><line x1="108" y1="876" x2="185" y2="984.3" stroke="#000" stroke-width="0.9"/><g stroke="#f02020" stroke-width="1" fill="none"><circle cx="62.5" cy="901" r="12"/><path d="M49.0 901H76.0M62.5 876V917" stroke-width="0.9"/><path d="M58.3 907V895L66.7 907V895" stroke-width="1"/><path d="M62.5 875.5l-1.6 5.5q1.6 -1.2 3.2 0z" fill="#f02020" stroke-width="0.5"/><path d="M60.5 884.5h4" stroke-width="0.9"/></g><circle cx="143.5" cy="923.5" r="2.6" fill="#1818f0"/><text x="107.5" y="939.0" font-size="11.3" fill="#1818f0" textLength="71.0" lengthAdjust="spacingAndGlyphs">MINWAL X-01</text><g stroke="#f02020" stroke-width="0.9" fill="none"><circle cx="127.5" cy="939" r="3.2"/><path d="M122.8 939H132.2M127.5 934.3V943.7"/></g><text x="90.0" y="955.0" font-size="11.3" fill="#e02020" textLength="75.0" lengthAdjust="spacingAndGlyphs">JOYA MAIR-04</text><rect x="239" y="953.4" width="274" height="8.200000000000045" fill="#1818f0"/><rect x="250" y="954.3" width="11" height="6.4" fill="#fff"/><rect x="272" y="954.3" width="11" height="6.4" fill="#fff"/><rect x="294" y="954.3" width="54" height="6.4" fill="#fff"/><rect x="403" y="954.3" width="54.5" height="6.4" fill="#fff"/><text x="239.0" y="947.1" font-size="8.8064" fill="#1818f0" text-anchor="middle" font-weight="bold" font-style="italic">0</text><text x="294.0" y="947.1" font-size="8.8064" fill="#1818f0" text-anchor="middle" font-weight="bold" font-style="italic">1000</text><text x="349.0" y="947.1" font-size="8.8064" fill="#1818f0" text-anchor="middle" font-weight="bold" font-style="italic">2000</text><text x="404.0" y="947.1" font-size="8.8064" fill="#1818f0" text-anchor="middle" font-weight="bold" font-style="italic">3000</text><text x="458.0" y="947.1" font-size="8.8064" fill="#1818f0" text-anchor="middle" font-weight="bold" font-style="italic">4000</text><text x="515.0" y="947.1" font-size="8.8064" fill="#1818f0" text-anchor="middle" font-weight="bold" font-style="italic">5000m</text><text x="375.0" y="974.1" font-size="8.8064" fill="#1818f0" text-anchor="middle" font-weight="bold" font-style="italic">1:50000</text><rect x="45.6" y="550.2" width="249.6" height="16.3" fill="#fff" stroke="#000" stroke-width="1"/><text x="48.5" y="559.6" font-size="10.1" fill="#1818f0" font-weight="bold" textLength="232.5" lengthAdjust="spacingAndGlyphs">INTERPRETED SEISMIC TIME SECTION @ 93-MN-07</text><rect x="48.3" y="572.3" width="95.89999999999999" height="161.70000000000005" fill="#fff" stroke="#444" stroke-width="0.8"/><text x="96.0" y="583.4" font-size="9.8304" fill="#111" text-anchor="middle" font-weight="bold" textLength="76.8" lengthAdjust="spacingAndGlyphs">Seismic (default)</text><rect x="59.4" y="590.6" width="19.800000000000004" height="136.89999999999998" fill="url(#cb)" stroke="#222" stroke-width="0.8"/><text x="84.4" y="597.3" font-size="10.5472" fill="#222" textLength="22.7" lengthAdjust="spacingAndGlyphs">12.50</text><text x="84.4" y="610.6" font-size="10.5472" fill="#222" textLength="22.7" lengthAdjust="spacingAndGlyphs">10.00</text><text x="84.4" y="623.9" font-size="10.5472" fill="#222" textLength="17.7" lengthAdjust="spacingAndGlyphs">7.50</text><text x="84.4" y="637.2" font-size="10.5472" fill="#222" textLength="17.7" lengthAdjust="spacingAndGlyphs">5.00</text><text x="84.4" y="650.5" font-size="10.5472" fill="#222" textLength="17.7" lengthAdjust="spacingAndGlyphs">2.50</text><text x="84.4" y="663.7" font-size="10.5472" fill="#222" textLength="17.7" lengthAdjust="spacingAndGlyphs">0.00</text><text x="84.4" y="677.0" font-size="10.5472" fill="#222" textLength="20.7" lengthAdjust="spacingAndGlyphs">-2.50</text><text x="84.4" y="690.3" font-size="10.5472" fill="#222" textLength="20.7" lengthAdjust="spacingAndGlyphs">-5.00</text><text x="84.4" y="703.6" font-size="10.5472" fill="#222" textLength="20.7" lengthAdjust="spacingAndGlyphs">-7.50</text><text x="84.4" y="716.9" font-size="10.5472" fill="#222" textLength="25.7" lengthAdjust="spacingAndGlyphs">-10.00</text><text x="84.4" y="730.1" font-size="10.5472" fill="#222" textLength="25.7" lengthAdjust="spacingAndGlyphs">-12.50</text><path d="M79.2 593.7h2.5M79.2 607.0h2.5M79.2 620.3h2.5M79.2 633.5h2.5M79.2 646.8h2.5M79.2 660.1h2.5M79.2 673.4h2.5M79.2 686.7h2.5M79.2 699.9h2.5M79.2 713.2h2.5M79.2 726.5h2.5" stroke="#222" stroke-width="1"/><rect x="577.2" y="646.6" width="167.5999999999999" height="340.4" fill="#fff" stroke="#000" stroke-width="1.6"/><text x="661.0" y="656.0" font-size="10.149999999999999" fill="#111" text-anchor="middle" font-weight="bold" textLength="74.3" lengthAdjust="spacingAndGlyphs">Symbol legend</text><g clip-path="url(#cLB)"><line x1="582.3" y1="672.5" x2="600.5" y2="672.5" stroke="#d01010" stroke-width="1.4"/><text x="603.5" y="676.1" font-size="10.149999999999999" fill="#111" font-weight="bold" textLength="71.5" lengthAdjust="spacingAndGlyphs">JOYA MAIR-04</text><line x1="582.3" y1="692.7" x2="600.5" y2="692.7" stroke="#20a8f0" stroke-width="1.4"/><text x="603.5" y="696.3" font-size="10.149999999999999" fill="#111" font-weight="bold" textLength="169.6" lengthAdjust="spacingAndGlyphs">CHORGALI-D: MINWAL-JOYAMAIR</text><line x1="582.3" y1="713.0" x2="600.5" y2="713.0" stroke="#20e8c0" stroke-width="1.4"/><text x="603.5" y="716.6" font-size="10.149999999999999" fill="#111" font-weight="bold" textLength="162.9" lengthAdjust="spacingAndGlyphs">SAKESAR-D: MINWAL-JOYAMAIR</text><line x1="582.3" y1="733.2" x2="600.5" y2="733.2" stroke="#f01010" stroke-width="1.4"/><text x="603.5" y="736.8" font-size="10.149999999999999" fill="#111" font-weight="bold" textLength="169.5" lengthAdjust="spacingAndGlyphs">LOCKHART-D: MINWAL-JOYAMAIR</text><line x1="582.3" y1="753.4" x2="600.5" y2="753.4" stroke="#10e810" stroke-width="1.4"/><text x="603.5" y="757.0" font-size="10.149999999999999" fill="#111" font-weight="bold" textLength="149.5" lengthAdjust="spacingAndGlyphs">TOBRA-D: MINWAL-JOYAMAIR</text><line x1="582.3" y1="773.6" x2="600.5" y2="773.6" stroke="#20a8f0" stroke-width="1.4"/><text x="603.5" y="777.3" font-size="10.149999999999999" fill="#111" font-weight="bold" textLength="169.6" lengthAdjust="spacingAndGlyphs">CHORGALI-U: MINWAL-JOYAMAIR</text><line x1="582.3" y1="793.9" x2="600.5" y2="793.9" stroke="#20a8f0" stroke-width="1.4"/><text x="603.5" y="797.5" font-size="10.149999999999999" fill="#111" font-weight="bold" textLength="133.2" lengthAdjust="spacingAndGlyphs">CHORGALI-U: BLK-3D-2017</text><line x1="582.3" y1="814.1" x2="600.5" y2="814.1" stroke="#20e8c0" stroke-width="1.4"/><text x="603.5" y="817.7" font-size="10.149999999999999" fill="#111" font-weight="bold" textLength="162.9" lengthAdjust="spacingAndGlyphs">SAKESAR-U: MINWAL-JOYAMAIR</text><line x1="582.3" y1="834.3" x2="600.5" y2="834.3" stroke="#1010f0" stroke-width="1.4"/><text x="603.5" y="837.9" font-size="10.149999999999999" fill="#111" font-weight="bold" textLength="169.5" lengthAdjust="spacingAndGlyphs">LOCKHART-U: MINWAL-JOYAMAIR</text><line x1="582.3" y1="854.6" x2="600.5" y2="854.6" stroke="#f8a800" stroke-width="1.4"/><text x="603.5" y="858.2" font-size="10.149999999999999" fill="#111" font-weight="bold" textLength="149.5" lengthAdjust="spacingAndGlyphs">TOBRA-U: MINWAL-JOYAMAIR</text><line x1="582.3" y1="874.8" x2="600.5" y2="874.8" stroke="#10e810" stroke-width="1.4"/><text x="603.5" y="878.4" font-size="10.149999999999999" fill="#111" font-weight="bold" textLength="159.0" lengthAdjust="spacingAndGlyphs">KHEWRA-U: MINWAL-JOYAMAIR</text><line x1="582.3" y1="895.0" x2="600.5" y2="895.0" stroke="#f8a0f0" stroke-width="1.4"/><text x="603.5" y="898.6" font-size="10.149999999999999" fill="#111" font-weight="bold" textLength="178.4" lengthAdjust="spacingAndGlyphs">SALT RANGE-U: MINWAL-JOYAMAIR</text><line x1="582.3" y1="915.3" x2="600.5" y2="915.3" stroke="#9400d0" stroke-width="1.4"/><text x="603.5" y="918.9" font-size="10.149999999999999" fill="#111" font-weight="bold" textLength="106.5" lengthAdjust="spacingAndGlyphs">Fault interpretation 1</text><line x1="582.3" y1="935.5" x2="600.5" y2="935.5" stroke="#d09000" stroke-width="1.4"/><text x="603.5" y="939.1" font-size="10.149999999999999" fill="#111" font-weight="bold" textLength="106.5" lengthAdjust="spacingAndGlyphs">Fault interpretation 7</text><line x1="582.3" y1="955.7" x2="600.5" y2="955.7" stroke="#000" stroke-width="1.4" stroke-dasharray="10.5 3 4 3"/><text x="603.5" y="959.3" font-size="10.149999999999999" fill="#111" font-weight="bold" textLength="10.6" lengthAdjust="spacingAndGlyphs">F2</text><line x1="582.3" y1="976.0" x2="600.5" y2="976.0" stroke="#f0f000" stroke-width="1.4"/><text x="603.5" y="979.6" font-size="10.149999999999999" fill="#111" font-weight="bold" textLength="158.4" lengthAdjust="spacingAndGlyphs">BASEMENT: MINWAL-JOYAMAIR</text></g><text x="69.7" y="542.4" font-size="10.5472" fill="#222" text-anchor="middle" textLength="22.6" lengthAdjust="spacingAndGlyphs">-2000</text><text x="69.7" y="1003.4" font-size="10.5472" fill="#222" text-anchor="middle" textLength="22.6" lengthAdjust="spacingAndGlyphs">-2000</text><text x="124.2" y="542.4" font-size="10.5472" fill="#222" text-anchor="middle" textLength="22.6" lengthAdjust="spacingAndGlyphs">-1000</text><text x="124.2" y="1003.4" font-size="10.5472" fill="#222" text-anchor="middle" textLength="22.6" lengthAdjust="spacingAndGlyphs">-1000</text><text x="178.8" y="542.4" font-size="10.5472" fill="#222" text-anchor="middle" textLength="4.9" lengthAdjust="spacingAndGlyphs">0</text><text x="178.8" y="1003.4" font-size="10.5472" fill="#222" text-anchor="middle" textLength="4.9" lengthAdjust="spacingAndGlyphs">0</text><text x="233.4" y="542.4" font-size="10.5472" fill="#222" text-anchor="middle" textLength="19.7" lengthAdjust="spacingAndGlyphs">1000</text><text x="233.4" y="1003.4" font-size="10.5472" fill="#222" text-anchor="middle" textLength="19.7" lengthAdjust="spacingAndGlyphs">1000</text><text x="287.9" y="542.4" font-size="10.5472" fill="#222" text-anchor="middle" textLength="19.7" lengthAdjust="spacingAndGlyphs">2000</text><text x="287.9" y="1003.4" font-size="10.5472" fill="#222" text-anchor="middle" textLength="19.7" lengthAdjust="spacingAndGlyphs">2000</text><text x="342.5" y="542.4" font-size="10.5472" fill="#222" text-anchor="middle" textLength="19.7" lengthAdjust="spacingAndGlyphs">3000</text><text x="342.5" y="1003.4" font-size="10.5472" fill="#222" text-anchor="middle" textLength="19.7" lengthAdjust="spacingAndGlyphs">3000</text><text x="397.0" y="542.4" font-size="10.5472" fill="#222" text-anchor="middle" textLength="19.7" lengthAdjust="spacingAndGlyphs">4000</text><text x="397.0" y="1003.4" font-size="10.5472" fill="#222" text-anchor="middle" textLength="19.7" lengthAdjust="spacingAndGlyphs">4000</text><text x="451.6" y="542.4" font-size="10.5472" fill="#222" text-anchor="middle" textLength="19.7" lengthAdjust="spacingAndGlyphs">5000</text><text x="451.6" y="1003.4" font-size="10.5472" fill="#222" text-anchor="middle" textLength="19.7" lengthAdjust="spacingAndGlyphs">5000</text><text x="506.1" y="542.4" font-size="10.5472" fill="#222" text-anchor="middle" textLength="19.7" lengthAdjust="spacingAndGlyphs">6000</text><text x="506.1" y="1003.4" font-size="10.5472" fill="#222" text-anchor="middle" textLength="19.7" lengthAdjust="spacingAndGlyphs">6000</text><text x="560.7" y="542.4" font-size="10.5472" fill="#222" text-anchor="middle" textLength="19.7" lengthAdjust="spacingAndGlyphs">7000</text><text x="560.7" y="1003.4" font-size="10.5472" fill="#222" text-anchor="middle" textLength="19.7" lengthAdjust="spacingAndGlyphs">7000</text><text x="615.2" y="542.4" font-size="10.5472" fill="#222" text-anchor="middle" textLength="19.7" lengthAdjust="spacingAndGlyphs">8000</text><text x="615.2" y="1003.4" font-size="10.5472" fill="#222" text-anchor="middle" textLength="19.7" lengthAdjust="spacingAndGlyphs">8000</text><text x="669.8" y="542.4" font-size="10.5472" fill="#222" text-anchor="middle" textLength="19.7" lengthAdjust="spacingAndGlyphs">9000</text><text x="669.8" y="1003.4" font-size="10.5472" fill="#222" text-anchor="middle" textLength="19.7" lengthAdjust="spacingAndGlyphs">9000</text><text x="724.3" y="542.4" font-size="10.5472" fill="#222" text-anchor="middle" textLength="24.6" lengthAdjust="spacingAndGlyphs">10000</text><text x="724.3" y="1003.4" font-size="10.5472" fill="#222" text-anchor="middle" textLength="24.6" lengthAdjust="spacingAndGlyphs">10000</text><text x="36.0" y="610.2" font-size="10.5472" fill="#222" text-anchor="middle" textLength="16.2" lengthAdjust="spacingAndGlyphs" transform="rotate(-90 36.0 610.2)">-800</text><text x="752.7" y="610.2" font-size="10.5472" fill="#222" text-anchor="middle" textLength="16.2" lengthAdjust="spacingAndGlyphs" transform="rotate(90 752.7 610.2)">-800</text><text x="36.0" y="675.0" font-size="10.5472" fill="#222" text-anchor="middle" textLength="20.7" lengthAdjust="spacingAndGlyphs" transform="rotate(-90 36.0 675.0)">-1200</text><text x="752.7" y="675.0" font-size="10.5472" fill="#222" text-anchor="middle" textLength="20.7" lengthAdjust="spacingAndGlyphs" transform="rotate(90 752.7 675.0)">-1200</text><text x="36.0" y="739.8" font-size="10.5472" fill="#222" text-anchor="middle" textLength="20.7" lengthAdjust="spacingAndGlyphs" transform="rotate(-90 36.0 739.8)">-1600</text><text x="752.7" y="739.8" font-size="10.5472" fill="#222" text-anchor="middle" textLength="20.7" lengthAdjust="spacingAndGlyphs" transform="rotate(90 752.7 739.8)">-1600</text><text x="36.0" y="804.6" font-size="10.5472" fill="#222" text-anchor="middle" textLength="20.7" lengthAdjust="spacingAndGlyphs" transform="rotate(-90 36.0 804.6)">-2000</text><text x="752.7" y="804.6" font-size="10.5472" fill="#222" text-anchor="middle" textLength="20.7" lengthAdjust="spacingAndGlyphs" transform="rotate(90 752.7 804.6)">-2000</text><text x="36.0" y="869.4" font-size="10.5472" fill="#222" text-anchor="middle" textLength="20.7" lengthAdjust="spacingAndGlyphs" transform="rotate(-90 36.0 869.4)">-2400</text><text x="752.7" y="869.4" font-size="10.5472" fill="#222" text-anchor="middle" textLength="20.7" lengthAdjust="spacingAndGlyphs" transform="rotate(90 752.7 869.4)">-2400</text><text x="36.0" y="934.2" font-size="10.5472" fill="#222" text-anchor="middle" textLength="20.7" lengthAdjust="spacingAndGlyphs" transform="rotate(-90 36.0 934.2)">-2800</text><text x="752.7" y="934.2" font-size="10.5472" fill="#222" text-anchor="middle" textLength="20.7" lengthAdjust="spacingAndGlyphs" transform="rotate(90 752.7 934.2)">-2800</text><path d="M47.88 548.3v-1.7M47.88 988.7v1.7M53.34 548.3v-1.7M53.34 988.7v1.7M58.79 548.3v-1.7M58.79 988.7v1.7M64.25 548.3v-1.7M64.25 988.7v1.7M69.70 548.3v-3.5M69.70 988.7v3.5M75.16 548.3v-1.7M75.16 988.7v1.7M80.61 548.3v-1.7M80.61 988.7v1.7M86.07 548.3v-1.7M86.07 988.7v1.7M91.52 548.3v-1.7M91.52 988.7v1.7M96.98 548.3v-2.7M96.98 988.7v2.7M102.43 548.3v-1.7M102.43 988.7v1.7M107.89 548.3v-1.7M107.89 988.7v1.7M113.34 548.3v-1.7M113.34 988.7v1.7M118.80 548.3v-1.7M118.80 988.7v1.7M124.25 548.3v-3.5M124.25 988.7v3.5M129.71 548.3v-1.7M129.71 988.7v1.7M135.16 548.3v-1.7M135.16 988.7v1.7M140.62 548.3v-1.7M140.62 988.7v1.7M146.07 548.3v-1.7M146.07 988.7v1.7M151.53 548.3v-2.7M151.53 988.7v2.7M156.98 548.3v-1.7M156.98 988.7v1.7M162.44 548.3v-1.7M162.44 988.7v1.7M167.89 548.3v-1.7M167.89 988.7v1.7M173.34 548.3v-1.7M173.34 988.7v1.7M178.80 548.3v-3.5M178.80 988.7v3.5M184.26 548.3v-1.7M184.26 988.7v1.7M189.71 548.3v-1.7M189.71 988.7v1.7M195.17 548.3v-1.7M195.17 988.7v1.7M200.62 548.3v-1.7M200.62 988.7v1.7M206.08 548.3v-2.7M206.08 988.7v2.7M211.53 548.3v-1.7M211.53 988.7v1.7M216.99 548.3v-1.7M216.99 988.7v1.7M222.44 548.3v-1.7M222.44 988.7v1.7M227.90 548.3v-1.7M227.90 988.7v1.7M233.35 548.3v-3.5M233.35 988.7v3.5M238.81 548.3v-1.7M238.81 988.7v1.7M244.26 548.3v-1.7M244.26 988.7v1.7M249.72 548.3v-1.7M249.72 988.7v1.7M255.17 548.3v-1.7M255.17 988.7v1.7M260.62 548.3v-2.7M260.62 988.7v2.7M266.08 548.3v-1.7M266.08 988.7v1.7M271.54 548.3v-1.7M271.54 988.7v1.7M276.99 548.3v-1.7M276.99 988.7v1.7M282.44 548.3v-1.7M282.44 988.7v1.7M287.90 548.3v-3.5M287.90 988.7v3.5M293.36 548.3v-1.7M293.36 988.7v1.7M298.81 548.3v-1.7M298.81 988.7v1.7M304.26 548.3v-1.7M304.26 988.7v1.7M309.72 548.3v-1.7M309.72 988.7v1.7M315.18 548.3v-2.7M315.18 988.7v2.7M320.63 548.3v-1.7M320.63 988.7v1.7M326.09 548.3v-1.7M326.09 988.7v1.7M331.54 548.3v-1.7M331.54 988.7v1.7M337.00 548.3v-1.7M337.00 988.7v1.7M342.45 548.3v-3.5M342.45 988.7v3.5M347.90 548.3v-1.7M347.90 988.7v1.7M353.36 548.3v-1.7M353.36 988.7v1.7M358.82 548.3v-1.7M358.82 988.7v1.7M364.27 548.3v-1.7M364.27 988.7v1.7M369.73 548.3v-2.7M369.73 988.7v2.7M375.18 548.3v-1.7M375.18 988.7v1.7M380.63 548.3v-1.7M380.63 988.7v1.7M386.09 548.3v-1.7M386.09 988.7v1.7M391.55 548.3v-1.7M391.55 988.7v1.7M397.00 548.3v-3.5M397.00 988.7v3.5M402.46 548.3v-1.7M402.46 988.7v1.7M407.91 548.3v-1.7M407.91 988.7v1.7M413.37 548.3v-1.7M413.37 988.7v1.7M418.82 548.3v-1.7M418.82 988.7v1.7M424.27 548.3v-2.7M424.27 988.7v2.7M429.73 548.3v-1.7M429.73 988.7v1.7M435.19 548.3v-1.7M435.19 988.7v1.7M440.64 548.3v-1.7M440.64 988.7v1.7M446.10 548.3v-1.7M446.10 988.7v1.7M451.55 548.3v-3.5M451.55 988.7v3.5M457.00 548.3v-1.7M457.00 988.7v1.7M462.46 548.3v-1.7M462.46 988.7v1.7M467.92 548.3v-1.7M467.92 988.7v1.7M473.37 548.3v-1.7M473.37 988.7v1.7M478.83 548.3v-2.7M478.83 988.7v2.7M484.28 548.3v-1.7M484.28 988.7v1.7M489.74 548.3v-1.7M489.74 988.7v1.7M495.19 548.3v-1.7M495.19 988.7v1.7M500.65 548.3v-1.7M500.65 988.7v1.7M506.10 548.3v-3.5M506.10 988.7v3.5M511.56 548.3v-1.7M511.56 988.7v1.7M517.01 548.3v-1.7M517.01 988.7v1.7M522.47 548.3v-1.7M522.47 988.7v1.7M527.92 548.3v-1.7M527.92 988.7v1.7M533.38 548.3v-2.7M533.38 988.7v2.7M538.83 548.3v-1.7M538.83 988.7v1.7M544.29 548.3v-1.7M544.29 988.7v1.7M549.74 548.3v-1.7M549.74 988.7v1.7M555.19 548.3v-1.7M555.19 988.7v1.7M560.65 548.3v-3.5M560.65 988.7v3.5M566.11 548.3v-1.7M566.11 988.7v1.7M571.56 548.3v-1.7M571.56 988.7v1.7M577.02 548.3v-1.7M577.02 988.7v1.7M582.47 548.3v-1.7M582.47 988.7v1.7M587.92 548.3v-2.7M587.92 988.7v2.7M593.38 548.3v-1.7M593.38 988.7v1.7M598.84 548.3v-1.7M598.84 988.7v1.7M604.29 548.3v-1.7M604.29 988.7v1.7M609.75 548.3v-1.7M609.75 988.7v1.7M615.20 548.3v-3.5M615.20 988.7v3.5M620.65 548.3v-1.7M620.65 988.7v1.7M626.11 548.3v-1.7M626.11 988.7v1.7M631.57 548.3v-1.7M631.57 988.7v1.7M637.02 548.3v-1.7M637.02 988.7v1.7M642.48 548.3v-2.7M642.48 988.7v2.7M647.93 548.3v-1.7M647.93 988.7v1.7M653.38 548.3v-1.7M653.38 988.7v1.7M658.84 548.3v-1.7M658.84 988.7v1.7M664.30 548.3v-1.7M664.30 988.7v1.7M669.75 548.3v-3.5M669.75 988.7v3.5M675.21 548.3v-1.7M675.21 988.7v1.7M680.66 548.3v-1.7M680.66 988.7v1.7M686.12 548.3v-1.7M686.12 988.7v1.7M691.57 548.3v-1.7M691.57 988.7v1.7M697.03 548.3v-2.7M697.03 988.7v2.7M702.48 548.3v-1.7M702.48 988.7v1.7M707.93 548.3v-1.7M707.93 988.7v1.7M713.39 548.3v-1.7M713.39 988.7v1.7M718.85 548.3v-1.7M718.85 988.7v1.7M724.30 548.3v-3.5M724.30 988.7v3.5M729.76 548.3v-1.7M729.76 988.7v1.7M735.21 548.3v-1.7M735.21 988.7v1.7M740.66 548.3v-1.7M740.66 988.7v1.7M746.12 548.3v-1.7M746.12 988.7v1.7M43.3 551.88h-1.7M746.5 551.88h1.7M43.3 558.36h-1.7M746.5 558.36h1.7M43.3 564.84h-1.7M746.5 564.84h1.7M43.3 571.32h-1.7M746.5 571.32h1.7M43.3 577.80h-2.9M746.5 577.80h2.9M43.3 584.28h-1.7M746.5 584.28h1.7M43.3 590.76h-1.7M746.5 590.76h1.7M43.3 597.24h-1.7M746.5 597.24h1.7M43.3 603.72h-1.7M746.5 603.72h1.7M43.3 610.20h-3.7M746.5 610.20h3.7M43.3 616.68h-1.7M746.5 616.68h1.7M43.3 623.16h-1.7M746.5 623.16h1.7M43.3 629.64h-1.7M746.5 629.64h1.7M43.3 636.12h-1.7M746.5 636.12h1.7M43.3 642.60h-2.9M746.5 642.60h2.9M43.3 649.08h-1.7M746.5 649.08h1.7M43.3 655.56h-1.7M746.5 655.56h1.7M43.3 662.04h-1.7M746.5 662.04h1.7M43.3 668.52h-1.7M746.5 668.52h1.7M43.3 675.00h-3.7M746.5 675.00h3.7M43.3 681.48h-1.7M746.5 681.48h1.7M43.3 687.96h-1.7M746.5 687.96h1.7M43.3 694.44h-1.7M746.5 694.44h1.7M43.3 700.92h-1.7M746.5 700.92h1.7M43.3 707.40h-2.9M746.5 707.40h2.9M43.3 713.88h-1.7M746.5 713.88h1.7M43.3 720.36h-1.7M746.5 720.36h1.7M43.3 726.84h-1.7M746.5 726.84h1.7M43.3 733.32h-1.7M746.5 733.32h1.7M43.3 739.80h-3.7M746.5 739.80h3.7M43.3 746.28h-1.7M746.5 746.28h1.7M43.3 752.76h-1.7M746.5 752.76h1.7M43.3 759.24h-1.7M746.5 759.24h1.7M43.3 765.72h-1.7M746.5 765.72h1.7M43.3 772.20h-2.9M746.5 772.20h2.9M43.3 778.68h-1.7M746.5 778.68h1.7M43.3 785.16h-1.7M746.5 785.16h1.7M43.3 791.64h-1.7M746.5 791.64h1.7M43.3 798.12h-1.7M746.5 798.12h1.7M43.3 804.60h-3.7M746.5 804.60h3.7M43.3 811.08h-1.7M746.5 811.08h1.7M43.3 817.56h-1.7M746.5 817.56h1.7M43.3 824.04h-1.7M746.5 824.04h1.7M43.3 830.52h-1.7M746.5 830.52h1.7M43.3 837.00h-2.9M746.5 837.00h2.9M43.3 843.48h-1.7M746.5 843.48h1.7M43.3 849.96h-1.7M746.5 849.96h1.7M43.3 856.44h-1.7M746.5 856.44h1.7M43.3 862.92h-1.7M746.5 862.92h1.7M43.3 869.40h-3.7M746.5 869.40h3.7M43.3 875.88h-1.7M746.5 875.88h1.7M43.3 882.36h-1.7M746.5 882.36h1.7M43.3 888.84h-1.7M746.5 888.84h1.7M43.3 895.32h-1.7M746.5 895.32h1.7M43.3 901.80h-2.9M746.5 901.80h2.9M43.3 908.28h-1.7M746.5 908.28h1.7M43.3 914.76h-1.7M746.5 914.76h1.7M43.3 921.24h-1.7M746.5 921.24h1.7M43.3 927.72h-1.7M746.5 927.72h1.7M43.3 934.20h-3.7M746.5 934.20h3.7M43.3 940.68h-1.7M746.5 940.68h1.7M43.3 947.16h-1.7M746.5 947.16h1.7M43.3 953.64h-1.7M746.5 953.64h1.7M43.3 960.12h-1.7M746.5 960.12h1.7M43.3 966.60h-2.9M746.5 966.60h2.9M43.3 973.08h-1.7M746.5 973.08h1.7M43.3 979.56h-1.7M746.5 979.56h1.7M43.3 986.04h-1.7M746.5 986.04h1.7" stroke="#222" stroke-width="1" fill="none"/><rect x="43.3" y="548.3" width="703.2" height="440.4000000000001" fill="none" stroke="#f04444" stroke-width="1"/><text x="24.7" y="770.5" font-size="11.8" fill="#111" text-anchor="middle" font-weight="bold" font-style="italic" textLength="40.0" lengthAdjust="spacingAndGlyphs" transform="rotate(-90 24.7 770.5)">Y, [ms]</text><rect x="1.7" y="520.4" width="764.6" height="486.3" fill="none" stroke="#000" stroke-width="1.5"/><text x="385.4" y="1028.7" font-size="21" fill="#111" style="font-family:'Liberation Serif',serif">(b)</text></svg></body></html>
